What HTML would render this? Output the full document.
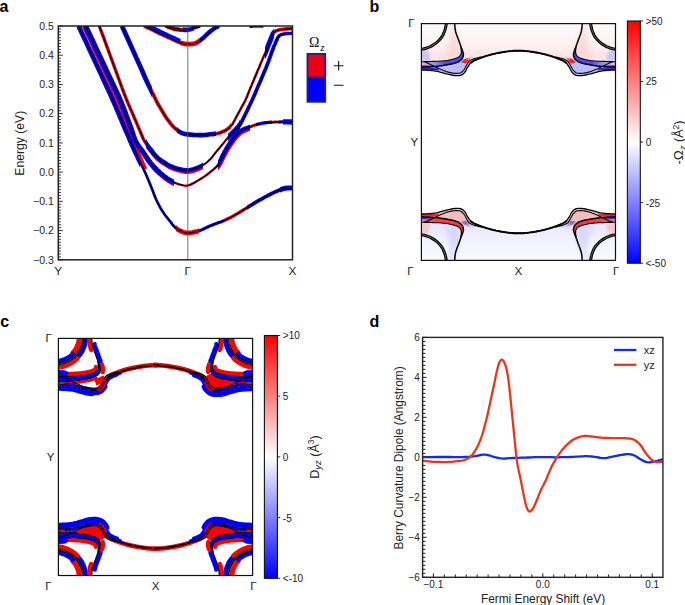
<!DOCTYPE html>
<html><head><meta charset="utf-8"><style>
html,body{margin:0;padding:0;background:#fff;}
svg{display:block;}
</style></head><body>
<svg width="685" height="605" viewBox="0 0 685 605">
<defs>
<linearGradient id="cb0" x1="0" y1="0" x2="0" y2="1"><stop offset="0" stop-color="#ff0000"/><stop offset="0.5" stop-color="#ffffff"/><stop offset="1" stop-color="#0000ff"/></linearGradient>
<linearGradient id="cb1" x1="0" y1="0" x2="0" y2="1"><stop offset="0" stop-color="#ff0000"/><stop offset="0.5" stop-color="#ffffff"/><stop offset="1" stop-color="#0000ff"/></linearGradient>
<clipPath id="clipA"><rect x="58.3" y="26" width="234.2" height="233.8"/></clipPath>
<clipPath id="cr_B1_100"><rect x="100" y="0" width="40" height="300"/></clipPath>
<clipPath id="cl_B1_76"><rect x="76" y="0" width="64" height="300"/></clipPath>
<clipPath id="cl_B1_140"><rect x="140" y="0" width="36" height="300"/></clipPath>
<clipPath id="cl_B1_176"><rect x="176" y="0" width="23" height="300"/></clipPath>
<clipPath id="cl_B1_199"><rect x="199" y="0" width="25" height="300"/></clipPath>
<clipPath id="cl_B1_224"><rect x="224" y="0" width="23" height="300"/></clipPath>
<clipPath id="cl_B1_247"><rect x="247" y="0" width="33" height="300"/></clipPath>
<clipPath id="cl_B1_280"><rect x="280" y="0" width="13" height="300"/></clipPath>
<clipPath id="cl_B1b_80"><rect x="80" y="0" width="67" height="300"/></clipPath>
<clipPath id="cr_B2_124"><rect x="124" y="0" width="50" height="300"/></clipPath>
<clipPath id="cr_B2_218"><rect x="218" y="0" width="32" height="300"/></clipPath>
<clipPath id="cl_B2_84"><rect x="84" y="0" width="40" height="300"/></clipPath>
<clipPath id="cl_B2_124"><rect x="124" y="0" width="50" height="300"/></clipPath>
<clipPath id="cl_B2_174"><rect x="174" y="0" width="44" height="300"/></clipPath>
<clipPath id="cl_B2_218"><rect x="218" y="0" width="32" height="300"/></clipPath>
<clipPath id="cl_B2_250"><rect x="250" y="0" width="6" height="300"/></clipPath>
<clipPath id="cl_B2_256"><rect x="256" y="0" width="16" height="300"/></clipPath>
<clipPath id="cl_B2_272"><rect x="272" y="0" width="7" height="300"/></clipPath>
<clipPath id="cl_B2_279"><rect x="279" y="0" width="4" height="300"/></clipPath>
<clipPath id="cl_B2_283"><rect x="283" y="0" width="10" height="300"/></clipPath>
<clipPath id="cr_B3_146"><rect x="146" y="0" width="57" height="300"/></clipPath>
<clipPath id="cl_B3_97"><rect x="97" y="0" width="49" height="300"/></clipPath>
<clipPath id="cl_B3_146"><rect x="146" y="0" width="42" height="300"/></clipPath>
<clipPath id="cl_B3_188"><rect x="188" y="0" width="15" height="300"/></clipPath>
<clipPath id="cl_B3_203"><rect x="203" y="0" width="25" height="300"/></clipPath>
<clipPath id="cl_B3_228"><rect x="228" y="0" width="12" height="300"/></clipPath>
<clipPath id="cl_B3_240"><rect x="240" y="0" width="39" height="300"/></clipPath>
<clipPath id="cl_B3_279"><rect x="279" y="0" width="14" height="300"/></clipPath>
<clipPath id="cl_B4_120"><rect x="120" y="0" width="32" height="300"/></clipPath>
<clipPath id="cl_B4_152"><rect x="152" y="0" width="25" height="300"/></clipPath>
<clipPath id="cl_B4_177"><rect x="177" y="0" width="39" height="300"/></clipPath>
<clipPath id="cl_B4_216"><rect x="216" y="0" width="15" height="300"/></clipPath>
<clipPath id="cl_B4_231"><rect x="231" y="0" width="34" height="300"/></clipPath>
<clipPath id="cl_B4_265"><rect x="265" y="0" width="9.300000000000011" height="300"/></clipPath>
<clipPath id="cl_B4_274.3"><rect x="274.3" y="0" width="18.69999999999999" height="300"/></clipPath>
<clipPath id="cl_B5_142"><rect x="142" y="0" width="38" height="300"/></clipPath>
<clipPath id="cl_B5_180"><rect x="180" y="0" width="20" height="300"/></clipPath>
<clipPath id="cl_B5_200"><rect x="200" y="0" width="22" height="300"/></clipPath>
<clipPath id="cl_B5b_145"><rect x="145" y="0" width="36" height="300"/></clipPath>
<clipPath id="cl_B6c_164"><rect x="164" y="0" width="22" height="300"/></clipPath>
<clipPath id="cl_B7_249"><rect x="249" y="0" width="15" height="300"/></clipPath>
<clipPath id="cl_B6_164"><rect x="164" y="0" width="19" height="300"/></clipPath>
<clipPath id="cl_B6_183"><rect x="183" y="0" width="11" height="300"/></clipPath>
<clipPath id="cl_B6_194"><rect x="194" y="0" width="8" height="300"/></clipPath>
<clipPath id="clipD"><rect x="422.6" y="337.4" width="240.3" height="239.9"/></clipPath>
<filter id="blur05" x="-20%" y="-20%" width="140%" height="140%"><feGaussianBlur stdDeviation="0.5"/></filter>
<filter id="blur08" x="-30%" y="-50%" width="160%" height="200%"><feGaussianBlur stdDeviation="0.8"/></filter>
<filter id="blur1" x="-30%" y="-30%" width="160%" height="160%"><feGaussianBlur stdDeviation="1.2"/></filter>
<filter id="blur2" x="-50%" y="-50%" width="200%" height="200%"><feGaussianBlur stdDeviation="2.5"/></filter>
<linearGradient id="washp" gradientUnits="userSpaceOnUse" x1="0" y1="-2" x2="0" y2="30"><stop offset="0" stop-color="#fefafa"/><stop offset="0.5" stop-color="#fdf5f5"/><stop offset="0.8" stop-color="#fcefef"/><stop offset="1" stop-color="#fbe6e6"/></linearGradient>
<linearGradient id="washn" gradientUnits="userSpaceOnUse" x1="0" y1="-2" x2="0" y2="30"><stop offset="0" stop-color="#f9f9fe"/><stop offset="0.5" stop-color="#f5f5fe"/><stop offset="0.8" stop-color="#f0f0fd"/><stop offset="1" stop-color="#eaeafc"/></linearGradient>
<linearGradient id="c2gp" gradientUnits="userSpaceOnUse" x1="0" y1="0" x2="30" y2="0"><stop offset="0" stop-color="#2020f4" stop-opacity="0.15"/><stop offset="0.45" stop-color="#2020f4" stop-opacity="0.45"/><stop offset="0.8" stop-color="#2020f4" stop-opacity="0.8"/></linearGradient>
<linearGradient id="c2gn" gradientUnits="userSpaceOnUse" x1="0" y1="0" x2="30" y2="0"><stop offset="0" stop-color="#ff1a1a" stop-opacity="0.55"/><stop offset="0.3" stop-color="#ff1a1a" stop-opacity="0.8"/><stop offset="0.8" stop-color="#ff1a1a" stop-opacity="0.85"/></linearGradient>
<g id="qbp"><path d="M-2,-2 L99.05,-2 L99.05,27 L99.0,27.0 L98.7,27.0 L98.4,27.0 L98.1,27.0 L97.8,27.0 L97.4,27.0 L97.0,27.0 L96.4,27.0 L95.7,27.0 L94.9,27.1 L94.1,27.1 L93.3,27.2 L92.4,27.2 L91.3,27.3 L90.1,27.4 L88.8,27.6 L87.5,27.7 L86.2,27.8 L85.0,28.0 L83.8,28.2 L82.6,28.4 L81.4,28.5 L80.2,28.8 L79.0,29.0 L77.8,29.2 L76.5,29.5 L75.2,29.7 L73.9,30.0 L72.6,30.3 L71.3,30.6 L70.0,30.9 L68.8,31.2 L67.6,31.5 L66.5,31.9 L65.3,32.2 L64.2,32.6 L63.2,32.9 L62.4,33.2 L61.6,33.5 L60.9,33.7 L60.1,34.0 L59.4,34.3 L58.6,34.6 L57.7,35.0 L56.7,35.3 L55.7,35.7 L54.7,36.1 L53.8,36.5 L52.9,36.9 L52.2,37.2 L51.6,37.6 L51.0,37.9 L50.5,38.3 L49.9,38.7 L49.4,39.2 L48.8,39.8 L48.3,40.5 L47.8,41.2 L47.3,42.0 L46.8,42.8 L46.3,43.6 L45.8,44.5 L45.3,45.4 L44.9,46.3 L44.4,47.2 L43.9,48.1 L43.3,48.8 L42.8,49.4 L42.3,49.9 L41.7,50.4 L41.1,50.8 L40.5,51.2 L39.8,51.5 L38.9,51.8 L37.9,51.9 L36.9,52.0 L35.8,52.0 L34.7,52.0 L33.6,51.9 L32.2,51.8 L30.8,51.5 L29.3,51.2 L27.9,50.9 L26.4,50.5 L24.9,50.2 L23.4,49.8 L21.9,49.4 L20.4,49.0 L18.9,48.5 L17.5,48.1 L16.0,47.8 L14.6,47.6 L13.3,47.4 L12.0,47.2 L10.7,47.0 L9.3,46.9 L8.0,46.8 L6.6,46.7 L5.1,46.6 L3.7,46.6 L2.3,46.5 L1.0,46.5 L0.0,46.5 L-0.4,46.5 L-0.8,46.5 L-1.1,46.5 L-1.4,46.5 L-1.7,46.5 L-2.0,46.5 Z" fill="url(#washp)"/>
<path d="M24,-1 L33,-1 C34,10 37,18 40,26 C40,31 38,34 34,35.5 L20,36.5 C24,30 28,20 28,10 Z" fill="#f7caca" opacity="0.38" filter="url(#blur2)"/>
<ellipse cx="33.5" cy="22" rx="4.5" ry="12" fill="#f7caca" opacity="0.35" filter="url(#blur2)"/>
<path d="M-1,27 L5,26 C8,29 9,33 9,38 L-1,38 Z" fill="#bcbcf6" opacity="0.75" filter="url(#blur1)"/>
<path d="M41.0,34.6 40.7,35.0 40.3,35.3 40.0,35.7 39.7,36.1 39.3,36.4 39.0,36.8 38.6,37.1 38.2,37.4 37.7,37.7 37.2,38.0 36.7,38.3 36.1,38.6 35.5,38.8 34.9,39.0 34.3,39.3 33.6,39.5 32.7,39.8 31.6,40.0 30.6,40.3 29.4,40.5 28.3,40.7 27.2,40.9 26.0,41.1 24.9,41.3 23.8,41.5 22.7,41.7 21.6,41.8 20.5,42.0 19.4,42.2 18.3,42.3 17.2,42.5 16.1,42.6 15.1,42.7 14.1,42.8 13.0,42.9 12.0,43.0 11.0,43.1 10.0,43.1 9.0,43.2 8.0,43.3 10.0,41.3 10.7,41.7 11.5,42.0 12.2,42.4 13.0,42.8 13.7,43.1 14.5,43.5 15.2,43.8 16.0,44.2 16.8,44.6 17.5,44.9 18.3,45.3 19.1,45.6 19.8,46.0 20.6,46.3 21.3,46.6 22.0,46.9 22.5,47.1 23.0,47.3 23.5,47.5 24.0,47.7 24.4,47.8 24.9,48.0 25.4,48.1 26.0,48.3 26.8,48.5 27.8,48.7 28.7,49.0 29.7,49.2 30.7,49.4 31.7,49.5 32.7,49.6 33.6,49.7 34.3,49.7 35.0,49.8 35.7,49.8 36.4,49.8 37.1,49.7 37.7,49.6 38.3,49.5 38.9,49.3 39.4,49.1 39.8,48.8 40.3,48.5 40.7,48.2 41.1,47.9 41.5,47.5 41.8,47.1 42.2,46.7 42.6,46.2 42.9,45.7 43.3,45.2 43.6,44.6 43.9,44.0 44.2,43.4 44.5,42.9 44.8,42.3 45.1,41.8 45.4,41.2 45.8,40.7 46.1,40.1 46.4,39.6 46.7,39.1 47.1,38.5 47.4,38.0Z" fill="#bcbcf6" opacity="0.9" filter="url(#blur05)"/>
<path d="M41.0,34.6 40.7,35.0 40.3,35.3 40.0,35.7 39.7,36.1 39.3,36.4 39.0,36.8 38.6,37.1 38.2,37.4 37.7,37.7 37.2,38.0 36.7,38.3 36.1,38.6 35.5,38.8 34.9,39.0 34.3,39.3 33.6,39.5 32.7,39.8 31.6,40.0 30.6,40.3 29.4,40.5 28.3,40.7 27.2,40.9 26.0,41.1 24.9,41.3 23.8,41.5 22.7,41.7 21.6,41.8 20.5,42.0 19.4,42.2 18.3,42.3 17.2,42.5 16.1,42.6 15.1,42.7 14.1,42.8 13.0,42.9 12.0,43.0 11.0,43.1 10.0,43.1 9.0,43.2 8.0,43.3 10.0,41.3 10.7,41.7 11.5,42.0 12.2,42.4 13.0,42.8 13.7,43.1 14.5,43.5 15.2,43.8 16.0,44.2 16.8,44.6 17.5,44.9 18.3,45.3 19.1,45.6 19.8,46.0 20.6,46.3 21.3,46.6 22.0,46.9 22.5,47.1 23.0,47.3 23.5,47.5 24.0,47.7 24.4,47.8 24.9,48.0 25.4,48.1 26.0,48.3 26.8,48.5 27.8,48.7 28.7,49.0 29.7,49.2 30.7,49.4 31.7,49.5 32.7,49.6 33.6,49.7 34.3,49.7 35.0,49.8 35.7,49.8 36.4,49.8 37.1,49.7 37.7,49.6 38.3,49.5 38.9,49.3 39.4,49.1 39.8,48.8 40.3,48.5 40.7,48.2 41.1,47.9 41.5,47.5 41.8,47.1 42.2,46.7 42.6,46.2 42.9,45.7 43.3,45.2 43.6,44.6 43.9,44.0 44.2,43.4 44.5,42.9 44.8,42.3 45.1,41.8 45.4,41.2 45.8,40.7 46.1,40.1 46.4,39.6 46.7,39.1 47.1,38.5 47.4,38.0Z" fill="#bcbcf6" opacity="0.9"/>
<path d="M16.0,44.2 16.8,44.5 17.5,44.9 18.3,45.3 19.1,45.6 19.8,46.0 20.6,46.3 21.3,46.6 22.0,46.9 22.5,47.1 23.0,47.3 23.5,47.5 24.0,47.7 24.4,47.8 24.9,48.0 25.4,48.1 26.0,48.3 26.8,48.5 27.8,48.7 28.7,49.0 29.7,49.2 30.7,49.4 31.7,49.5 32.7,49.6 33.6,49.7 34.3,49.7 35.0,49.8 35.7,49.8 36.4,49.8 37.1,49.7 37.7,49.6 38.3,49.5 38.9,49.3 39.4,49.1 39.8,48.8 40.3,48.5 40.7,48.2 41.1,47.9 41.5,47.5 41.8,47.1 42.2,46.7 42.6,46.2 42.9,45.7 43.3,45.2 43.6,44.6 43.9,44.0 44.2,43.4 44.5,42.9 44.8,42.3 45.1,41.7 45.4,41.2 45.7,40.6 46.0,40.0 46.3,39.5 46.7,38.9 47.0,38.4 47.4,38.0 47.8,37.6 48.2,37.3 48.6,37.0 49.1,36.8 49.5,36.5 50.0,36.3 50.5,36.0 51.0,35.8 51.6,35.5 52.3,35.3 53.0,35.1 53.7,34.8 54.4,34.6 55.1,34.4 55.8,34.3 56.4,34.1 56.9,34.0 57.3,33.9 57.8,33.8 58.2,33.7 58.7,33.6 59.1,33.6 59.6,33.5 60.0,33.4 63.2,32.9 62.6,33.1 62.1,33.3 61.5,33.5 60.9,33.7 60.4,33.9 59.8,34.2 59.2,34.4 58.6,34.6 57.9,34.9 57.2,35.1 56.4,35.4 55.7,35.7 54.9,36.0 54.2,36.3 53.5,36.6 52.9,36.9 52.4,37.2 51.9,37.4 51.5,37.7 51.0,37.9 50.6,38.2 50.2,38.5 49.8,38.8 49.4,39.2 49.0,39.7 48.6,40.2 48.2,40.7 47.8,41.2 47.4,41.8 47.0,42.4 46.7,43.0 46.3,43.6 45.9,44.2 45.6,44.9 45.2,45.6 44.9,46.3 44.5,47.0 44.1,47.6 43.7,48.3 43.3,48.8 42.9,49.2 42.5,49.6 42.1,50.0 41.7,50.4 41.3,50.7 40.8,51.0 40.3,51.3 39.8,51.5 39.1,51.7 38.4,51.9 37.7,51.9 36.9,52.0 36.1,52.0 35.3,52.0 34.4,52.0 33.6,51.9 32.6,51.8 31.5,51.7 30.4,51.5 29.3,51.2 28.2,51.0 27.1,50.7 26.0,50.5 24.9,50.2 23.8,49.9 22.7,49.6 21.6,49.3 20.5,49.0 19.3,48.7 18.2,48.4 17.1,48.1 16.0,47.8Z" fill="#bcbcf6" opacity="0.8"/>
<path d="M39.4,23.5 39.5,24.1 39.6,24.8 39.7,25.4 39.7,26.0 39.8,26.7 39.9,27.3 39.9,27.9 39.9,28.4 39.9,28.8 39.8,29.2 39.8,29.6 39.7,29.9 39.6,30.3 39.5,30.6 39.4,31.0 39.2,31.3 39.0,31.6 38.8,31.9 38.6,32.2 38.3,32.4 38.1,32.7 37.8,32.9 37.5,33.2 37.2,33.4 36.8,33.6 36.4,33.9 36.0,34.1 35.6,34.3 35.1,34.5 34.7,34.6 34.1,34.8 33.6,35.0 32.7,35.3 31.7,35.5 30.7,35.8 29.6,36.1 28.5,36.3 27.3,36.5 26.1,36.7 24.9,36.9 23.4,37.1 21.8,37.2 20.1,37.4 18.4,37.5 16.7,37.6 15.0,37.7 13.3,37.7 11.7,37.8 10.1,37.9 8.5,37.9 6.8,38.0 5.2,38.0 3.6,38.0 2.2,38.1 1.0,38.1 0.0,38.1 -0.3,38.1 -0.6,38.1 -0.9,38.1 -1.1,38.1 -1.3,38.1 -1.5,38.1 -1.8,38.1 -2.0,38.1 -2.0,43.6 -1.8,43.6 -1.5,43.6 -1.3,43.6 -1.1,43.6 -0.8,43.6 -0.6,43.6 -0.3,43.6 0.0,43.6 0.7,43.6 1.6,43.6 2.6,43.5 3.7,43.5 4.8,43.5 5.9,43.4 7.0,43.4 8.0,43.3 9.0,43.2 10.0,43.2 11.0,43.1 12.0,43.0 13.0,42.9 14.1,42.8 15.1,42.7 16.1,42.6 17.2,42.5 18.3,42.3 19.4,42.2 20.5,42.0 21.6,41.8 22.7,41.7 23.8,41.5 24.9,41.3 26.0,41.1 27.2,40.9 28.3,40.7 29.4,40.5 30.6,40.3 31.6,40.0 32.7,39.8 33.6,39.5 34.3,39.3 34.9,39.0 35.5,38.8 36.1,38.6 36.7,38.3 37.2,38.0 37.7,37.7 38.2,37.4 38.6,37.1 39.0,36.8 39.4,36.5 39.8,36.1 40.1,35.7 40.5,35.4 40.7,35.0 41.0,34.6 41.2,34.2 41.4,33.8 41.6,33.4 41.7,33.0 41.8,32.5 41.9,32.1 42.0,31.6 42.0,31.2 42.0,30.7 41.9,30.3 41.9,29.8 41.8,29.3 41.6,28.9 41.5,28.4 41.3,27.9 41.2,27.4 41.0,26.8 40.8,26.2 40.6,25.5 40.3,24.8 40.1,24.2 39.8,23.5 39.5,22.9 39.3,22.2Z" fill="url(#c2gp)"/>
<path d="M39.6,38.6 L44,34.9 L49.8,34.0 L48,36.2 L44.5,39.8 Z" fill="#ff1a1a" opacity="1.0" filter="url(#blur05)"/>
<ellipse cx="50" cy="34.6" rx="5" ry="1.6" fill="#f7caca" opacity="0.8" filter="url(#blur1)"/>
<path d="M-1,41.3 L6,41.6 L13,42.3 L18,43.2 L12,43.6 L6,43.5 L-1,43.4 Z" fill="#ff1a1a" filter="url(#blur05)"/>
<path d="M-1,43.7 L8,43.9 L16,44.6 L18,46.9 L8,46.4 L-1,46.3 Z" fill="#2020f4" filter="url(#blur05)"/>
<path d="M25.2,-2.0 25.1,-1.5 25.0,-1.0 25.0,-0.5 24.9,-0.0 24.8,0.5 24.7,1.2 24.6,2.0 24.4,2.8 24.3,3.6 24.1,4.4 23.9,5.1 23.8,5.7 23.6,6.3 23.4,6.9 23.1,7.6 22.7,8.7 22.2,9.8 21.7,11.0 21.1,12.2 20.4,13.3 19.6,14.5 18.6,15.6 17.6,16.7 16.6,17.7 15.5,18.7 14.4,19.6 13.2,20.5 11.9,21.3 10.7,22.0 9.5,22.7 8.5,23.2 7.5,23.6 6.5,24.0 5.6,24.4 4.6,24.7 3.7,24.9 2.9,25.1 2.1,25.3 1.3,25.5 0.5,25.6 -0.0,25.7 -0.5,25.7 -1.0,25.8 -1.5,25.8 -2.0,25.9" fill="none" stroke="#000" stroke-width="3.0" stroke-linejoin="round"/><path d="M25.2,-2.0 25.1,-1.5 25.0,-1.0 25.0,-0.5 24.9,-0.0 24.8,0.5 24.7,1.2 24.6,2.0 24.4,2.8 24.3,3.6 24.1,4.4 23.9,5.1 23.8,5.7 23.6,6.3 23.4,6.9 23.1,7.6 22.7,8.7 22.2,9.8 21.7,11.0 21.1,12.2 20.4,13.3 19.6,14.5 18.6,15.6 17.6,16.7 16.6,17.7 15.5,18.7 14.4,19.6 13.2,20.5 11.9,21.3 10.7,22.0 9.5,22.7 8.5,23.2 7.5,23.6 6.5,24.0 5.6,24.4 4.6,24.7 3.7,24.9 2.9,25.1 2.1,25.3 1.3,25.5 0.5,25.6 -0.0,25.7 -0.5,25.7 -1.0,25.8 -1.5,25.8 -2.0,25.9" fill="none" stroke="#bbb" stroke-width="0.55" stroke-linejoin="round"/>
<path d="M33.2,-2.0 33.2,-1.5 33.2,-1.1 33.2,-0.6 33.3,-0.1 33.3,0.5 33.4,1.8 33.5,3.3 33.7,5.0 34.0,6.7 34.3,8.3 34.7,9.7 35.2,11.1 35.7,12.5 36.3,13.9 36.8,15.3 37.3,16.7 37.8,18.1 38.3,19.5 38.8,20.9 39.3,22.2 39.7,23.3 40.1,24.4 40.5,25.4 40.9,26.4 41.2,27.4 41.4,28.2 41.7,29.0 41.9,29.7 42.0,30.5 42.0,31.2 41.9,31.9 41.8,32.6 41.6,33.3 41.3,34.0 41.0,34.6 40.6,35.2 40.1,35.8 39.5,36.4 38.9,36.9 38.2,37.4 37.4,37.9 36.6,38.4 35.6,38.8 34.7,39.1 33.6,39.5 32.1,39.9 30.3,40.3 28.5,40.7 26.7,41.0 24.9,41.3 23.1,41.6 21.4,41.9 19.6,42.1 17.8,42.4 16.1,42.6 14.5,42.8 12.8,42.9 11.2,43.1 9.6,43.2 8.0,43.3 6.3,43.4 4.5,43.5 2.8,43.5 1.3,43.6 0.0,43.6 -0.5,43.6 -0.9,43.6 -1.3,43.6 -1.6,43.6 -2.0,43.6" fill="none" stroke="#000" stroke-width="1.5" stroke-linejoin="round" stroke-linecap="round"/>
<path d="M39.4,23.5 39.5,24.5 39.7,25.5 39.8,26.5 39.9,27.5 39.9,28.4 39.8,29.0 39.8,29.7 39.6,30.2 39.4,30.8 39.2,31.3 38.9,31.8 38.5,32.2 38.1,32.6 37.7,33.0 37.2,33.4 36.6,33.8 35.9,34.1 35.2,34.4 34.5,34.7 33.6,35.0 32.1,35.4 30.5,35.9 28.7,36.2 26.8,36.6 24.9,36.9 22.4,37.2 19.8,37.4 17.1,37.6 14.3,37.7 11.7,37.8 9.2,37.9 6.5,38.0 3.9,38.0 1.7,38.1 0.0,38.1 -0.5,38.1 -0.9,38.1 -1.3,38.1 -1.6,38.1 -2.0,38.1" fill="none" stroke="#000" stroke-width="1.1" stroke-linejoin="round" stroke-linecap="round"/>
<path d="M3.5,38.3 4.8,38.9 6.1,39.5 7.4,40.1 8.7,40.7 10.0,41.3 11.2,41.9 12.4,42.5 13.6,43.1 14.8,43.6 16.0,44.2 17.2,44.8 18.5,45.3 19.7,45.9 20.9,46.4 22.0,46.9 22.8,47.2 23.6,47.5 24.3,47.8 25.1,48.1 26.0,48.3 27.4,48.6 28.9,49.0 30.5,49.3 32.1,49.6 33.6,49.7 34.7,49.8 35.9,49.8 36.9,49.7 38.0,49.6 38.9,49.3 39.7,48.9 40.4,48.5 41.0,47.9 41.6,47.3 42.2,46.7 42.8,45.9 43.3,45.1 43.8,44.1 44.3,43.2 44.8,42.3 45.3,41.4 45.8,40.5 46.3,39.6 46.8,38.7 47.4,38.0 48.0,37.4 48.7,37.0 49.4,36.6 50.2,36.2 51.0,35.8 52.0,35.4 53.1,35.0 54.3,34.7 55.4,34.4 56.4,34.1 57.2,33.9 57.9,33.8 58.6,33.7 59.3,33.5 60.0,33.4" fill="none" stroke="#000" stroke-width="1.1" stroke-linejoin="round" stroke-linecap="round"/>
<path d="M-2.0,46.5 -1.6,46.5 -1.3,46.5 -0.9,46.5 -0.5,46.5 0.0,46.5 1.3,46.5 2.8,46.6 4.5,46.6 6.3,46.7 8.0,46.8 9.6,46.9 11.2,47.1 12.8,47.3 14.4,47.5 16.0,47.8 17.8,48.2 19.5,48.7 21.3,49.2 23.1,49.7 24.9,50.2 26.7,50.6 28.4,51.0 30.2,51.4 32.0,51.7 33.6,51.9 34.9,52.0 36.3,52.0 37.5,52.0 38.7,51.8 39.8,51.5 40.6,51.1 41.4,50.7 42.0,50.1 42.7,49.5 43.3,48.8 44.0,47.9 44.6,46.9 45.1,45.7 45.7,44.6 46.3,43.6 46.9,42.7 47.5,41.7 48.1,40.8 48.7,39.9 49.4,39.2 50.0,38.6 50.7,38.2 51.4,37.7 52.1,37.3 52.9,36.9 53.9,36.4 55.1,35.9 56.3,35.5 57.5,35.0 58.6,34.6 59.5,34.2 60.4,33.9 61.3,33.6 62.2,33.2 63.2,32.9 64.5,32.5 65.8,32.1 67.2,31.7 68.6,31.3 70.0,30.9 71.5,30.5 73.1,30.2 74.7,29.8 76.2,29.5 77.8,29.2 79.3,28.9 80.7,28.7 82.1,28.4 83.6,28.2 85.0,28.0 86.5,27.8 88.0,27.6 89.6,27.5 91.0,27.4 92.4,27.2 93.4,27.2 94.4,27.1 95.4,27.1 96.3,27.0 97.0,27.0 97.5,27.0 97.9,27.0 98.3,27.0 98.6,27.0 99.0,27.0" fill="none" stroke="#000" stroke-width="1.3" stroke-linejoin="round" stroke-linecap="round"/>
<path d="M49.4,39.2 50.1,38.7 50.7,38.3 51.4,37.8 52.1,37.3 52.9,36.9 53.9,36.4 55.1,35.9 56.3,35.5 57.5,35.0 58.6,34.6 59.5,34.2 60.4,33.9 61.3,33.6 62.2,33.2 63.2,32.9 64.5,32.5 65.8,32.1 67.2,31.7 68.6,31.3 70.0,30.9 71.5,30.5 73.1,30.2 74.7,29.8 76.2,29.5 77.8,29.2 79.3,28.9 80.7,28.7 82.1,28.4 83.6,28.2 85.0,28.0 86.5,27.8 88.0,27.6 89.6,27.5 91.0,27.4 92.4,27.2 93.4,27.2 94.4,27.1 95.4,27.1 96.3,27.0 97.0,27.0 97.5,27.0 97.9,27.0 98.3,27.0 98.6,27.0 99.0,27.0" fill="none" stroke="#000" stroke-width="1.9" stroke-linejoin="round" stroke-linecap="round"/></g>
<g id="qbn"><path d="M-2,-2 L99.05,-2 L99.05,27 L99.0,27.0 L98.7,27.0 L98.4,27.0 L98.1,27.0 L97.8,27.0 L97.4,27.0 L97.0,27.0 L96.4,27.0 L95.7,27.0 L94.9,27.1 L94.1,27.1 L93.3,27.2 L92.4,27.2 L91.3,27.3 L90.1,27.4 L88.8,27.6 L87.5,27.7 L86.2,27.8 L85.0,28.0 L83.8,28.2 L82.6,28.4 L81.4,28.5 L80.2,28.8 L79.0,29.0 L77.8,29.2 L76.5,29.5 L75.2,29.7 L73.9,30.0 L72.6,30.3 L71.3,30.6 L70.0,30.9 L68.8,31.2 L67.6,31.5 L66.5,31.9 L65.3,32.2 L64.2,32.6 L63.2,32.9 L62.4,33.2 L61.6,33.5 L60.9,33.7 L60.1,34.0 L59.4,34.3 L58.6,34.6 L57.7,35.0 L56.7,35.3 L55.7,35.7 L54.7,36.1 L53.8,36.5 L52.9,36.9 L52.2,37.2 L51.6,37.6 L51.0,37.9 L50.5,38.3 L49.9,38.7 L49.4,39.2 L48.8,39.8 L48.3,40.5 L47.8,41.2 L47.3,42.0 L46.8,42.8 L46.3,43.6 L45.8,44.5 L45.3,45.4 L44.9,46.3 L44.4,47.2 L43.9,48.1 L43.3,48.8 L42.8,49.4 L42.3,49.9 L41.7,50.4 L41.1,50.8 L40.5,51.2 L39.8,51.5 L38.9,51.8 L37.9,51.9 L36.9,52.0 L35.8,52.0 L34.7,52.0 L33.6,51.9 L32.2,51.8 L30.8,51.5 L29.3,51.2 L27.9,50.9 L26.4,50.5 L24.9,50.2 L23.4,49.8 L21.9,49.4 L20.4,49.0 L18.9,48.5 L17.5,48.1 L16.0,47.8 L14.6,47.6 L13.3,47.4 L12.0,47.2 L10.7,47.0 L9.3,46.9 L8.0,46.8 L6.6,46.7 L5.1,46.6 L3.7,46.6 L2.3,46.5 L1.0,46.5 L0.0,46.5 L-0.4,46.5 L-0.8,46.5 L-1.1,46.5 L-1.4,46.5 L-1.7,46.5 L-2.0,46.5 Z" fill="url(#washn)"/>
<path d="M24,-1 L33,-1 C34,10 37,18 40,26 C40,31 38,34 34,35.5 L20,36.5 C24,30 28,20 28,10 Z" fill="#c8c8f6" opacity="0.38" filter="url(#blur2)"/>
<ellipse cx="33.5" cy="22" rx="4.5" ry="12" fill="#c8c8f6" opacity="0.35" filter="url(#blur2)"/>
<path d="M-1,27 L5,26 C8,29 9,33 9,38 L-1,38 Z" fill="#f6bcbc" opacity="0.75" filter="url(#blur1)"/>
<path d="M41.0,34.6 40.7,35.0 40.3,35.3 40.0,35.7 39.7,36.1 39.3,36.4 39.0,36.8 38.6,37.1 38.2,37.4 37.7,37.7 37.2,38.0 36.7,38.3 36.1,38.6 35.5,38.8 34.9,39.0 34.3,39.3 33.6,39.5 32.7,39.8 31.6,40.0 30.6,40.3 29.4,40.5 28.3,40.7 27.2,40.9 26.0,41.1 24.9,41.3 23.8,41.5 22.7,41.7 21.6,41.8 20.5,42.0 19.4,42.2 18.3,42.3 17.2,42.5 16.1,42.6 15.1,42.7 14.1,42.8 13.0,42.9 12.0,43.0 11.0,43.1 10.0,43.1 9.0,43.2 8.0,43.3 10.0,41.3 10.7,41.7 11.5,42.0 12.2,42.4 13.0,42.8 13.7,43.1 14.5,43.5 15.2,43.8 16.0,44.2 16.8,44.6 17.5,44.9 18.3,45.3 19.1,45.6 19.8,46.0 20.6,46.3 21.3,46.6 22.0,46.9 22.5,47.1 23.0,47.3 23.5,47.5 24.0,47.7 24.4,47.8 24.9,48.0 25.4,48.1 26.0,48.3 26.8,48.5 27.8,48.7 28.7,49.0 29.7,49.2 30.7,49.4 31.7,49.5 32.7,49.6 33.6,49.7 34.3,49.7 35.0,49.8 35.7,49.8 36.4,49.8 37.1,49.7 37.7,49.6 38.3,49.5 38.9,49.3 39.4,49.1 39.8,48.8 40.3,48.5 40.7,48.2 41.1,47.9 41.5,47.5 41.8,47.1 42.2,46.7 42.6,46.2 42.9,45.7 43.3,45.2 43.6,44.6 43.9,44.0 44.2,43.4 44.5,42.9 44.8,42.3 45.1,41.8 45.4,41.2 45.8,40.7 46.1,40.1 46.4,39.6 46.7,39.1 47.1,38.5 47.4,38.0Z" fill="#f6bcbc" opacity="0.9" filter="url(#blur05)"/>
<path d="M41.0,34.6 40.7,35.0 40.3,35.3 40.0,35.7 39.7,36.1 39.3,36.4 39.0,36.8 38.6,37.1 38.2,37.4 37.7,37.7 37.2,38.0 36.7,38.3 36.1,38.6 35.5,38.8 34.9,39.0 34.3,39.3 33.6,39.5 32.7,39.8 31.6,40.0 30.6,40.3 29.4,40.5 28.3,40.7 27.2,40.9 26.0,41.1 24.9,41.3 23.8,41.5 22.7,41.7 21.6,41.8 20.5,42.0 19.4,42.2 18.3,42.3 17.2,42.5 16.1,42.6 15.1,42.7 14.1,42.8 13.0,42.9 12.0,43.0 11.0,43.1 10.0,43.1 9.0,43.2 8.0,43.3 10.0,41.3 10.7,41.7 11.5,42.0 12.2,42.4 13.0,42.8 13.7,43.1 14.5,43.5 15.2,43.8 16.0,44.2 16.8,44.6 17.5,44.9 18.3,45.3 19.1,45.6 19.8,46.0 20.6,46.3 21.3,46.6 22.0,46.9 22.5,47.1 23.0,47.3 23.5,47.5 24.0,47.7 24.4,47.8 24.9,48.0 25.4,48.1 26.0,48.3 26.8,48.5 27.8,48.7 28.7,49.0 29.7,49.2 30.7,49.4 31.7,49.5 32.7,49.6 33.6,49.7 34.3,49.7 35.0,49.8 35.7,49.8 36.4,49.8 37.1,49.7 37.7,49.6 38.3,49.5 38.9,49.3 39.4,49.1 39.8,48.8 40.3,48.5 40.7,48.2 41.1,47.9 41.5,47.5 41.8,47.1 42.2,46.7 42.6,46.2 42.9,45.7 43.3,45.2 43.6,44.6 43.9,44.0 44.2,43.4 44.5,42.9 44.8,42.3 45.1,41.8 45.4,41.2 45.8,40.7 46.1,40.1 46.4,39.6 46.7,39.1 47.1,38.5 47.4,38.0Z" fill="#f6bcbc" opacity="0.9"/>
<path d="M16.0,44.2 16.8,44.5 17.5,44.9 18.3,45.3 19.1,45.6 19.8,46.0 20.6,46.3 21.3,46.6 22.0,46.9 22.5,47.1 23.0,47.3 23.5,47.5 24.0,47.7 24.4,47.8 24.9,48.0 25.4,48.1 26.0,48.3 26.8,48.5 27.8,48.7 28.7,49.0 29.7,49.2 30.7,49.4 31.7,49.5 32.7,49.6 33.6,49.7 34.3,49.7 35.0,49.8 35.7,49.8 36.4,49.8 37.1,49.7 37.7,49.6 38.3,49.5 38.9,49.3 39.4,49.1 39.8,48.8 40.3,48.5 40.7,48.2 41.1,47.9 41.5,47.5 41.8,47.1 42.2,46.7 42.6,46.2 42.9,45.7 43.3,45.2 43.6,44.6 43.9,44.0 44.2,43.4 44.5,42.9 44.8,42.3 45.1,41.7 45.4,41.2 45.7,40.6 46.0,40.0 46.3,39.5 46.7,38.9 47.0,38.4 47.4,38.0 47.8,37.6 48.2,37.3 48.6,37.0 49.1,36.8 49.5,36.5 50.0,36.3 50.5,36.0 51.0,35.8 51.6,35.5 52.3,35.3 53.0,35.1 53.7,34.8 54.4,34.6 55.1,34.4 55.8,34.3 56.4,34.1 56.9,34.0 57.3,33.9 57.8,33.8 58.2,33.7 58.7,33.6 59.1,33.6 59.6,33.5 60.0,33.4 63.2,32.9 62.6,33.1 62.1,33.3 61.5,33.5 60.9,33.7 60.4,33.9 59.8,34.2 59.2,34.4 58.6,34.6 57.9,34.9 57.2,35.1 56.4,35.4 55.7,35.7 54.9,36.0 54.2,36.3 53.5,36.6 52.9,36.9 52.4,37.2 51.9,37.4 51.5,37.7 51.0,37.9 50.6,38.2 50.2,38.5 49.8,38.8 49.4,39.2 49.0,39.7 48.6,40.2 48.2,40.7 47.8,41.2 47.4,41.8 47.0,42.4 46.7,43.0 46.3,43.6 45.9,44.2 45.6,44.9 45.2,45.6 44.9,46.3 44.5,47.0 44.1,47.6 43.7,48.3 43.3,48.8 42.9,49.2 42.5,49.6 42.1,50.0 41.7,50.4 41.3,50.7 40.8,51.0 40.3,51.3 39.8,51.5 39.1,51.7 38.4,51.9 37.7,51.9 36.9,52.0 36.1,52.0 35.3,52.0 34.4,52.0 33.6,51.9 32.6,51.8 31.5,51.7 30.4,51.5 29.3,51.2 28.2,51.0 27.1,50.7 26.0,50.5 24.9,50.2 23.8,49.9 22.7,49.6 21.6,49.3 20.5,49.0 19.3,48.7 18.2,48.4 17.1,48.1 16.0,47.8Z" fill="#f6bcbc" opacity="0.8"/>
<path d="M39.4,23.5 39.5,24.1 39.6,24.8 39.7,25.4 39.7,26.0 39.8,26.7 39.9,27.3 39.9,27.9 39.9,28.4 39.9,28.8 39.8,29.2 39.8,29.6 39.7,29.9 39.6,30.3 39.5,30.6 39.4,31.0 39.2,31.3 39.0,31.6 38.8,31.9 38.6,32.2 38.3,32.4 38.1,32.7 37.8,32.9 37.5,33.2 37.2,33.4 36.8,33.6 36.4,33.9 36.0,34.1 35.6,34.3 35.1,34.5 34.7,34.6 34.1,34.8 33.6,35.0 32.7,35.3 31.7,35.5 30.7,35.8 29.6,36.1 28.5,36.3 27.3,36.5 26.1,36.7 24.9,36.9 23.4,37.1 21.8,37.2 20.1,37.4 18.4,37.5 16.7,37.6 15.0,37.7 13.3,37.7 11.7,37.8 10.1,37.9 8.5,37.9 6.8,38.0 5.2,38.0 3.6,38.0 2.2,38.1 1.0,38.1 0.0,38.1 -0.3,38.1 -0.6,38.1 -0.9,38.1 -1.1,38.1 -1.3,38.1 -1.5,38.1 -1.8,38.1 -2.0,38.1 -2.0,43.6 -1.8,43.6 -1.5,43.6 -1.3,43.6 -1.1,43.6 -0.8,43.6 -0.6,43.6 -0.3,43.6 0.0,43.6 0.7,43.6 1.6,43.6 2.6,43.5 3.7,43.5 4.8,43.5 5.9,43.4 7.0,43.4 8.0,43.3 9.0,43.2 10.0,43.2 11.0,43.1 12.0,43.0 13.0,42.9 14.1,42.8 15.1,42.7 16.1,42.6 17.2,42.5 18.3,42.3 19.4,42.2 20.5,42.0 21.6,41.8 22.7,41.7 23.8,41.5 24.9,41.3 26.0,41.1 27.2,40.9 28.3,40.7 29.4,40.5 30.6,40.3 31.6,40.0 32.7,39.8 33.6,39.5 34.3,39.3 34.9,39.0 35.5,38.8 36.1,38.6 36.7,38.3 37.2,38.0 37.7,37.7 38.2,37.4 38.6,37.1 39.0,36.8 39.4,36.5 39.8,36.1 40.1,35.7 40.5,35.4 40.7,35.0 41.0,34.6 41.2,34.2 41.4,33.8 41.6,33.4 41.7,33.0 41.8,32.5 41.9,32.1 42.0,31.6 42.0,31.2 42.0,30.7 41.9,30.3 41.9,29.8 41.8,29.3 41.6,28.9 41.5,28.4 41.3,27.9 41.2,27.4 41.0,26.8 40.8,26.2 40.6,25.5 40.3,24.8 40.1,24.2 39.8,23.5 39.5,22.9 39.3,22.2Z" fill="url(#c2gn)"/>
<path d="M39.6,38.6 L44,34.9 L49.8,34.0 L48,36.2 L44.5,39.8 Z" fill="#2020f4" opacity="0.5" filter="url(#blur05)"/>
<ellipse cx="50" cy="34.6" rx="5" ry="1.6" fill="#c8c8f6" opacity="0.8" filter="url(#blur1)"/>
<path d="M-1,41.3 L6,41.6 L13,42.3 L18,43.2 L12,43.6 L6,43.5 L-1,43.4 Z" fill="#2020f4" filter="url(#blur05)"/>
<path d="M-1,43.7 L8,43.9 L16,44.6 L18,46.9 L8,46.4 L-1,46.3 Z" fill="#ff1a1a" filter="url(#blur05)"/>
<path d="M25.2,-2.0 25.1,-1.5 25.0,-1.0 25.0,-0.5 24.9,-0.0 24.8,0.5 24.7,1.2 24.6,2.0 24.4,2.8 24.3,3.6 24.1,4.4 23.9,5.1 23.8,5.7 23.6,6.3 23.4,6.9 23.1,7.6 22.7,8.7 22.2,9.8 21.7,11.0 21.1,12.2 20.4,13.3 19.6,14.5 18.6,15.6 17.6,16.7 16.6,17.7 15.5,18.7 14.4,19.6 13.2,20.5 11.9,21.3 10.7,22.0 9.5,22.7 8.5,23.2 7.5,23.6 6.5,24.0 5.6,24.4 4.6,24.7 3.7,24.9 2.9,25.1 2.1,25.3 1.3,25.5 0.5,25.6 -0.0,25.7 -0.5,25.7 -1.0,25.8 -1.5,25.8 -2.0,25.9" fill="none" stroke="#000" stroke-width="3.0" stroke-linejoin="round"/><path d="M25.2,-2.0 25.1,-1.5 25.0,-1.0 25.0,-0.5 24.9,-0.0 24.8,0.5 24.7,1.2 24.6,2.0 24.4,2.8 24.3,3.6 24.1,4.4 23.9,5.1 23.8,5.7 23.6,6.3 23.4,6.9 23.1,7.6 22.7,8.7 22.2,9.8 21.7,11.0 21.1,12.2 20.4,13.3 19.6,14.5 18.6,15.6 17.6,16.7 16.6,17.7 15.5,18.7 14.4,19.6 13.2,20.5 11.9,21.3 10.7,22.0 9.5,22.7 8.5,23.2 7.5,23.6 6.5,24.0 5.6,24.4 4.6,24.7 3.7,24.9 2.9,25.1 2.1,25.3 1.3,25.5 0.5,25.6 -0.0,25.7 -0.5,25.7 -1.0,25.8 -1.5,25.8 -2.0,25.9" fill="none" stroke="#bbb" stroke-width="0.55" stroke-linejoin="round"/>
<path d="M33.2,-2.0 33.2,-1.5 33.2,-1.1 33.2,-0.6 33.3,-0.1 33.3,0.5 33.4,1.8 33.5,3.3 33.7,5.0 34.0,6.7 34.3,8.3 34.7,9.7 35.2,11.1 35.7,12.5 36.3,13.9 36.8,15.3 37.3,16.7 37.8,18.1 38.3,19.5 38.8,20.9 39.3,22.2 39.7,23.3 40.1,24.4 40.5,25.4 40.9,26.4 41.2,27.4 41.4,28.2 41.7,29.0 41.9,29.7 42.0,30.5 42.0,31.2 41.9,31.9 41.8,32.6 41.6,33.3 41.3,34.0 41.0,34.6 40.6,35.2 40.1,35.8 39.5,36.4 38.9,36.9 38.2,37.4 37.4,37.9 36.6,38.4 35.6,38.8 34.7,39.1 33.6,39.5 32.1,39.9 30.3,40.3 28.5,40.7 26.7,41.0 24.9,41.3 23.1,41.6 21.4,41.9 19.6,42.1 17.8,42.4 16.1,42.6 14.5,42.8 12.8,42.9 11.2,43.1 9.6,43.2 8.0,43.3 6.3,43.4 4.5,43.5 2.8,43.5 1.3,43.6 0.0,43.6 -0.5,43.6 -0.9,43.6 -1.3,43.6 -1.6,43.6 -2.0,43.6" fill="none" stroke="#000" stroke-width="1.5" stroke-linejoin="round" stroke-linecap="round"/>
<path d="M39.4,23.5 39.5,24.5 39.7,25.5 39.8,26.5 39.9,27.5 39.9,28.4 39.8,29.0 39.8,29.7 39.6,30.2 39.4,30.8 39.2,31.3 38.9,31.8 38.5,32.2 38.1,32.6 37.7,33.0 37.2,33.4 36.6,33.8 35.9,34.1 35.2,34.4 34.5,34.7 33.6,35.0 32.1,35.4 30.5,35.9 28.7,36.2 26.8,36.6 24.9,36.9 22.4,37.2 19.8,37.4 17.1,37.6 14.3,37.7 11.7,37.8 9.2,37.9 6.5,38.0 3.9,38.0 1.7,38.1 0.0,38.1 -0.5,38.1 -0.9,38.1 -1.3,38.1 -1.6,38.1 -2.0,38.1" fill="none" stroke="#000" stroke-width="1.1" stroke-linejoin="round" stroke-linecap="round"/>
<path d="M3.5,38.3 4.8,38.9 6.1,39.5 7.4,40.1 8.7,40.7 10.0,41.3 11.2,41.9 12.4,42.5 13.6,43.1 14.8,43.6 16.0,44.2 17.2,44.8 18.5,45.3 19.7,45.9 20.9,46.4 22.0,46.9 22.8,47.2 23.6,47.5 24.3,47.8 25.1,48.1 26.0,48.3 27.4,48.6 28.9,49.0 30.5,49.3 32.1,49.6 33.6,49.7 34.7,49.8 35.9,49.8 36.9,49.7 38.0,49.6 38.9,49.3 39.7,48.9 40.4,48.5 41.0,47.9 41.6,47.3 42.2,46.7 42.8,45.9 43.3,45.1 43.8,44.1 44.3,43.2 44.8,42.3 45.3,41.4 45.8,40.5 46.3,39.6 46.8,38.7 47.4,38.0 48.0,37.4 48.7,37.0 49.4,36.6 50.2,36.2 51.0,35.8 52.0,35.4 53.1,35.0 54.3,34.7 55.4,34.4 56.4,34.1 57.2,33.9 57.9,33.8 58.6,33.7 59.3,33.5 60.0,33.4" fill="none" stroke="#000" stroke-width="1.1" stroke-linejoin="round" stroke-linecap="round"/>
<path d="M-2.0,46.5 -1.6,46.5 -1.3,46.5 -0.9,46.5 -0.5,46.5 0.0,46.5 1.3,46.5 2.8,46.6 4.5,46.6 6.3,46.7 8.0,46.8 9.6,46.9 11.2,47.1 12.8,47.3 14.4,47.5 16.0,47.8 17.8,48.2 19.5,48.7 21.3,49.2 23.1,49.7 24.9,50.2 26.7,50.6 28.4,51.0 30.2,51.4 32.0,51.7 33.6,51.9 34.9,52.0 36.3,52.0 37.5,52.0 38.7,51.8 39.8,51.5 40.6,51.1 41.4,50.7 42.0,50.1 42.7,49.5 43.3,48.8 44.0,47.9 44.6,46.9 45.1,45.7 45.7,44.6 46.3,43.6 46.9,42.7 47.5,41.7 48.1,40.8 48.7,39.9 49.4,39.2 50.0,38.6 50.7,38.2 51.4,37.7 52.1,37.3 52.9,36.9 53.9,36.4 55.1,35.9 56.3,35.5 57.5,35.0 58.6,34.6 59.5,34.2 60.4,33.9 61.3,33.6 62.2,33.2 63.2,32.9 64.5,32.5 65.8,32.1 67.2,31.7 68.6,31.3 70.0,30.9 71.5,30.5 73.1,30.2 74.7,29.8 76.2,29.5 77.8,29.2 79.3,28.9 80.7,28.7 82.1,28.4 83.6,28.2 85.0,28.0 86.5,27.8 88.0,27.6 89.6,27.5 91.0,27.4 92.4,27.2 93.4,27.2 94.4,27.1 95.4,27.1 96.3,27.0 97.0,27.0 97.5,27.0 97.9,27.0 98.3,27.0 98.6,27.0 99.0,27.0" fill="none" stroke="#000" stroke-width="1.3" stroke-linejoin="round" stroke-linecap="round"/>
<path d="M49.4,39.2 50.1,38.7 50.7,38.3 51.4,37.8 52.1,37.3 52.9,36.9 53.9,36.4 55.1,35.9 56.3,35.5 57.5,35.0 58.6,34.6 59.5,34.2 60.4,33.9 61.3,33.6 62.2,33.2 63.2,32.9 64.5,32.5 65.8,32.1 67.2,31.7 68.6,31.3 70.0,30.9 71.5,30.5 73.1,30.2 74.7,29.8 76.2,29.5 77.8,29.2 79.3,28.9 80.7,28.7 82.1,28.4 83.6,28.2 85.0,28.0 86.5,27.8 88.0,27.6 89.6,27.5 91.0,27.4 92.4,27.2 93.4,27.2 94.4,27.1 95.4,27.1 96.3,27.0 97.0,27.0 97.5,27.0 97.9,27.0 98.3,27.0 98.6,27.0 99.0,27.0" fill="none" stroke="#000" stroke-width="1.9" stroke-linejoin="round" stroke-linecap="round"/></g>
<clipPath id="clipB"><rect x="421.4" y="23.6" width="194.1" height="236.8"/></clipPath>
<g id="qc"><path d="M21.3,-2.6 21.3,-2.4 21.3,-2.2 21.3,-2.0 21.2,-1.8 21.2,-1.6 21.2,-1.4 21.1,-1.2 21.1,-1.0 21.1,-0.8 21.0,-0.6 21.0,-0.4 21.0,-0.1 20.9,0.2 20.8,0.5 20.8,0.8 20.7,1.1 20.7,1.5 20.6,1.8 20.6,2.1 20.5,2.4 20.5,2.7 20.4,3.0 20.4,3.2 20.3,3.5 20.2,3.7 20.2,4.0 20.1,4.2 20.1,4.4 20.0,4.6 19.9,4.8 19.9,5.0 19.8,5.2 19.7,5.5 19.7,5.7 19.6,5.9 19.5,6.2 19.3,6.6 19.1,7.0 19.0,7.5 18.8,7.9 18.6,8.4 18.4,8.8 18.2,9.2 18.0,9.7 17.8,10.1 17.6,10.4 17.4,10.8 17.2,11.1 16.9,11.5 16.6,11.9 16.3,12.3 16.0,12.7 15.6,13.1 15.3,13.5 14.9,13.9 14.5,14.3" fill="none" stroke="#ff0000" stroke-width="5.0" stroke-linecap="round" stroke-linejoin="round" opacity="1.0"/>
<path d="M28.0,-1.6 27.9,-1.4 27.9,-1.2 27.9,-1.0 27.8,-0.8 27.8,-0.6 27.8,-0.3 27.7,-0.1 27.7,0.1 27.7,0.3 27.6,0.5 27.6,0.7 27.6,1.0 27.5,1.2 27.5,1.5 27.4,1.9 27.4,2.2 27.3,2.5 27.3,2.9 27.2,3.2 27.1,3.6 27.1,4.0 27.0,4.3 26.9,4.7 26.8,5.1 26.7,5.4 26.7,5.7 26.6,5.9 26.5,6.2 26.4,6.5 26.3,6.8 26.3,7.1 26.2,7.4 26.1,7.7 25.9,8.0 25.8,8.3 25.7,8.6 25.5,9.0 25.4,9.5 25.2,10.0 25.0,10.5 24.7,11.0 24.5,11.5 24.3,12.1 24.0,12.6 23.7,13.2 23.4,13.8 23.1,14.3 22.7,14.9 22.3,15.4 22.0,15.9 21.5,16.5 21.1,17.0 20.7,17.5" fill="none" stroke="#0000ff" stroke-width="4.4" stroke-linecap="round" stroke-linejoin="round" opacity="1.0"/>
<path d="M14.4,15.7 14.0,16.1 13.5,16.4 13.1,16.8 12.7,17.1 12.3,17.4 11.8,17.8 11.4,18.1 10.9,18.4 10.4,18.7 10.0,19.0 9.5,19.3 9.0,19.5 8.5,19.8 8.1,20.0 7.7,20.2 7.4,20.4 7.0,20.6 6.6,20.8 6.3,20.9 5.9,21.1 5.5,21.2 5.2,21.3 4.8,21.5 4.4,21.6 4.1,21.7 3.7,21.8 3.4,21.9 3.1,22.0 2.8,22.1 2.5,22.2 2.2,22.2 1.9,22.3 1.5,22.4 1.2,22.4 0.9,22.5 0.6,22.5 0.3,22.6 0.0,22.6 -0.2,22.7 -0.4,22.7 -0.6,22.7 -0.7,22.7 -0.9,22.8 -1.1,22.8 -1.3,22.8 -1.5,22.8 -1.7,22.8 -1.9,22.9 -2.1,22.9 -2.3,22.9" fill="none" stroke="#0000ff" stroke-width="4.4" stroke-linecap="round" stroke-linejoin="round" opacity="1.0"/>
<path d="M19.2,19.9 18.7,20.4 18.2,20.8 17.7,21.3 17.2,21.7 16.6,22.2 16.1,22.6 15.5,23.0 15.0,23.4 14.4,23.7 13.9,24.1 13.3,24.5 12.7,24.8 12.2,25.1 11.6,25.4 11.1,25.7 10.6,25.9 10.1,26.2 9.7,26.4 9.2,26.6 8.7,26.8 8.3,27.0 7.8,27.2 7.4,27.4 6.9,27.5 6.5,27.7 6.0,27.8 5.6,27.9 5.2,28.1 4.8,28.2 4.4,28.3 4.0,28.4 3.6,28.5 3.2,28.6 2.8,28.6 2.4,28.7 2.1,28.8 1.7,28.8 1.4,28.9 1.1,29.0 0.8,29.0 0.5,29.0 0.3,29.1 0.0,29.1 -0.2,29.1 -0.4,29.2 -0.6,29.2 -0.8,29.2 -1.0,29.2 -1.2,29.2 -1.4,29.3 -1.6,29.3" fill="none" stroke="#ff0000" stroke-width="4.4" stroke-linecap="round" stroke-linejoin="round" opacity="1.0"/>
<path d="M30.9,0.7 30.9,1.2 31.0,1.8 31.0,2.4 31.1,3.0 31.2,3.7 31.2,4.4 31.3,5.2 31.4,5.9 31.5,6.7 31.7,7.4 31.8,8.1 32.0,8.9 32.1,9.5 32.3,10.2 32.5,10.8 32.8,11.5" fill="none" stroke="#ff0000" stroke-width="4.4" stroke-linecap="round" stroke-linejoin="round" opacity="1.0"/>
<path d="M36.3,5.9 36.4,6.6 36.5,7.2 36.6,7.7 36.8,8.3 36.9,8.8 37.1,9.3 37.3,9.9 37.5,10.4 37.7,11.0 37.9,11.5 38.1,12.1 38.4,12.7 38.6,13.3 38.8,13.9 39.1,14.5 39.3,15.1 39.5,15.6 39.7,16.2 39.9,16.8 40.1,17.4 40.3,18.0 40.5,18.6 40.7,19.2 41.0,19.7 41.2,20.3 41.4,20.8 41.6,21.4 41.7,21.8 41.9,22.3 42.1,22.7 42.2,23.1" fill="none" stroke="#0000ff" stroke-width="4.4" stroke-linecap="round" stroke-linejoin="round" opacity="1.0"/>
<path d="M43.6,26.2 43.7,26.7 43.8,27.0 43.9,27.3 44.0,27.6 44.1,28.0 44.2,28.3 44.3,28.7 44.4,29.1 44.5,29.5 44.5,29.9 44.6,30.4 44.6,30.8 44.6,31.3 44.6,31.7 44.5,32.1 44.5,32.5 44.4,32.9 44.3,33.3 44.2,33.6" fill="none" stroke="#ff0000" stroke-width="4.4" stroke-linecap="round" stroke-linejoin="round" opacity="1.0"/>
<path d="M37.5,28.4 37.5,28.7 37.4,28.9 37.4,29.1 37.4,29.3 37.4,29.4 37.3,29.6 37.3,29.7 37.2,29.8 37.2,29.9 37.1,30.1 37.1,30.2 37.0,30.2 37.0,30.3 36.9,30.4 36.8,30.6 36.7,30.7 36.6,30.8 36.5,30.9 36.4,31.0 36.3,31.1 36.1,31.2 36.0,31.3 35.8,31.4 35.7,31.5 35.5,31.7 35.3,31.8 35.1,31.9 34.9,32.0 34.6,32.1 34.4,32.2 34.1,32.3 33.8,32.4 33.5,32.5 33.2,32.6 32.9,32.7 32.3,32.9 31.7,33.1 31.1,33.2 30.5,33.4 29.8,33.6 29.1,33.7 28.4,33.9 27.6,34.0 26.9,34.2 26.1,34.3 25.3,34.4 24.6,34.5 23.6,34.6 22.6,34.8 21.6,34.9 20.5,34.9 19.4,35.0 18.3,35.1 17.2,35.1 16.0,35.2 14.9,35.3 13.8,35.3 12.7,35.4 11.6,35.4 10.6,35.4 9.5,35.5" fill="none" stroke="#ff0000" stroke-width="4.0" stroke-linecap="round" stroke-linejoin="round" opacity="1.0"/>
<path d="M40.7,25.9 40.8,26.3 40.8,26.8 40.9,27.2 40.9,27.6 40.9,28.0 40.9,28.5 40.9,28.8 40.8,29.0 40.8,29.3 40.8,29.6 40.7,29.9 40.7,30.2 40.6,30.4 40.5,30.7 40.4,31.0 40.3,31.3 40.2,31.5 40.1,31.8 39.9,32.0 39.8,32.3 39.6,32.5 39.4,32.7 39.3,32.9 39.1,33.1 38.9,33.3 38.7,33.5 38.4,33.7 38.2,33.9 38.0,34.1 37.8,34.2 37.5,34.4 37.2,34.6 36.9,34.8 36.6,34.9 36.3,35.1 36.0,35.2 35.7,35.3 35.3,35.5 35.0,35.6 34.6,35.7 34.3,35.8 33.9,36.0 33.3,36.1 32.7,36.3 32.0,36.5 31.3,36.7 30.6,36.9 29.8,37.0 29.1,37.2 28.3,37.3 27.5,37.5 26.7,37.6 25.9,37.8 25.0,37.9 24.0,38.0 23.0,38.1 21.9,38.2 20.8,38.3 19.6,38.4 18.5,38.5 17.3,38.5 16.2,38.6 15.1,38.7 13.9,38.7 12.8,38.7 11.7,38.8 10.7,38.8 9.6,38.9 8.5,38.9 7.4,39.0 6.3,39.0 5.2,39.0 4.2,39.0 3.2,39.1 2.2,39.1 1.4,39.1 0.6,39.1" fill="none" stroke="#0000ff" stroke-width="2.2" stroke-linecap="round" stroke-linejoin="round" opacity="1.0"/>
<path d="M-1,31.5 L6,31.8 L10,33.5 L9,37.5 L-1,37.8 Z" fill="#0000ff"/>
<path d="M39.4,23.5 39.5,24.1 39.6,24.8 39.7,25.4 39.7,26.0 39.8,26.7 39.9,27.3 39.9,27.9 39.9,28.4 39.9,28.8 39.8,29.2 39.8,29.6 39.7,29.9 39.6,30.3 39.5,30.6 39.4,31.0 39.2,31.3 39.0,31.6 38.8,31.9 38.6,32.2 38.3,32.4 38.1,32.7 37.8,32.9 37.5,33.2 37.2,33.4 36.8,33.6 36.4,33.9 36.0,34.1 35.6,34.3 35.1,34.5 34.7,34.6 34.1,34.8 33.6,35.0 32.7,35.3 31.7,35.5 30.7,35.8 29.6,36.1 28.5,36.3 27.3,36.5 26.1,36.7 24.9,36.9 23.4,37.1 21.8,37.2 20.1,37.4 18.4,37.5 16.7,37.6 15.0,37.7 13.3,37.7 11.7,37.8 10.1,37.9 8.5,37.9 6.8,38.0 5.2,38.0 3.6,38.0 2.2,38.1 1.0,38.1 0.0,38.1 -0.3,38.1 -0.6,38.1 -0.9,38.1 -1.1,38.1 -1.3,38.1 -1.5,38.1 -1.8,38.1 -2.0,38.1 -2.0,43.6 -1.8,43.6 -1.5,43.6 -1.3,43.6 -1.1,43.6 -0.8,43.6 -0.6,43.6 -0.3,43.6 0.0,43.6 0.7,43.6 1.6,43.6 2.6,43.5 3.7,43.5 4.8,43.5 5.9,43.4 7.0,43.4 8.0,43.3 9.0,43.2 10.0,43.2 11.0,43.1 12.0,43.0 13.0,42.9 14.1,42.8 15.1,42.7 16.1,42.6 17.2,42.5 18.3,42.3 19.4,42.2 20.5,42.0 21.6,41.8 22.7,41.7 23.8,41.5 24.9,41.3 26.0,41.1 27.2,40.9 28.3,40.7 29.4,40.5 30.6,40.3 31.6,40.0 32.7,39.8 33.6,39.5 34.3,39.3 34.9,39.0 35.5,38.8 36.1,38.6 36.7,38.3 37.2,38.0 37.7,37.7 38.2,37.4 38.6,37.1 39.0,36.8 39.4,36.5 39.8,36.1 40.1,35.7 40.5,35.4 40.7,35.0 41.0,34.6 41.2,34.2 41.4,33.8 41.6,33.4 41.7,33.0 41.8,32.5 41.9,32.1 42.0,31.6 42.0,31.2 42.0,30.7 41.9,30.3 41.9,29.8 41.8,29.3 41.6,28.9 41.5,28.4 41.3,27.9 41.2,27.4 41.0,26.8 40.8,26.2 40.6,25.5 40.3,24.8 40.1,24.2 39.8,23.5 39.5,22.9 39.3,22.2Z" fill="#0000ff"/>
<path d="M41.0,34.6 40.7,35.0 40.3,35.3 40.0,35.7 39.7,36.1 39.3,36.4 39.0,36.8 38.6,37.1 38.2,37.4 37.7,37.7 37.2,38.0 36.7,38.3 36.1,38.6 35.5,38.8 34.9,39.0 34.3,39.3 33.6,39.5 32.7,39.8 31.6,40.0 30.6,40.3 29.4,40.5 28.3,40.7 27.2,40.9 26.0,41.1 24.9,41.3 23.8,41.5 22.7,41.7 21.6,41.8 20.5,42.0 19.4,42.2 18.3,42.3 17.2,42.5 16.1,42.6 15.1,42.7 14.1,42.8 13.0,42.9 12.0,43.0 11.0,43.1 10.0,43.1 9.0,43.2 8.0,43.3 10.0,41.3 10.7,41.7 11.5,42.0 12.2,42.4 13.0,42.8 13.7,43.1 14.5,43.5 15.2,43.8 16.0,44.2 16.8,44.6 17.5,44.9 18.3,45.3 19.1,45.6 19.8,46.0 20.6,46.3 21.3,46.6 22.0,46.9 22.5,47.1 23.0,47.3 23.5,47.5 24.0,47.7 24.4,47.8 24.9,48.0 25.4,48.1 26.0,48.3 26.8,48.5 27.8,48.7 28.7,49.0 29.7,49.2 30.7,49.4 31.7,49.5 32.7,49.6 33.6,49.7 34.3,49.7 35.0,49.8 35.7,49.8 36.4,49.8 37.1,49.7 37.7,49.6 38.3,49.5 38.9,49.3 39.4,49.1 39.8,48.8 40.3,48.5 40.7,48.2 41.1,47.9 41.5,47.5 41.8,47.1 42.2,46.7 42.6,46.2 42.9,45.7 43.3,45.2 43.6,44.6 43.9,44.0 44.2,43.4 44.5,42.9 44.8,42.3 45.1,41.8 45.4,41.2 45.8,40.7 46.1,40.1 46.4,39.6 46.7,39.1 47.1,38.5 47.4,38.0Z" fill="#ff0000"/>
<path d="M38.1,39.7 37.7,39.9 37.3,40.1 36.9,40.3 36.4,40.5 36.0,40.7 35.6,40.8 35.1,41.0 34.7,41.1 34.2,41.3 33.5,41.5 32.8,41.7 32.1,41.9 31.3,42.1 30.6,42.2 29.8,42.4 29.0,42.5 28.2,42.6 27.5,42.8 26.7,42.9 26.0,43.0 25.2,43.2 24.5,43.3 23.7,43.4 23.0,43.5 22.3,43.7 21.5,43.8 20.8,43.9 20.0,44.0 19.3,44.1 18.5,44.2 17.8,44.3 17.1,44.4 16.3,44.5 15.6,44.6 14.9,44.6 14.2,44.7 13.6,44.8 12.9,44.8 12.2,44.9 11.5,45.0 10.8,45.0 10.2,45.1 9.5,45.1 8.8,45.2 8.1,45.2 7.4,45.2 6.7,45.3 6.0,45.3 5.2,45.3 4.5,45.4 3.7,45.4 3.0,45.4 2.3,45.4 1.7,45.5 1.1,45.5" fill="none" stroke="#ff0000" stroke-width="2.8" stroke-linecap="round" stroke-linejoin="round" opacity="1.0"/>
<path d="M7.4,45.5 8.1,45.5 8.8,45.6 9.4,45.6 10.1,45.7 10.8,45.7 11.5,45.8 12.1,45.9 12.8,46.0 13.5,46.1 14.2,46.2 14.9,46.3 15.6,46.4 16.3,46.5 17.0,46.7 17.8,46.9 18.5,47.1 19.3,47.3 20.0,47.5 20.8,47.7 21.5,47.9 22.3,48.2 23.0,48.4 23.8,48.6 24.5,48.8 25.2,48.9 25.9,49.1 26.7,49.3 27.4,49.5 28.2,49.6 28.9,49.8 29.6,50.0 30.3,50.1 31.0,50.3 31.7,50.4 32.4,50.5 33.1,50.6 33.7,50.6 34.2,50.6 34.8,50.7 35.3,50.7 35.8,50.7 36.4,50.7 36.9,50.7 37.3,50.7 37.8,50.6 38.2,50.6 38.6,50.5 39.0,50.4 39.4,50.3 39.6,50.2 39.9,50.0 40.1,49.9 40.4,49.7 40.6,49.6 40.9,49.4 41.1,49.2 41.4,49.0 41.6,48.7 41.8,48.5 42.1,48.2 42.3,48.0 42.6,47.7 42.8,47.3 43.0,47.0 43.2,46.6 43.5,46.1" fill="none" stroke="#0000ff" stroke-width="2.4" stroke-linecap="round" stroke-linejoin="round" opacity="1.0"/>
<path d="M-2.0,49.9 -1.8,49.9 -1.7,49.9 -1.5,49.9 -1.4,49.9 -1.2,49.9 -1.1,49.9 -0.9,49.9 -0.8,49.9 -0.6,49.9 -0.4,49.9 -0.3,49.9 -0.1,49.9 0.4,49.9 1.0,49.9 1.6,49.9 2.2,49.9 2.9,50.0 3.6,50.0 4.3,50.0 5.0,50.0 5.7,50.1 6.4,50.1 7.1,50.1 7.7,50.2 8.4,50.2 9.0,50.3 9.7,50.4 10.3,50.4 11.0,50.5 11.6,50.6 12.2,50.6 12.8,50.7 13.5,50.8 14.1,50.9 14.7,51.0 15.3,51.1 16.0,51.3 16.6,51.4 17.3,51.6 18.0,51.8 18.7,52.0 19.5,52.2 20.2,52.4 21.0,52.7 21.7,52.9 22.5,53.1 23.3,53.3 24.1,53.5 24.8,53.7 25.6,53.9 26.3,54.0 27.1,54.2 27.8,54.4 28.6,54.6 29.4,54.7 30.2,54.9 31.0,55.0 31.8,55.1 32.6,55.2 33.3,55.3" fill="none" stroke="#0000ff" stroke-width="5.8" stroke-linecap="round" stroke-linejoin="round" opacity="1.0"/>
<path d="M27.8,54.6 28.6,54.8 29.4,54.9 30.2,55.1 31.0,55.2 31.8,55.3 32.6,55.4 33.3,55.5 34.0,55.5 34.5,55.6 35.1,55.6 35.8,55.6 36.4,55.6 37.0,55.6 37.7,55.6 38.3,55.5 39.0,55.4 39.7,55.3 40.4,55.1 41.0,54.9 41.6,54.6 42.1,54.4 42.6,54.1 43.1,53.8 43.6,53.5 44.0,53.2 44.4,52.9 44.7,52.5 45.1,52.2 45.4,51.8 45.7,51.5 46.0,51.1 46.5,50.6 46.9,50.1 47.2,49.5 47.5,49.0 47.8,48.5" fill="none" stroke="#0000ff" stroke-width="6.2" stroke-linecap="round" stroke-linejoin="round" opacity="1.0"/>
<path d="M47.2,47.5 47.4,47.0 47.6,46.5 47.9,46.1 48.1,45.7 48.3,45.3 48.5,45.0 48.8,44.6 49.0,44.2 49.2,43.8 49.5,43.4 49.7,43.0 49.9,42.7 50.2,42.3 50.4,42.0 50.6,41.8 50.8,41.5 51.0,41.3 51.2,41.1 51.4,40.9 51.6,40.7 51.8,40.6 52.0,40.4 52.2,40.3 52.4,40.1 52.7,40.0 52.9,39.8 53.2,39.7 53.5,39.5 53.8,39.4 54.1,39.2 54.5,39.0 54.8,38.8 55.3,38.7 55.7,38.5 56.1,38.3 56.6,38.1 57.1,37.9 57.6,37.8 58.1,37.6 58.6,37.4 59.1,37.2" fill="none" stroke="#0000ff" stroke-width="3.2" stroke-linecap="round" stroke-linejoin="round" opacity="1.0"/>
<path d="M41.2,50.4 41.5,50.2 41.8,49.9 42.0,49.7 42.3,49.4 42.6,49.2 42.8,48.9 43.1,48.6 43.4,48.3 43.6,47.9 43.9,47.5 44.1,47.1 44.4,46.6 44.6,46.2 44.8,45.7 45.1,45.2 45.3,44.8 45.5,44.3 45.8,43.9 46.0,43.4 46.3,43.1 46.5,42.7 46.8,42.3 47.0,41.9 47.3,41.5 47.5,41.1 47.8,40.7 48.0,40.3 48.3,40.0 48.6,39.6 48.9,39.3 49.2,39.0 49.5,38.7 49.7,38.5 50.0,38.3 50.3,38.1 50.6,37.9 50.9,37.7 51.2,37.5 51.5,37.3 51.8,37.2 52.1,37.0 52.4,36.8 52.8,36.6 53.2,36.4 53.6,36.2 54.1,36.0 54.6,35.8 55.1,35.6 55.6,35.4 56.1,35.2 56.6,35.0 57.1,34.9 57.6,34.7 58.0,34.5 58.5,34.3 58.9,34.2 59.3,34.0 59.7,33.9 60.0,33.7 60.4,33.6 60.8,33.4 61.1,33.3 61.5,33.2 61.9,33.0 62.3,32.9 62.7,32.8 63.1,32.6 63.6,32.4 64.2,32.3 64.7,32.1 65.3,31.9 65.8,31.8 66.4,31.6 67.0,31.4 67.6,31.2 68.1,31.1 68.7,30.9 69.3,30.8 69.9,30.6 70.6,30.5 71.2,30.3 71.8,30.1 72.5,30.0 73.2,29.8 73.8,29.7 74.5,29.6 75.1,29.4 75.8,29.3 76.5,29.2 77.1,29.0 77.7,28.9 78.4,28.8 79.0,28.7 79.6,28.6 80.2,28.5 80.8,28.4 81.4,28.2 82.0,28.2 82.6,28.1 83.2,28.0 83.8,27.9 84.4,27.8 85.0,27.7 85.6,27.6 86.2,27.5 86.8,27.5 87.5,27.4 88.1,27.3 88.8,27.3 89.4,27.2 90.0,27.1 90.6,27.1 91.2,27.0 91.8,27.0 92.4,27.0 92.8,26.9 93.2,26.9 93.7,26.9 94.1,26.8 94.5,26.8 94.9,26.8 95.3,26.8 95.7,26.7 96.0,26.7 96.4,26.7 96.7,26.7 97.0,26.7 97.2,26.7 97.4,26.7 97.6,26.7 97.8,26.7 97.9,26.7 98.1,26.7 98.2,26.7 98.4,26.7 98.5,26.7 98.7,26.7 98.8,26.7 99.0,26.7" fill="none" stroke="#ff0000" stroke-width="4.6" stroke-linecap="round" stroke-linejoin="round" opacity="1.0"/>
<path d="M48.9,42.5 49.1,42.1 49.3,41.8 49.6,41.4 49.8,41.1 50.0,40.9 50.3,40.6 50.5,40.3 50.7,40.1 50.9,40.0 51.2,39.8 51.4,39.6 51.6,39.5 51.9,39.3 52.1,39.1 52.4,39.0 52.7,38.8 53.0,38.7 53.3,38.5 53.6,38.3 54.0,38.1 54.4,37.9 54.9,37.7 55.3,37.6 55.8,37.4 56.3,37.2 56.7,37.0 57.2,36.8 57.7,36.6 58.2,36.5 58.7,36.3 59.2,36.1 59.6,35.9 60.0,35.8 60.3,35.6 60.7,35.5 61.1,35.4 61.4,35.2 61.8,35.1 62.2,35.0 62.5,34.8" fill="none" stroke="#0000ff" stroke-width="2.4" stroke-linecap="round" stroke-linejoin="round" opacity="1.0"/>
<path d="M25.2,-2.0 25.1,-1.5 25.0,-1.0 25.0,-0.5 24.9,-0.0 24.8,0.5 24.7,1.2 24.6,2.0 24.4,2.8 24.3,3.6 24.1,4.4 23.9,5.1 23.8,5.7 23.6,6.3 23.4,6.9 23.1,7.6 22.7,8.7 22.2,9.8 21.7,11.0 21.1,12.2 20.4,13.3 19.6,14.5 18.6,15.6 17.6,16.7 16.6,17.7 15.5,18.7 14.4,19.6 13.2,20.5 11.9,21.3 10.7,22.0 9.5,22.7 8.5,23.2 7.5,23.6 6.5,24.0 5.6,24.4 4.6,24.7 3.7,24.9 2.9,25.1 2.1,25.3 1.3,25.5 0.5,25.6 -0.0,25.7 -0.5,25.7 -1.0,25.8 -1.5,25.8 -2.0,25.9" fill="none" stroke="#000" stroke-width="2.8" stroke-linejoin="round"/><path d="M25.2,-2.0 25.1,-1.5 25.0,-1.0 25.0,-0.5 24.9,-0.0 24.8,0.5 24.7,1.2 24.6,2.0 24.4,2.8 24.3,3.6 24.1,4.4 23.9,5.1 23.8,5.7 23.6,6.3 23.4,6.9 23.1,7.6 22.7,8.7 22.2,9.8 21.7,11.0 21.1,12.2 20.4,13.3 19.6,14.5 18.6,15.6 17.6,16.7 16.6,17.7 15.5,18.7 14.4,19.6 13.2,20.5 11.9,21.3 10.7,22.0 9.5,22.7 8.5,23.2 7.5,23.6 6.5,24.0 5.6,24.4 4.6,24.7 3.7,24.9 2.9,25.1 2.1,25.3 1.3,25.5 0.5,25.6 -0.0,25.7 -0.5,25.7 -1.0,25.8 -1.5,25.8 -2.0,25.9" fill="none" stroke="#999" stroke-width="0.45" stroke-linejoin="round"/>
<path d="M33.2,-2.0 33.2,-1.5 33.2,-1.1 33.2,-0.6 33.3,-0.1 33.3,0.5 33.4,1.8 33.5,3.3 33.7,5.0 34.0,6.7 34.3,8.3 34.7,9.7 35.2,11.1 35.7,12.5 36.3,13.9 36.8,15.3 37.3,16.7 37.8,18.1 38.3,19.5 38.8,20.9 39.3,22.2 39.7,23.3 40.1,24.4 40.5,25.4 40.9,26.4 41.2,27.4 41.4,28.2 41.7,29.0 41.9,29.7 42.0,30.5 42.0,31.2 41.9,31.9 41.8,32.6 41.6,33.3 41.3,34.0 41.0,34.6 40.6,35.2 40.1,35.8 39.5,36.4 38.9,36.9 38.2,37.4 37.4,37.9 36.6,38.4 35.6,38.8 34.7,39.1 33.6,39.5 32.1,39.9 30.3,40.3 28.5,40.7 26.7,41.0 24.9,41.3 23.1,41.6 21.4,41.9 19.6,42.1 17.8,42.4 16.1,42.6 14.5,42.8 12.8,42.9 11.2,43.1 9.6,43.2 8.0,43.3 6.3,43.4 4.5,43.5 2.8,43.5 1.3,43.6 0.0,43.6 -0.5,43.6 -0.9,43.6 -1.3,43.6 -1.6,43.6 -2.0,43.6" fill="none" stroke="#000" stroke-width="1.25" stroke-linejoin="round" stroke-linecap="round"/>
<path d="M39.4,23.5 39.5,24.5 39.7,25.5 39.8,26.5 39.9,27.5 39.9,28.4 39.8,29.0 39.8,29.7 39.6,30.2 39.4,30.8 39.2,31.3 38.9,31.8 38.5,32.2 38.1,32.6 37.7,33.0 37.2,33.4 36.6,33.8 35.9,34.1 35.2,34.4 34.5,34.7 33.6,35.0 32.1,35.4 30.5,35.9 28.7,36.2 26.8,36.6 24.9,36.9 22.4,37.2 19.8,37.4 17.1,37.6 14.3,37.7 11.7,37.8 9.2,37.9 6.5,38.0 3.9,38.0 1.7,38.1 0.0,38.1 -0.5,38.1 -0.9,38.1 -1.3,38.1 -1.6,38.1 -2.0,38.1" fill="none" stroke="#000" stroke-width="1.1" stroke-linejoin="round" stroke-linecap="round"/>
<path d="M3.5,38.3 4.8,38.9 6.1,39.5 7.4,40.1 8.7,40.7 10.0,41.3 11.2,41.9 12.4,42.5 13.6,43.1 14.8,43.6 16.0,44.2 17.2,44.8 18.5,45.3 19.7,45.9 20.9,46.4 22.0,46.9 22.8,47.2 23.6,47.5 24.3,47.8 25.1,48.1 26.0,48.3 27.4,48.6 28.9,49.0 30.5,49.3 32.1,49.6 33.6,49.7 34.7,49.8 35.9,49.8 36.9,49.7 38.0,49.6 38.9,49.3 39.7,48.9 40.4,48.5 41.0,47.9 41.6,47.3 42.2,46.7 42.8,45.9 43.3,45.1 43.8,44.1 44.3,43.2 44.8,42.3 45.3,41.4 45.8,40.5 46.3,39.6 46.8,38.7 47.4,38.0 48.0,37.4 48.7,37.0 49.4,36.6 50.2,36.2 51.0,35.8 52.0,35.4 53.1,35.0 54.3,34.7 55.4,34.4 56.4,34.1 57.2,33.9 57.9,33.8 58.6,33.7 59.3,33.5 60.0,33.4" fill="none" stroke="#000" stroke-width="1.1" stroke-linejoin="round" stroke-linecap="round"/>
<path d="M-2.0,46.5 -1.6,46.5 -1.3,46.5 -0.9,46.5 -0.5,46.5 0.0,46.5 1.3,46.5 2.8,46.6 4.5,46.6 6.3,46.7 8.0,46.8 9.6,46.9 11.2,47.1 12.8,47.3 14.4,47.5 16.0,47.8 17.8,48.2 19.5,48.7 21.3,49.2 23.1,49.7 24.9,50.2 26.7,50.6 28.4,51.0 30.2,51.4 32.0,51.7 33.6,51.9 34.9,52.0 36.3,52.0 37.5,52.0 38.7,51.8 39.8,51.5 40.6,51.1 41.4,50.7 42.0,50.1 42.7,49.5 43.3,48.8 44.0,47.9 44.6,46.9 45.1,45.7 45.7,44.6 46.3,43.6 46.9,42.7 47.5,41.7 48.1,40.8 48.7,39.9 49.4,39.2 50.0,38.6 50.7,38.2 51.4,37.7 52.1,37.3 52.9,36.9 53.9,36.4 55.1,35.9 56.3,35.5 57.5,35.0 58.6,34.6 59.5,34.2 60.4,33.9 61.3,33.6 62.2,33.2 63.2,32.9 64.5,32.5 65.8,32.1 67.2,31.7 68.6,31.3 70.0,30.9 71.5,30.5 73.1,30.2 74.7,29.8 76.2,29.5 77.8,29.2 79.3,28.9 80.7,28.7 82.1,28.4 83.6,28.2 85.0,28.0 86.5,27.8 88.0,27.6 89.6,27.5 91.0,27.4 92.4,27.2 93.4,27.2 94.4,27.1 95.4,27.1 96.3,27.0 97.0,27.0 97.5,27.0 97.9,27.0 98.3,27.0 98.6,27.0 99.0,27.0" fill="none" stroke="#000" stroke-width="1.3" stroke-linejoin="round" stroke-linecap="round"/>
<path d="M49.4,39.2 50.1,38.7 50.7,38.3 51.4,37.8 52.1,37.3 52.9,36.9 53.9,36.4 55.1,35.9 56.3,35.5 57.5,35.0 58.6,34.6 59.5,34.2 60.4,33.9 61.3,33.6 62.2,33.2 63.2,32.9 64.5,32.5 65.8,32.1 67.2,31.7 68.6,31.3 70.0,30.9 71.5,30.5 73.1,30.2 74.7,29.8 76.2,29.5 77.8,29.2 79.3,28.9 80.7,28.7 82.1,28.4 83.6,28.2 85.0,28.0 86.5,27.8 88.0,27.6 89.6,27.5 91.0,27.4 92.4,27.2 93.4,27.2 94.4,27.1 95.4,27.1 96.3,27.0 97.0,27.0 97.5,27.0 97.9,27.0 98.3,27.0 98.6,27.0 99.0,27.0" fill="none" stroke="#000" stroke-width="1.9" stroke-linejoin="round" stroke-linecap="round"/></g>
<g id="qcs"><path d="M21.3,-2.6 21.3,-2.4 21.3,-2.2 21.3,-2.0 21.2,-1.8 21.2,-1.6 21.2,-1.4 21.1,-1.2 21.1,-1.0 21.1,-0.8 21.0,-0.6 21.0,-0.4 21.0,-0.1 20.9,0.2 20.8,0.5 20.8,0.8 20.7,1.1 20.7,1.5 20.6,1.8 20.6,2.1 20.5,2.4 20.5,2.7 20.4,3.0 20.4,3.2 20.3,3.5 20.2,3.7 20.2,4.0 20.1,4.2 20.1,4.4 20.0,4.6 19.9,4.8 19.9,5.0 19.8,5.2 19.7,5.5 19.7,5.7 19.6,5.9 19.5,6.2 19.3,6.6 19.1,7.0 19.0,7.5 18.8,7.9 18.6,8.4 18.4,8.8 18.2,9.2 18.0,9.7 17.8,10.1 17.6,10.4 17.4,10.8 17.2,11.1 16.9,11.5 16.6,11.9 16.3,12.3 16.0,12.7 15.6,13.1 15.3,13.5 14.9,13.9 14.5,14.3" fill="none" stroke="#ff0000" stroke-width="5.0" stroke-linecap="round" stroke-linejoin="round" opacity="1.0"/>
<path d="M28.0,-1.6 27.9,-1.4 27.9,-1.2 27.9,-1.0 27.8,-0.8 27.8,-0.6 27.8,-0.3 27.7,-0.1 27.7,0.1 27.7,0.3 27.6,0.5 27.6,0.7 27.6,1.0 27.5,1.2 27.5,1.5 27.4,1.9 27.4,2.2 27.3,2.5 27.3,2.9 27.2,3.2 27.1,3.6 27.1,4.0 27.0,4.3 26.9,4.7 26.8,5.1 26.7,5.4 26.7,5.7 26.6,5.9 26.5,6.2 26.4,6.5 26.3,6.8 26.3,7.1 26.2,7.4 26.1,7.7 25.9,8.0 25.8,8.3 25.7,8.6 25.5,9.0 25.4,9.5 25.2,10.0 25.0,10.5 24.7,11.0 24.5,11.5 24.3,12.1 24.0,12.6 23.7,13.2 23.4,13.8 23.1,14.3 22.7,14.9 22.3,15.4 22.0,15.9 21.5,16.5 21.1,17.0 20.7,17.5" fill="none" stroke="#0000ff" stroke-width="4.4" stroke-linecap="round" stroke-linejoin="round" opacity="1.0"/>
<path d="M14.4,15.7 14.0,16.1 13.5,16.4 13.1,16.8 12.7,17.1 12.3,17.4 11.8,17.8 11.4,18.1 10.9,18.4 10.4,18.7 10.0,19.0 9.5,19.3 9.0,19.5 8.5,19.8 8.1,20.0 7.7,20.2 7.4,20.4 7.0,20.6 6.6,20.8 6.3,20.9 5.9,21.1 5.5,21.2 5.2,21.3 4.8,21.5 4.4,21.6 4.1,21.7 3.7,21.8 3.4,21.9 3.1,22.0 2.8,22.1 2.5,22.2 2.2,22.2 1.9,22.3 1.5,22.4 1.2,22.4 0.9,22.5 0.6,22.5 0.3,22.6 0.0,22.6 -0.2,22.7 -0.4,22.7 -0.6,22.7 -0.7,22.7 -0.9,22.8 -1.1,22.8 -1.3,22.8 -1.5,22.8 -1.7,22.8 -1.9,22.9 -2.1,22.9 -2.3,22.9" fill="none" stroke="#0000ff" stroke-width="4.4" stroke-linecap="round" stroke-linejoin="round" opacity="1.0"/>
<path d="M19.2,19.9 18.7,20.4 18.2,20.8 17.7,21.3 17.2,21.7 16.6,22.2 16.1,22.6 15.5,23.0 15.0,23.4 14.4,23.7 13.9,24.1 13.3,24.5 12.7,24.8 12.2,25.1 11.6,25.4 11.1,25.7 10.6,25.9 10.1,26.2 9.7,26.4 9.2,26.6 8.7,26.8 8.3,27.0 7.8,27.2 7.4,27.4 6.9,27.5 6.5,27.7 6.0,27.8 5.6,27.9 5.2,28.1 4.8,28.2 4.4,28.3 4.0,28.4 3.6,28.5 3.2,28.6 2.8,28.6 2.4,28.7 2.1,28.8 1.7,28.8 1.4,28.9 1.1,29.0 0.8,29.0 0.5,29.0 0.3,29.1 0.0,29.1 -0.2,29.1 -0.4,29.2 -0.6,29.2 -0.8,29.2 -1.0,29.2 -1.2,29.2 -1.4,29.3 -1.6,29.3" fill="none" stroke="#ff0000" stroke-width="4.4" stroke-linecap="round" stroke-linejoin="round" opacity="1.0"/>
<path d="M30.9,0.7 30.9,1.2 31.0,1.8 31.0,2.4 31.1,3.0 31.2,3.7 31.2,4.4 31.3,5.2 31.4,5.9 31.5,6.7 31.7,7.4 31.8,8.1 32.0,8.9 32.1,9.5 32.3,10.2 32.5,10.8 32.8,11.5" fill="none" stroke="#ff0000" stroke-width="4.4" stroke-linecap="round" stroke-linejoin="round" opacity="1.0"/>
<path d="M36.3,5.9 36.4,6.6 36.5,7.2 36.6,7.7 36.8,8.3 36.9,8.8 37.1,9.3 37.3,9.9 37.5,10.4 37.7,11.0 37.9,11.5 38.1,12.1 38.4,12.7 38.6,13.3 38.8,13.9 39.1,14.5 39.3,15.1 39.5,15.6 39.7,16.2 39.9,16.8 40.1,17.4 40.3,18.0 40.5,18.6 40.7,19.2 41.0,19.7 41.2,20.3 41.4,20.8 41.6,21.4 41.7,21.8 41.9,22.3 42.1,22.7 42.2,23.1" fill="none" stroke="#0000ff" stroke-width="4.4" stroke-linecap="round" stroke-linejoin="round" opacity="1.0"/>
<path d="M43.6,26.2 43.7,26.7 43.8,27.0 43.9,27.3 44.0,27.6 44.1,28.0 44.2,28.3 44.3,28.7 44.4,29.1 44.5,29.5 44.5,29.9 44.6,30.4 44.6,30.8 44.6,31.3 44.6,31.7 44.5,32.1 44.5,32.5 44.4,32.9 44.3,33.3 44.2,33.6" fill="none" stroke="#ff0000" stroke-width="4.4" stroke-linecap="round" stroke-linejoin="round" opacity="1.0"/>
<path d="M37.5,28.4 37.5,28.7 37.4,28.9 37.4,29.1 37.4,29.3 37.4,29.4 37.3,29.6 37.3,29.7 37.2,29.8 37.2,29.9 37.1,30.1 37.1,30.2 37.0,30.2 37.0,30.3 36.9,30.4 36.8,30.6 36.7,30.7 36.6,30.8 36.5,30.9 36.4,31.0 36.3,31.1 36.1,31.2 36.0,31.3 35.8,31.4 35.7,31.5 35.5,31.7 35.3,31.8 35.1,31.9 34.9,32.0 34.6,32.1 34.4,32.2 34.1,32.3 33.8,32.4 33.5,32.5 33.2,32.6 32.9,32.7 32.3,32.9 31.7,33.1 31.1,33.2 30.5,33.4 29.8,33.6 29.1,33.7 28.4,33.9 27.6,34.0 26.9,34.2 26.1,34.3 25.3,34.4 24.6,34.5 23.6,34.6 22.6,34.8 21.6,34.9 20.5,34.9 19.4,35.0 18.3,35.1 17.2,35.1 16.0,35.2 14.9,35.3 13.8,35.3 12.7,35.4 11.6,35.4 10.6,35.4 9.5,35.5" fill="none" stroke="#ff0000" stroke-width="4.0" stroke-linecap="round" stroke-linejoin="round" opacity="1.0"/>
<path d="M40.7,25.9 40.8,26.3 40.8,26.8 40.9,27.2 40.9,27.6 40.9,28.0 40.9,28.5 40.9,28.8 40.8,29.0 40.8,29.3 40.8,29.6 40.7,29.9 40.7,30.2 40.6,30.4 40.5,30.7 40.4,31.0 40.3,31.3 40.2,31.5 40.1,31.8 39.9,32.0 39.8,32.3 39.6,32.5 39.4,32.7 39.3,32.9 39.1,33.1 38.9,33.3 38.7,33.5 38.4,33.7 38.2,33.9 38.0,34.1 37.8,34.2 37.5,34.4 37.2,34.6 36.9,34.8 36.6,34.9 36.3,35.1 36.0,35.2 35.7,35.3 35.3,35.5 35.0,35.6 34.6,35.7 34.3,35.8 33.9,36.0 33.3,36.1 32.7,36.3 32.0,36.5 31.3,36.7 30.6,36.9 29.8,37.0 29.1,37.2 28.3,37.3 27.5,37.5 26.7,37.6 25.9,37.8 25.0,37.9 24.0,38.0 23.0,38.1 21.9,38.2 20.8,38.3 19.6,38.4 18.5,38.5 17.3,38.5 16.2,38.6 15.1,38.7 13.9,38.7 12.8,38.7 11.7,38.8 10.7,38.8 9.6,38.9 8.5,38.9 7.4,39.0 6.3,39.0 5.2,39.0 4.2,39.0 3.2,39.1 2.2,39.1 1.4,39.1 0.6,39.1" fill="none" stroke="#0000ff" stroke-width="2.2" stroke-linecap="round" stroke-linejoin="round" opacity="1.0"/>
<path d="M-1,31.5 L6,31.8 L10,33.5 L9,37.5 L-1,37.8 Z" fill="#0000ff"/>
<path d="M39.4,23.5 39.5,24.1 39.6,24.8 39.7,25.4 39.7,26.0 39.8,26.7 39.9,27.3 39.9,27.9 39.9,28.4 39.9,28.8 39.8,29.2 39.8,29.6 39.7,29.9 39.6,30.3 39.5,30.6 39.4,31.0 39.2,31.3 39.0,31.6 38.8,31.9 38.6,32.2 38.3,32.4 38.1,32.7 37.8,32.9 37.5,33.2 37.2,33.4 36.8,33.6 36.4,33.9 36.0,34.1 35.6,34.3 35.1,34.5 34.7,34.6 34.1,34.8 33.6,35.0 32.7,35.3 31.7,35.5 30.7,35.8 29.6,36.1 28.5,36.3 27.3,36.5 26.1,36.7 24.9,36.9 23.4,37.1 21.8,37.2 20.1,37.4 18.4,37.5 16.7,37.6 15.0,37.7 13.3,37.7 11.7,37.8 10.1,37.9 8.5,37.9 6.8,38.0 5.2,38.0 3.6,38.0 2.2,38.1 1.0,38.1 0.0,38.1 -0.3,38.1 -0.6,38.1 -0.9,38.1 -1.1,38.1 -1.3,38.1 -1.5,38.1 -1.8,38.1 -2.0,38.1 -2.0,43.6 -1.8,43.6 -1.5,43.6 -1.3,43.6 -1.1,43.6 -0.8,43.6 -0.6,43.6 -0.3,43.6 0.0,43.6 0.7,43.6 1.6,43.6 2.6,43.5 3.7,43.5 4.8,43.5 5.9,43.4 7.0,43.4 8.0,43.3 9.0,43.2 10.0,43.2 11.0,43.1 12.0,43.0 13.0,42.9 14.1,42.8 15.1,42.7 16.1,42.6 17.2,42.5 18.3,42.3 19.4,42.2 20.5,42.0 21.6,41.8 22.7,41.7 23.8,41.5 24.9,41.3 26.0,41.1 27.2,40.9 28.3,40.7 29.4,40.5 30.6,40.3 31.6,40.0 32.7,39.8 33.6,39.5 34.3,39.3 34.9,39.0 35.5,38.8 36.1,38.6 36.7,38.3 37.2,38.0 37.7,37.7 38.2,37.4 38.6,37.1 39.0,36.8 39.4,36.5 39.8,36.1 40.1,35.7 40.5,35.4 40.7,35.0 41.0,34.6 41.2,34.2 41.4,33.8 41.6,33.4 41.7,33.0 41.8,32.5 41.9,32.1 42.0,31.6 42.0,31.2 42.0,30.7 41.9,30.3 41.9,29.8 41.8,29.3 41.6,28.9 41.5,28.4 41.3,27.9 41.2,27.4 41.0,26.8 40.8,26.2 40.6,25.5 40.3,24.8 40.1,24.2 39.8,23.5 39.5,22.9 39.3,22.2Z" fill="#0000ff"/>
<path d="M38.1,39.7 37.7,39.9 37.3,40.1 36.9,40.3 36.4,40.5 36.0,40.7 35.6,40.8 35.1,41.0 34.7,41.1 34.2,41.3 33.5,41.5 32.8,41.7 32.1,41.9 31.3,42.1 30.6,42.2 29.8,42.4 29.0,42.5 28.2,42.6 27.5,42.8 26.7,42.9 26.0,43.0 25.2,43.2 24.5,43.3 23.7,43.4 23.0,43.5 22.3,43.7 21.5,43.8 20.8,43.9 20.0,44.0 19.3,44.1 18.5,44.2 17.8,44.3 17.1,44.4 16.3,44.5 15.6,44.6 14.9,44.6 14.2,44.7 13.6,44.8 12.9,44.8 12.2,44.9 11.5,45.0 10.8,45.0 10.2,45.1 9.5,45.1 8.8,45.2 8.1,45.2 7.4,45.2 6.7,45.3 6.0,45.3 5.2,45.3 4.5,45.4 3.7,45.4 3.0,45.4 2.3,45.4 1.7,45.5 1.1,45.5" fill="none" stroke="#ff0000" stroke-width="2.8" stroke-linecap="round" stroke-linejoin="round" opacity="1.0"/>
<path d="M36,41.5 L44.5,37 L46.5,38.5 L43,45 L38,47 Z" fill="#ff0000"/>
<path d="M7.4,45.5 8.1,45.5 8.8,45.6 9.4,45.6 10.1,45.7 10.8,45.7 11.5,45.8 12.1,45.9 12.8,46.0 13.5,46.1 14.2,46.2 14.9,46.3 15.6,46.4 16.3,46.5 17.0,46.7 17.8,46.9 18.5,47.1 19.3,47.3 20.0,47.5 20.8,47.7 21.5,47.9 22.3,48.2 23.0,48.4 23.8,48.6 24.5,48.8 25.2,48.9 25.9,49.1 26.7,49.3 27.4,49.5 28.2,49.6 28.9,49.8 29.6,50.0 30.3,50.1 31.0,50.3 31.7,50.4 32.4,50.5 33.1,50.6 33.7,50.6 34.2,50.6 34.8,50.7 35.3,50.7 35.8,50.7 36.4,50.7 36.9,50.7 37.3,50.7 37.8,50.6 38.2,50.6 38.6,50.5 39.0,50.4 39.4,50.3 39.6,50.2 39.9,50.0 40.1,49.9 40.4,49.7 40.6,49.6 40.9,49.4 41.1,49.2 41.4,49.0 41.6,48.7 41.8,48.5 42.1,48.2 42.3,48.0 42.6,47.7 42.8,47.3 43.0,47.0 43.2,46.6 43.5,46.1" fill="none" stroke="#0000ff" stroke-width="2.4" stroke-linecap="round" stroke-linejoin="round" opacity="1.0"/>
<path d="M-2.0,49.7 -1.8,49.7 -1.7,49.7 -1.5,49.7 -1.4,49.7 -1.2,49.7 -1.1,49.7 -0.9,49.7 -0.8,49.7 -0.6,49.7 -0.4,49.7 -0.3,49.7 -0.1,49.7 0.4,49.7 1.0,49.7 1.6,49.7 2.2,49.7 2.9,49.8 3.6,49.8 4.3,49.8 5.0,49.8 5.7,49.9 6.4,49.9 7.1,49.9 7.8,50.0 8.4,50.0 9.0,50.1 9.7,50.2 10.3,50.2 11.0,50.3 11.6,50.4 12.2,50.4 12.9,50.5 13.5,50.6 14.1,50.7 14.8,50.8 15.4,50.9 16.0,51.1 16.7,51.2 17.4,51.4 18.1,51.6 18.8,51.8 19.5,52.0 20.3,52.2 21.0,52.5 21.8,52.7 22.6,52.9 23.4,53.1 24.2,53.3 24.9,53.5 25.6,53.7 26.4,53.8 27.1,54.0 27.9,54.2 28.7,54.4 29.4,54.5 30.2,54.7 31.0,54.8 31.8,54.9 32.6,55.0 33.3,55.1" fill="none" stroke="#0000ff" stroke-width="5.4" stroke-linecap="round" stroke-linejoin="round" opacity="1.0"/>
<path d="M30.3,54.3 31.1,54.4 31.9,54.5 32.6,54.6 33.4,54.7 34.0,54.7 34.6,54.8 35.2,54.8 35.8,54.8 36.4,54.8 37.0,54.8 37.6,54.8 38.2,54.7 38.9,54.6 39.5,54.5 40.2,54.3 40.8,54.1 41.3,53.9 41.8,53.7 42.2,53.4 42.7,53.2 43.1,52.9 43.5,52.6 43.8,52.3 44.2,51.9 44.5,51.6 44.8,51.3 45.1,51.0 45.4,50.6 45.8,50.1 46.2,49.6 46.5,49.1 46.8,48.6 47.1,48.1" fill="none" stroke="#0000ff" stroke-width="4.2" stroke-linecap="round" stroke-linejoin="round" opacity="1.0"/>
<path d="M46.8,47.3 47.1,46.8 47.3,46.4 47.5,45.9 47.7,45.5 47.9,45.1 48.2,44.8 48.4,44.4 48.7,44.0 48.9,43.6 49.1,43.2 49.4,42.8 49.6,42.5 49.8,42.1 50.1,41.8 50.3,41.5 50.5,41.2 50.7,41.0 50.9,40.8 51.1,40.6 51.3,40.4 51.5,40.3 51.7,40.1 52.0,39.9 52.2,39.8 52.5,39.6 52.7,39.5 53.0,39.3 53.3,39.2 53.6,39.0 53.9,38.9 54.3,38.7 54.7,38.5 55.1,38.3 55.5,38.1 56.0,37.9 56.5,37.7 57.0,37.6 57.4,37.4 57.9,37.2 58.4,37.0 58.9,36.8" fill="none" stroke="#0000ff" stroke-width="2.4" stroke-linecap="round" stroke-linejoin="round" opacity="1.0"/>
<path d="M41.2,50.4 41.5,50.2 41.8,49.9 42.0,49.7 42.3,49.4 42.6,49.2 42.8,48.9 43.1,48.6 43.4,48.3 43.6,47.9 43.9,47.5 44.1,47.1 44.4,46.6 44.6,46.2 44.8,45.7 45.1,45.2 45.3,44.8 45.5,44.3 45.8,43.9 46.0,43.4 46.3,43.1 46.5,42.7 46.8,42.3 47.0,41.9 47.3,41.5 47.5,41.1 47.8,40.7 48.0,40.3 48.3,40.0 48.6,39.6 48.9,39.3 49.2,39.0 49.5,38.7 49.7,38.5 50.0,38.3 50.3,38.1 50.6,37.9 50.9,37.7 51.2,37.5 51.5,37.3 51.8,37.2 52.1,37.0 52.4,36.8 52.8,36.6 53.2,36.4 53.6,36.2 54.1,36.0 54.6,35.8 55.1,35.6 55.6,35.4 56.1,35.2 56.6,35.0 57.1,34.9 57.6,34.7 58.0,34.5 58.5,34.3 58.9,34.2 59.3,34.0 59.7,33.9 60.0,33.7 60.4,33.6 60.8,33.4 61.1,33.3 61.5,33.2 61.9,33.0 62.3,32.9 62.7,32.8 63.1,32.6 63.6,32.4 64.2,32.3 64.7,32.1 65.3,31.9 65.8,31.8 66.4,31.6 67.0,31.4 67.6,31.2 68.1,31.1 68.7,30.9 69.3,30.8 69.9,30.6 70.6,30.5 71.2,30.3 71.8,30.1 72.5,30.0 73.2,29.8 73.8,29.7 74.5,29.6 75.1,29.4 75.8,29.3 76.5,29.2 77.1,29.0 77.7,28.9 78.4,28.8 79.0,28.7 79.6,28.6 80.2,28.5 80.8,28.4 81.4,28.2 82.0,28.2 82.6,28.1 83.2,28.0 83.8,27.9 84.4,27.8 85.0,27.7 85.6,27.6 86.2,27.5 86.8,27.5 87.5,27.4 88.1,27.3 88.8,27.3 89.4,27.2 90.0,27.1 90.6,27.1 91.2,27.0 91.8,27.0 92.4,27.0 92.8,26.9 93.2,26.9 93.7,26.9 94.1,26.8 94.5,26.8 94.9,26.8 95.3,26.8 95.7,26.7 96.0,26.7 96.4,26.7 96.7,26.7 97.0,26.7 97.2,26.7 97.4,26.7 97.6,26.7 97.8,26.7 97.9,26.7 98.1,26.7 98.2,26.7 98.4,26.7 98.5,26.7 98.7,26.7 98.8,26.7 99.0,26.7" fill="none" stroke="#ff0000" stroke-width="4.6" stroke-linecap="round" stroke-linejoin="round" opacity="1.0"/>
<path d="M48.9,42.5 49.1,42.1 49.3,41.8 49.6,41.4 49.8,41.1 50.0,40.9 50.3,40.6 50.5,40.3 50.7,40.1 50.9,40.0 51.2,39.8 51.4,39.6 51.6,39.5 51.9,39.3 52.1,39.1 52.4,39.0 52.7,38.8 53.0,38.7 53.3,38.5 53.6,38.3 54.0,38.1 54.4,37.9 54.9,37.7 55.3,37.6 55.8,37.4 56.3,37.2 56.7,37.0 57.2,36.8 57.7,36.6 58.2,36.5 58.7,36.3 59.2,36.1 59.6,35.9 60.0,35.8 60.3,35.6 60.7,35.5 61.1,35.4 61.4,35.2 61.8,35.1 62.2,35.0 62.5,34.8" fill="none" stroke="#0000ff" stroke-width="2.4" stroke-linecap="round" stroke-linejoin="round" opacity="1.0"/>
<path d="M25.2,-2.0 25.1,-1.5 25.0,-1.0 25.0,-0.5 24.9,-0.0 24.8,0.5 24.7,1.2 24.6,2.0 24.4,2.8 24.3,3.6 24.1,4.4 23.9,5.1 23.8,5.7 23.6,6.3 23.4,6.9 23.1,7.6 22.7,8.7 22.2,9.8 21.7,11.0 21.1,12.2 20.4,13.3 19.6,14.5 18.6,15.6 17.6,16.7 16.6,17.7 15.5,18.7 14.4,19.6 13.2,20.5 11.9,21.3 10.7,22.0 9.5,22.7 8.5,23.2 7.5,23.6 6.5,24.0 5.6,24.4 4.6,24.7 3.7,24.9 2.9,25.1 2.1,25.3 1.3,25.5 0.5,25.6 -0.0,25.7 -0.5,25.7 -1.0,25.8 -1.5,25.8 -2.0,25.9" fill="none" stroke="#000" stroke-width="2.8" stroke-linejoin="round"/><path d="M25.2,-2.0 25.1,-1.5 25.0,-1.0 25.0,-0.5 24.9,-0.0 24.8,0.5 24.7,1.2 24.6,2.0 24.4,2.8 24.3,3.6 24.1,4.4 23.9,5.1 23.8,5.7 23.6,6.3 23.4,6.9 23.1,7.6 22.7,8.7 22.2,9.8 21.7,11.0 21.1,12.2 20.4,13.3 19.6,14.5 18.6,15.6 17.6,16.7 16.6,17.7 15.5,18.7 14.4,19.6 13.2,20.5 11.9,21.3 10.7,22.0 9.5,22.7 8.5,23.2 7.5,23.6 6.5,24.0 5.6,24.4 4.6,24.7 3.7,24.9 2.9,25.1 2.1,25.3 1.3,25.5 0.5,25.6 -0.0,25.7 -0.5,25.7 -1.0,25.8 -1.5,25.8 -2.0,25.9" fill="none" stroke="#999" stroke-width="0.45" stroke-linejoin="round"/>
<path d="M33.2,-2.0 33.2,-1.5 33.2,-1.1 33.2,-0.6 33.3,-0.1 33.3,0.5 33.4,1.8 33.5,3.3 33.7,5.0 34.0,6.7 34.3,8.3 34.7,9.7 35.2,11.1 35.7,12.5 36.3,13.9 36.8,15.3 37.3,16.7 37.8,18.1 38.3,19.5 38.8,20.9 39.3,22.2 39.7,23.3 40.1,24.4 40.5,25.4 40.9,26.4 41.2,27.4 41.4,28.2 41.7,29.0 41.9,29.7 42.0,30.5 42.0,31.2 41.9,31.9 41.8,32.6 41.6,33.3 41.3,34.0 41.0,34.6 40.6,35.2 40.1,35.8 39.5,36.4 38.9,36.9 38.2,37.4 37.4,37.9 36.6,38.4 35.6,38.8 34.7,39.1 33.6,39.5 32.1,39.9 30.3,40.3 28.5,40.7 26.7,41.0 24.9,41.3 23.1,41.6 21.4,41.9 19.6,42.1 17.8,42.4 16.1,42.6 14.5,42.8 12.8,42.9 11.2,43.1 9.6,43.2 8.0,43.3 6.3,43.4 4.5,43.5 2.8,43.5 1.3,43.6 0.0,43.6 -0.5,43.6 -0.9,43.6 -1.3,43.6 -1.6,43.6 -2.0,43.6" fill="none" stroke="#000" stroke-width="1.25" stroke-linejoin="round" stroke-linecap="round"/>
<path d="M39.4,23.5 39.5,24.5 39.7,25.5 39.8,26.5 39.9,27.5 39.9,28.4 39.8,29.0 39.8,29.7 39.6,30.2 39.4,30.8 39.2,31.3 38.9,31.8 38.5,32.2 38.1,32.6 37.7,33.0 37.2,33.4 36.6,33.8 35.9,34.1 35.2,34.4 34.5,34.7 33.6,35.0 32.1,35.4 30.5,35.9 28.7,36.2 26.8,36.6 24.9,36.9 22.4,37.2 19.8,37.4 17.1,37.6 14.3,37.7 11.7,37.8 9.2,37.9 6.5,38.0 3.9,38.0 1.7,38.1 0.0,38.1 -0.5,38.1 -0.9,38.1 -1.3,38.1 -1.6,38.1 -2.0,38.1" fill="none" stroke="#000" stroke-width="1.1" stroke-linejoin="round" stroke-linecap="round"/>
<path d="M3.5,38.3 4.8,38.9 6.1,39.5 7.4,40.1 8.7,40.7 10.0,41.3 11.2,41.9 12.4,42.5 13.6,43.1 14.8,43.6 16.0,44.2 17.2,44.8 18.5,45.3 19.7,45.9 20.9,46.4 22.0,46.9 22.8,47.2 23.6,47.5 24.3,47.8 25.1,48.1 26.0,48.3 27.4,48.6 28.9,49.0 30.5,49.3 32.1,49.6 33.6,49.7 34.7,49.8 35.9,49.8 36.9,49.7 38.0,49.6 38.9,49.3 39.7,48.9 40.4,48.5 41.0,47.9 41.6,47.3 42.2,46.7 42.8,45.9 43.3,45.1 43.8,44.1 44.3,43.2 44.8,42.3 45.3,41.4 45.8,40.5 46.3,39.6 46.8,38.7 47.4,38.0 48.0,37.4 48.7,37.0 49.4,36.6 50.2,36.2 51.0,35.8 52.0,35.4 53.1,35.0 54.3,34.7 55.4,34.4 56.4,34.1 57.2,33.9 57.9,33.8 58.6,33.7 59.3,33.5 60.0,33.4" fill="none" stroke="#000" stroke-width="1.1" stroke-linejoin="round" stroke-linecap="round"/>
<path d="M-2.0,46.5 -1.6,46.5 -1.3,46.5 -0.9,46.5 -0.5,46.5 0.0,46.5 1.3,46.5 2.8,46.6 4.5,46.6 6.3,46.7 8.0,46.8 9.6,46.9 11.2,47.1 12.8,47.3 14.4,47.5 16.0,47.8 17.8,48.2 19.5,48.7 21.3,49.2 23.1,49.7 24.9,50.2 26.7,50.6 28.4,51.0 30.2,51.4 32.0,51.7 33.6,51.9 34.9,52.0 36.3,52.0 37.5,52.0 38.7,51.8 39.8,51.5 40.6,51.1 41.4,50.7 42.0,50.1 42.7,49.5 43.3,48.8 44.0,47.9 44.6,46.9 45.1,45.7 45.7,44.6 46.3,43.6 46.9,42.7 47.5,41.7 48.1,40.8 48.7,39.9 49.4,39.2 50.0,38.6 50.7,38.2 51.4,37.7 52.1,37.3 52.9,36.9 53.9,36.4 55.1,35.9 56.3,35.5 57.5,35.0 58.6,34.6 59.5,34.2 60.4,33.9 61.3,33.6 62.2,33.2 63.2,32.9 64.5,32.5 65.8,32.1 67.2,31.7 68.6,31.3 70.0,30.9 71.5,30.5 73.1,30.2 74.7,29.8 76.2,29.5 77.8,29.2 79.3,28.9 80.7,28.7 82.1,28.4 83.6,28.2 85.0,28.0 86.5,27.8 88.0,27.6 89.6,27.5 91.0,27.4 92.4,27.2 93.4,27.2 94.4,27.1 95.4,27.1 96.3,27.0 97.0,27.0 97.5,27.0 97.9,27.0 98.3,27.0 98.6,27.0 99.0,27.0" fill="none" stroke="#000" stroke-width="1.3" stroke-linejoin="round" stroke-linecap="round"/>
<path d="M49.4,39.2 50.1,38.7 50.7,38.3 51.4,37.8 52.1,37.3 52.9,36.9 53.9,36.4 55.1,35.9 56.3,35.5 57.5,35.0 58.6,34.6 59.5,34.2 60.4,33.9 61.3,33.6 62.2,33.2 63.2,32.9 64.5,32.5 65.8,32.1 67.2,31.7 68.6,31.3 70.0,30.9 71.5,30.5 73.1,30.2 74.7,29.8 76.2,29.5 77.8,29.2 79.3,28.9 80.7,28.7 82.1,28.4 83.6,28.2 85.0,28.0 86.5,27.8 88.0,27.6 89.6,27.5 91.0,27.4 92.4,27.2 93.4,27.2 94.4,27.1 95.4,27.1 96.3,27.0 97.0,27.0 97.5,27.0 97.9,27.0 98.3,27.0 98.6,27.0 99.0,27.0" fill="none" stroke="#000" stroke-width="1.9" stroke-linejoin="round" stroke-linecap="round"/></g>
<clipPath id="clipC"><rect x="58.4" y="338.4" width="194.2" height="237.1"/></clipPath>
</defs>
<rect width="685" height="605" fill="#fff"/>
<text x="-0.60" y="11.80" font-size="16" text-anchor="start" font-weight="bold" fill="#000" font-family="'Liberation Sans', sans-serif" style="" >a</text>
<text x="369.60" y="11.80" font-size="16" text-anchor="start" font-weight="bold" fill="#000" font-family="'Liberation Sans', sans-serif" style="" >b</text>
<text x="0.20" y="327.20" font-size="16" text-anchor="start" font-weight="bold" fill="#000" font-family="'Liberation Sans', sans-serif" style="" >c</text>
<text x="369.40" y="327.20" font-size="16" text-anchor="start" font-weight="bold" fill="#000" font-family="'Liberation Sans', sans-serif" style="" >d</text>
<line x1="58.3" y1="26.00" x2="62.8" y2="26.00" stroke="#000" stroke-width="0.8"/>
<line x1="58.3" y1="28.92" x2="60.9" y2="28.92" stroke="#000" stroke-width="0.8"/>
<line x1="58.3" y1="31.85" x2="60.9" y2="31.85" stroke="#000" stroke-width="0.8"/>
<line x1="58.3" y1="34.77" x2="60.9" y2="34.77" stroke="#000" stroke-width="0.8"/>
<line x1="58.3" y1="37.69" x2="60.9" y2="37.69" stroke="#000" stroke-width="0.8"/>
<line x1="58.3" y1="40.61" x2="60.9" y2="40.61" stroke="#000" stroke-width="0.8"/>
<line x1="58.3" y1="43.53" x2="60.9" y2="43.53" stroke="#000" stroke-width="0.8"/>
<line x1="58.3" y1="46.46" x2="60.9" y2="46.46" stroke="#000" stroke-width="0.8"/>
<line x1="58.3" y1="49.38" x2="60.9" y2="49.38" stroke="#000" stroke-width="0.8"/>
<line x1="58.3" y1="52.30" x2="60.9" y2="52.30" stroke="#000" stroke-width="0.8"/>
<line x1="58.3" y1="55.22" x2="62.8" y2="55.22" stroke="#000" stroke-width="0.8"/>
<line x1="58.3" y1="58.15" x2="60.9" y2="58.15" stroke="#000" stroke-width="0.8"/>
<line x1="58.3" y1="61.07" x2="60.9" y2="61.07" stroke="#000" stroke-width="0.8"/>
<line x1="58.3" y1="63.99" x2="60.9" y2="63.99" stroke="#000" stroke-width="0.8"/>
<line x1="58.3" y1="66.92" x2="60.9" y2="66.92" stroke="#000" stroke-width="0.8"/>
<line x1="58.3" y1="69.84" x2="60.9" y2="69.84" stroke="#000" stroke-width="0.8"/>
<line x1="58.3" y1="72.76" x2="60.9" y2="72.76" stroke="#000" stroke-width="0.8"/>
<line x1="58.3" y1="75.68" x2="60.9" y2="75.68" stroke="#000" stroke-width="0.8"/>
<line x1="58.3" y1="78.61" x2="60.9" y2="78.61" stroke="#000" stroke-width="0.8"/>
<line x1="58.3" y1="81.53" x2="60.9" y2="81.53" stroke="#000" stroke-width="0.8"/>
<line x1="58.3" y1="84.45" x2="62.8" y2="84.45" stroke="#000" stroke-width="0.8"/>
<line x1="58.3" y1="87.37" x2="60.9" y2="87.37" stroke="#000" stroke-width="0.8"/>
<line x1="58.3" y1="90.29" x2="60.9" y2="90.29" stroke="#000" stroke-width="0.8"/>
<line x1="58.3" y1="93.22" x2="60.9" y2="93.22" stroke="#000" stroke-width="0.8"/>
<line x1="58.3" y1="96.14" x2="60.9" y2="96.14" stroke="#000" stroke-width="0.8"/>
<line x1="58.3" y1="99.06" x2="60.9" y2="99.06" stroke="#000" stroke-width="0.8"/>
<line x1="58.3" y1="101.98" x2="60.9" y2="101.98" stroke="#000" stroke-width="0.8"/>
<line x1="58.3" y1="104.91" x2="60.9" y2="104.91" stroke="#000" stroke-width="0.8"/>
<line x1="58.3" y1="107.83" x2="60.9" y2="107.83" stroke="#000" stroke-width="0.8"/>
<line x1="58.3" y1="110.75" x2="60.9" y2="110.75" stroke="#000" stroke-width="0.8"/>
<line x1="58.3" y1="113.67" x2="62.8" y2="113.67" stroke="#000" stroke-width="0.8"/>
<line x1="58.3" y1="116.60" x2="60.9" y2="116.60" stroke="#000" stroke-width="0.8"/>
<line x1="58.3" y1="119.52" x2="60.9" y2="119.52" stroke="#000" stroke-width="0.8"/>
<line x1="58.3" y1="122.44" x2="60.9" y2="122.44" stroke="#000" stroke-width="0.8"/>
<line x1="58.3" y1="125.36" x2="60.9" y2="125.36" stroke="#000" stroke-width="0.8"/>
<line x1="58.3" y1="128.29" x2="60.9" y2="128.29" stroke="#000" stroke-width="0.8"/>
<line x1="58.3" y1="131.21" x2="60.9" y2="131.21" stroke="#000" stroke-width="0.8"/>
<line x1="58.3" y1="134.13" x2="60.9" y2="134.13" stroke="#000" stroke-width="0.8"/>
<line x1="58.3" y1="137.06" x2="60.9" y2="137.06" stroke="#000" stroke-width="0.8"/>
<line x1="58.3" y1="139.98" x2="60.9" y2="139.98" stroke="#000" stroke-width="0.8"/>
<line x1="58.3" y1="142.90" x2="62.8" y2="142.90" stroke="#000" stroke-width="0.8"/>
<line x1="58.3" y1="145.82" x2="60.9" y2="145.82" stroke="#000" stroke-width="0.8"/>
<line x1="58.3" y1="148.75" x2="60.9" y2="148.75" stroke="#000" stroke-width="0.8"/>
<line x1="58.3" y1="151.67" x2="60.9" y2="151.67" stroke="#000" stroke-width="0.8"/>
<line x1="58.3" y1="154.59" x2="60.9" y2="154.59" stroke="#000" stroke-width="0.8"/>
<line x1="58.3" y1="157.51" x2="60.9" y2="157.51" stroke="#000" stroke-width="0.8"/>
<line x1="58.3" y1="160.44" x2="60.9" y2="160.44" stroke="#000" stroke-width="0.8"/>
<line x1="58.3" y1="163.36" x2="60.9" y2="163.36" stroke="#000" stroke-width="0.8"/>
<line x1="58.3" y1="166.28" x2="60.9" y2="166.28" stroke="#000" stroke-width="0.8"/>
<line x1="58.3" y1="169.20" x2="60.9" y2="169.20" stroke="#000" stroke-width="0.8"/>
<line x1="58.3" y1="172.12" x2="62.8" y2="172.12" stroke="#000" stroke-width="0.8"/>
<line x1="58.3" y1="175.05" x2="60.9" y2="175.05" stroke="#000" stroke-width="0.8"/>
<line x1="58.3" y1="177.97" x2="60.9" y2="177.97" stroke="#000" stroke-width="0.8"/>
<line x1="58.3" y1="180.89" x2="60.9" y2="180.89" stroke="#000" stroke-width="0.8"/>
<line x1="58.3" y1="183.81" x2="60.9" y2="183.81" stroke="#000" stroke-width="0.8"/>
<line x1="58.3" y1="186.74" x2="60.9" y2="186.74" stroke="#000" stroke-width="0.8"/>
<line x1="58.3" y1="189.66" x2="60.9" y2="189.66" stroke="#000" stroke-width="0.8"/>
<line x1="58.3" y1="192.58" x2="60.9" y2="192.58" stroke="#000" stroke-width="0.8"/>
<line x1="58.3" y1="195.50" x2="60.9" y2="195.50" stroke="#000" stroke-width="0.8"/>
<line x1="58.3" y1="198.43" x2="60.9" y2="198.43" stroke="#000" stroke-width="0.8"/>
<line x1="58.3" y1="201.35" x2="62.8" y2="201.35" stroke="#000" stroke-width="0.8"/>
<line x1="58.3" y1="204.27" x2="60.9" y2="204.27" stroke="#000" stroke-width="0.8"/>
<line x1="58.3" y1="207.20" x2="60.9" y2="207.20" stroke="#000" stroke-width="0.8"/>
<line x1="58.3" y1="210.12" x2="60.9" y2="210.12" stroke="#000" stroke-width="0.8"/>
<line x1="58.3" y1="213.04" x2="60.9" y2="213.04" stroke="#000" stroke-width="0.8"/>
<line x1="58.3" y1="215.96" x2="60.9" y2="215.96" stroke="#000" stroke-width="0.8"/>
<line x1="58.3" y1="218.89" x2="60.9" y2="218.89" stroke="#000" stroke-width="0.8"/>
<line x1="58.3" y1="221.81" x2="60.9" y2="221.81" stroke="#000" stroke-width="0.8"/>
<line x1="58.3" y1="224.73" x2="60.9" y2="224.73" stroke="#000" stroke-width="0.8"/>
<line x1="58.3" y1="227.65" x2="60.9" y2="227.65" stroke="#000" stroke-width="0.8"/>
<line x1="58.3" y1="230.58" x2="62.8" y2="230.58" stroke="#000" stroke-width="0.8"/>
<line x1="58.3" y1="233.50" x2="60.9" y2="233.50" stroke="#000" stroke-width="0.8"/>
<line x1="58.3" y1="236.42" x2="60.9" y2="236.42" stroke="#000" stroke-width="0.8"/>
<line x1="58.3" y1="239.34" x2="60.9" y2="239.34" stroke="#000" stroke-width="0.8"/>
<line x1="58.3" y1="242.26" x2="60.9" y2="242.26" stroke="#000" stroke-width="0.8"/>
<line x1="58.3" y1="245.19" x2="60.9" y2="245.19" stroke="#000" stroke-width="0.8"/>
<line x1="58.3" y1="248.11" x2="60.9" y2="248.11" stroke="#000" stroke-width="0.8"/>
<line x1="58.3" y1="251.03" x2="60.9" y2="251.03" stroke="#000" stroke-width="0.8"/>
<line x1="58.3" y1="253.95" x2="60.9" y2="253.95" stroke="#000" stroke-width="0.8"/>
<line x1="58.3" y1="256.88" x2="60.9" y2="256.88" stroke="#000" stroke-width="0.8"/>
<line x1="58.3" y1="259.80" x2="62.8" y2="259.80" stroke="#000" stroke-width="0.8"/>
<text x="53.80" y="29.80" font-size="10.5" text-anchor="end" font-weight="normal" fill="#222" font-family="'Liberation Sans', sans-serif" style="" >0.5</text>
<text x="53.80" y="59.02" font-size="10.5" text-anchor="end" font-weight="normal" fill="#222" font-family="'Liberation Sans', sans-serif" style="" >0.4</text>
<text x="53.80" y="88.25" font-size="10.5" text-anchor="end" font-weight="normal" fill="#222" font-family="'Liberation Sans', sans-serif" style="" >0.3</text>
<text x="53.80" y="117.48" font-size="10.5" text-anchor="end" font-weight="normal" fill="#222" font-family="'Liberation Sans', sans-serif" style="" >0.2</text>
<text x="53.80" y="146.70" font-size="10.5" text-anchor="end" font-weight="normal" fill="#222" font-family="'Liberation Sans', sans-serif" style="" >0.1</text>
<text x="53.80" y="175.93" font-size="10.5" text-anchor="end" font-weight="normal" fill="#222" font-family="'Liberation Sans', sans-serif" style="" >0.0</text>
<text x="53.80" y="205.15" font-size="10.5" text-anchor="end" font-weight="normal" fill="#222" font-family="'Liberation Sans', sans-serif" style="" >−0.1</text>
<text x="53.80" y="234.38" font-size="10.5" text-anchor="end" font-weight="normal" fill="#222" font-family="'Liberation Sans', sans-serif" style="" >−0.2</text>
<text x="53.80" y="263.60" font-size="10.5" text-anchor="end" font-weight="normal" fill="#222" font-family="'Liberation Sans', sans-serif" style="" >−0.3</text>
<text x="24.00" y="143.20" font-size="12.2" text-anchor="middle" font-weight="normal" fill="#222" font-family="'Liberation Sans', sans-serif" transform="rotate(-90 24.0 143.2)" style="" >Energy (eV)</text>
<text x="58.30" y="274.80" font-size="11.8" text-anchor="middle" font-weight="normal" fill="#222" font-family="'Liberation Sans', sans-serif" style="" >Y</text>
<text x="187.80" y="274.80" font-size="11.8" text-anchor="middle" font-weight="normal" fill="#222" font-family="'Liberation Sans', sans-serif" style="" >Γ</text>
<text x="292.50" y="274.80" font-size="11.8" text-anchor="middle" font-weight="normal" fill="#222" font-family="'Liberation Sans', sans-serif" style="" >X</text>
<g clip-path="url(#clipA)" fill="none" stroke-linecap="round" stroke-linejoin="round">
<g clip-path="url(#cr_B1_100)"><path d="M78.6,26.0 82.0,33.4 85.5,40.8 88.9,48.2 92.4,55.6 95.8,63.0 99.3,70.6 103.0,78.3 106.6,86.0 110.0,93.3 113.0,100.0 114.9,104.4 116.6,108.4 118.3,112.3 119.9,116.1 121.5,120.0 123.2,124.1 125.0,128.3 126.8,132.5 128.5,136.4 130.0,140.0 131.0,142.2 131.9,144.3 132.7,146.2 133.6,148.1 134.5,150.0 135.4,152.0 136.4,154.0 137.3,156.0 138.3,158.0 139.2,160.0 140.2,162.0 141.1,164.0 142.1,166.0 143.1,168.0 144.0,170.0 144.9,172.0 145.8,174.0 146.7,176.0 147.5,178.0 148.4,180.0 149.2,182.0 150.0,184.0 150.8,186.0 151.6,188.0 152.4,190.0 153.2,192.0 153.9,194.0 154.7,196.0 155.5,198.0 156.4,200.0 157.5,202.3 158.7,204.7 160.0,207.1 161.3,209.4 162.7,211.6 164.0,213.6 165.4,215.5 166.9,217.4 168.3,219.2 169.7,220.9 170.9,222.4 172.0,223.9 173.1,225.3 174.3,226.6 175.5,227.8 176.6,228.7 177.7,229.4 178.8,230.1 180.0,230.8 181.2,231.3 182.4,231.8 183.7,232.3 185.0,232.6 186.4,232.9 187.8,233.0 189.8,232.9 191.9,232.7 194.1,232.2 196.4,231.7 198.6,231.0 201.1,230.1 203.6,229.0 206.1,227.7 208.7,226.5 211.2,225.4 213.7,224.4 216.3,223.5 218.9,222.6 221.4,221.7 223.8,220.7 225.8,219.8 227.7,218.9 229.5,218.0 231.4,217.1 233.3,216.0 235.7,214.6 238.3,213.1 240.9,211.5 243.4,209.9 245.9,208.4 248.1,207.0 250.3,205.6 252.5,204.3 254.7,202.9 256.9,201.6 259.1,200.3 261.4,199.1 263.6,197.8 265.8,196.6 268.0,195.5 269.9,194.5 271.8,193.5 273.7,192.6 275.6,191.7 277.4,190.9 279.0,190.2 280.6,189.6 282.2,189.0 283.7,188.6 285.3,188.2 286.7,188.0 288.2,188.0 289.6,188.0 291.1,188.0 292.5,188.0" stroke="#f00010" stroke-width="4.8" stroke-linecap="butt" transform="translate(0.6 1.4)"/></g>
<path d="M78.6,26.0 82.0,33.4 85.5,40.8 88.9,48.2 92.4,55.6 95.8,63.0 99.3,70.6 103.0,78.3 106.6,86.0 110.0,93.3 113.0,100.0 114.9,104.4 116.6,108.4 118.3,112.3 119.9,116.1 121.5,120.0 123.2,124.1 125.0,128.3 126.8,132.5 128.5,136.4 130.0,140.0 131.0,142.2 131.9,144.3 132.7,146.2 133.6,148.1 134.5,150.0 135.4,152.0 136.4,154.0 137.3,156.0 138.3,158.0 139.2,160.0 140.2,162.0 141.1,164.0 142.1,166.0 143.1,168.0 144.0,170.0 144.9,172.0 145.8,174.0 146.7,176.0 147.5,178.0 148.4,180.0 149.2,182.0 150.0,184.0 150.8,186.0 151.6,188.0 152.4,190.0 153.2,192.0 153.9,194.0 154.7,196.0 155.5,198.0 156.4,200.0 157.5,202.3 158.7,204.7 160.0,207.1 161.3,209.4 162.7,211.6 164.0,213.6 165.4,215.5 166.9,217.4 168.3,219.2 169.7,220.9 170.9,222.4 172.0,223.9 173.1,225.3 174.3,226.6 175.5,227.8 176.6,228.7 177.7,229.4 178.8,230.1 180.0,230.8 181.2,231.3 182.4,231.8 183.7,232.3 185.0,232.6 186.4,232.9 187.8,233.0 189.8,232.9 191.9,232.7 194.1,232.2 196.4,231.7 198.6,231.0 201.1,230.1 203.6,229.0 206.1,227.7 208.7,226.5 211.2,225.4 213.7,224.4 216.3,223.5 218.9,222.6 221.4,221.7 223.8,220.7 225.8,219.8 227.7,218.9 229.5,218.0 231.4,217.1 233.3,216.0 235.7,214.6 238.3,213.1 240.9,211.5 243.4,209.9 245.9,208.4 248.1,207.0 250.3,205.6 252.5,204.3 254.7,202.9 256.9,201.6 259.1,200.3 261.4,199.1 263.6,197.8 265.8,196.6 268.0,195.5 269.9,194.5 271.8,193.5 273.7,192.6 275.6,191.7 277.4,190.9 279.0,190.2 280.6,189.6 282.2,189.0 283.7,188.6 285.3,188.2 286.7,188.0 288.2,188.0 289.6,188.0 291.1,188.0 292.5,188.0" stroke="#0000ff" stroke-width="4.8" stroke-linecap="butt" clip-path="url(#cl_B1_76)"/>
<path d="M78.6,26.0 82.0,33.4 85.5,40.8 88.9,48.2 92.4,55.6 95.8,63.0 99.3,70.6 103.0,78.3 106.6,86.0 110.0,93.3 113.0,100.0 114.9,104.4 116.6,108.4 118.3,112.3 119.9,116.1 121.5,120.0 123.2,124.1 125.0,128.3 126.8,132.5 128.5,136.4 130.0,140.0 131.0,142.2 131.9,144.3 132.7,146.2 133.6,148.1 134.5,150.0 135.4,152.0 136.4,154.0 137.3,156.0 138.3,158.0 139.2,160.0 140.2,162.0 141.1,164.0 142.1,166.0 143.1,168.0 144.0,170.0 144.9,172.0 145.8,174.0 146.7,176.0 147.5,178.0 148.4,180.0 149.2,182.0 150.0,184.0 150.8,186.0 151.6,188.0 152.4,190.0 153.2,192.0 153.9,194.0 154.7,196.0 155.5,198.0 156.4,200.0 157.5,202.3 158.7,204.7 160.0,207.1 161.3,209.4 162.7,211.6 164.0,213.6 165.4,215.5 166.9,217.4 168.3,219.2 169.7,220.9 170.9,222.4 172.0,223.9 173.1,225.3 174.3,226.6 175.5,227.8 176.6,228.7 177.7,229.4 178.8,230.1 180.0,230.8 181.2,231.3 182.4,231.8 183.7,232.3 185.0,232.6 186.4,232.9 187.8,233.0 189.8,232.9 191.9,232.7 194.1,232.2 196.4,231.7 198.6,231.0 201.1,230.1 203.6,229.0 206.1,227.7 208.7,226.5 211.2,225.4 213.7,224.4 216.3,223.5 218.9,222.6 221.4,221.7 223.8,220.7 225.8,219.8 227.7,218.9 229.5,218.0 231.4,217.1 233.3,216.0 235.7,214.6 238.3,213.1 240.9,211.5 243.4,209.9 245.9,208.4 248.1,207.0 250.3,205.6 252.5,204.3 254.7,202.9 256.9,201.6 259.1,200.3 261.4,199.1 263.6,197.8 265.8,196.6 268.0,195.5 269.9,194.5 271.8,193.5 273.7,192.6 275.6,191.7 277.4,190.9 279.0,190.2 280.6,189.6 282.2,189.0 283.7,188.6 285.3,188.2 286.7,188.0 288.2,188.0 289.6,188.0 291.1,188.0 292.5,188.0" stroke="#0000ff" stroke-width="2.8" stroke-linecap="butt" clip-path="url(#cl_B1_140)"/>
<path d="M78.6,26.0 82.0,33.4 85.5,40.8 88.9,48.2 92.4,55.6 95.8,63.0 99.3,70.6 103.0,78.3 106.6,86.0 110.0,93.3 113.0,100.0 114.9,104.4 116.6,108.4 118.3,112.3 119.9,116.1 121.5,120.0 123.2,124.1 125.0,128.3 126.8,132.5 128.5,136.4 130.0,140.0 131.0,142.2 131.9,144.3 132.7,146.2 133.6,148.1 134.5,150.0 135.4,152.0 136.4,154.0 137.3,156.0 138.3,158.0 139.2,160.0 140.2,162.0 141.1,164.0 142.1,166.0 143.1,168.0 144.0,170.0 144.9,172.0 145.8,174.0 146.7,176.0 147.5,178.0 148.4,180.0 149.2,182.0 150.0,184.0 150.8,186.0 151.6,188.0 152.4,190.0 153.2,192.0 153.9,194.0 154.7,196.0 155.5,198.0 156.4,200.0 157.5,202.3 158.7,204.7 160.0,207.1 161.3,209.4 162.7,211.6 164.0,213.6 165.4,215.5 166.9,217.4 168.3,219.2 169.7,220.9 170.9,222.4 172.0,223.9 173.1,225.3 174.3,226.6 175.5,227.8 176.6,228.7 177.7,229.4 178.8,230.1 180.0,230.8 181.2,231.3 182.4,231.8 183.7,232.3 185.0,232.6 186.4,232.9 187.8,233.0 189.8,232.9 191.9,232.7 194.1,232.2 196.4,231.7 198.6,231.0 201.1,230.1 203.6,229.0 206.1,227.7 208.7,226.5 211.2,225.4 213.7,224.4 216.3,223.5 218.9,222.6 221.4,221.7 223.8,220.7 225.8,219.8 227.7,218.9 229.5,218.0 231.4,217.1 233.3,216.0 235.7,214.6 238.3,213.1 240.9,211.5 243.4,209.9 245.9,208.4 248.1,207.0 250.3,205.6 252.5,204.3 254.7,202.9 256.9,201.6 259.1,200.3 261.4,199.1 263.6,197.8 265.8,196.6 268.0,195.5 269.9,194.5 271.8,193.5 273.7,192.6 275.6,191.7 277.4,190.9 279.0,190.2 280.6,189.6 282.2,189.0 283.7,188.6 285.3,188.2 286.7,188.0 288.2,188.0 289.6,188.0 291.1,188.0 292.5,188.0" stroke="#f00010" stroke-width="4.8" stroke-linecap="butt" clip-path="url(#cl_B1_176)"/>
<path d="M78.6,26.0 82.0,33.4 85.5,40.8 88.9,48.2 92.4,55.6 95.8,63.0 99.3,70.6 103.0,78.3 106.6,86.0 110.0,93.3 113.0,100.0 114.9,104.4 116.6,108.4 118.3,112.3 119.9,116.1 121.5,120.0 123.2,124.1 125.0,128.3 126.8,132.5 128.5,136.4 130.0,140.0 131.0,142.2 131.9,144.3 132.7,146.2 133.6,148.1 134.5,150.0 135.4,152.0 136.4,154.0 137.3,156.0 138.3,158.0 139.2,160.0 140.2,162.0 141.1,164.0 142.1,166.0 143.1,168.0 144.0,170.0 144.9,172.0 145.8,174.0 146.7,176.0 147.5,178.0 148.4,180.0 149.2,182.0 150.0,184.0 150.8,186.0 151.6,188.0 152.4,190.0 153.2,192.0 153.9,194.0 154.7,196.0 155.5,198.0 156.4,200.0 157.5,202.3 158.7,204.7 160.0,207.1 161.3,209.4 162.7,211.6 164.0,213.6 165.4,215.5 166.9,217.4 168.3,219.2 169.7,220.9 170.9,222.4 172.0,223.9 173.1,225.3 174.3,226.6 175.5,227.8 176.6,228.7 177.7,229.4 178.8,230.1 180.0,230.8 181.2,231.3 182.4,231.8 183.7,232.3 185.0,232.6 186.4,232.9 187.8,233.0 189.8,232.9 191.9,232.7 194.1,232.2 196.4,231.7 198.6,231.0 201.1,230.1 203.6,229.0 206.1,227.7 208.7,226.5 211.2,225.4 213.7,224.4 216.3,223.5 218.9,222.6 221.4,221.7 223.8,220.7 225.8,219.8 227.7,218.9 229.5,218.0 231.4,217.1 233.3,216.0 235.7,214.6 238.3,213.1 240.9,211.5 243.4,209.9 245.9,208.4 248.1,207.0 250.3,205.6 252.5,204.3 254.7,202.9 256.9,201.6 259.1,200.3 261.4,199.1 263.6,197.8 265.8,196.6 268.0,195.5 269.9,194.5 271.8,193.5 273.7,192.6 275.6,191.7 277.4,190.9 279.0,190.2 280.6,189.6 282.2,189.0 283.7,188.6 285.3,188.2 286.7,188.0 288.2,188.0 289.6,188.0 291.1,188.0 292.5,188.0" stroke="#0000ff" stroke-width="3.2" stroke-linecap="butt" clip-path="url(#cl_B1_199)"/>
<path d="M78.6,26.0 82.0,33.4 85.5,40.8 88.9,48.2 92.4,55.6 95.8,63.0 99.3,70.6 103.0,78.3 106.6,86.0 110.0,93.3 113.0,100.0 114.9,104.4 116.6,108.4 118.3,112.3 119.9,116.1 121.5,120.0 123.2,124.1 125.0,128.3 126.8,132.5 128.5,136.4 130.0,140.0 131.0,142.2 131.9,144.3 132.7,146.2 133.6,148.1 134.5,150.0 135.4,152.0 136.4,154.0 137.3,156.0 138.3,158.0 139.2,160.0 140.2,162.0 141.1,164.0 142.1,166.0 143.1,168.0 144.0,170.0 144.9,172.0 145.8,174.0 146.7,176.0 147.5,178.0 148.4,180.0 149.2,182.0 150.0,184.0 150.8,186.0 151.6,188.0 152.4,190.0 153.2,192.0 153.9,194.0 154.7,196.0 155.5,198.0 156.4,200.0 157.5,202.3 158.7,204.7 160.0,207.1 161.3,209.4 162.7,211.6 164.0,213.6 165.4,215.5 166.9,217.4 168.3,219.2 169.7,220.9 170.9,222.4 172.0,223.9 173.1,225.3 174.3,226.6 175.5,227.8 176.6,228.7 177.7,229.4 178.8,230.1 180.0,230.8 181.2,231.3 182.4,231.8 183.7,232.3 185.0,232.6 186.4,232.9 187.8,233.0 189.8,232.9 191.9,232.7 194.1,232.2 196.4,231.7 198.6,231.0 201.1,230.1 203.6,229.0 206.1,227.7 208.7,226.5 211.2,225.4 213.7,224.4 216.3,223.5 218.9,222.6 221.4,221.7 223.8,220.7 225.8,219.8 227.7,218.9 229.5,218.0 231.4,217.1 233.3,216.0 235.7,214.6 238.3,213.1 240.9,211.5 243.4,209.9 245.9,208.4 248.1,207.0 250.3,205.6 252.5,204.3 254.7,202.9 256.9,201.6 259.1,200.3 261.4,199.1 263.6,197.8 265.8,196.6 268.0,195.5 269.9,194.5 271.8,193.5 273.7,192.6 275.6,191.7 277.4,190.9 279.0,190.2 280.6,189.6 282.2,189.0 283.7,188.6 285.3,188.2 286.7,188.0 288.2,188.0 289.6,188.0 291.1,188.0 292.5,188.0" stroke="#f00010" stroke-width="3.4" stroke-linecap="butt" clip-path="url(#cl_B1_224)"/>
<path d="M78.6,26.0 82.0,33.4 85.5,40.8 88.9,48.2 92.4,55.6 95.8,63.0 99.3,70.6 103.0,78.3 106.6,86.0 110.0,93.3 113.0,100.0 114.9,104.4 116.6,108.4 118.3,112.3 119.9,116.1 121.5,120.0 123.2,124.1 125.0,128.3 126.8,132.5 128.5,136.4 130.0,140.0 131.0,142.2 131.9,144.3 132.7,146.2 133.6,148.1 134.5,150.0 135.4,152.0 136.4,154.0 137.3,156.0 138.3,158.0 139.2,160.0 140.2,162.0 141.1,164.0 142.1,166.0 143.1,168.0 144.0,170.0 144.9,172.0 145.8,174.0 146.7,176.0 147.5,178.0 148.4,180.0 149.2,182.0 150.0,184.0 150.8,186.0 151.6,188.0 152.4,190.0 153.2,192.0 153.9,194.0 154.7,196.0 155.5,198.0 156.4,200.0 157.5,202.3 158.7,204.7 160.0,207.1 161.3,209.4 162.7,211.6 164.0,213.6 165.4,215.5 166.9,217.4 168.3,219.2 169.7,220.9 170.9,222.4 172.0,223.9 173.1,225.3 174.3,226.6 175.5,227.8 176.6,228.7 177.7,229.4 178.8,230.1 180.0,230.8 181.2,231.3 182.4,231.8 183.7,232.3 185.0,232.6 186.4,232.9 187.8,233.0 189.8,232.9 191.9,232.7 194.1,232.2 196.4,231.7 198.6,231.0 201.1,230.1 203.6,229.0 206.1,227.7 208.7,226.5 211.2,225.4 213.7,224.4 216.3,223.5 218.9,222.6 221.4,221.7 223.8,220.7 225.8,219.8 227.7,218.9 229.5,218.0 231.4,217.1 233.3,216.0 235.7,214.6 238.3,213.1 240.9,211.5 243.4,209.9 245.9,208.4 248.1,207.0 250.3,205.6 252.5,204.3 254.7,202.9 256.9,201.6 259.1,200.3 261.4,199.1 263.6,197.8 265.8,196.6 268.0,195.5 269.9,194.5 271.8,193.5 273.7,192.6 275.6,191.7 277.4,190.9 279.0,190.2 280.6,189.6 282.2,189.0 283.7,188.6 285.3,188.2 286.7,188.0 288.2,188.0 289.6,188.0 291.1,188.0 292.5,188.0" stroke="#0000ff" stroke-width="3.8" stroke-linecap="butt" clip-path="url(#cl_B1_247)"/>
<path d="M78.6,26.0 82.0,33.4 85.5,40.8 88.9,48.2 92.4,55.6 95.8,63.0 99.3,70.6 103.0,78.3 106.6,86.0 110.0,93.3 113.0,100.0 114.9,104.4 116.6,108.4 118.3,112.3 119.9,116.1 121.5,120.0 123.2,124.1 125.0,128.3 126.8,132.5 128.5,136.4 130.0,140.0 131.0,142.2 131.9,144.3 132.7,146.2 133.6,148.1 134.5,150.0 135.4,152.0 136.4,154.0 137.3,156.0 138.3,158.0 139.2,160.0 140.2,162.0 141.1,164.0 142.1,166.0 143.1,168.0 144.0,170.0 144.9,172.0 145.8,174.0 146.7,176.0 147.5,178.0 148.4,180.0 149.2,182.0 150.0,184.0 150.8,186.0 151.6,188.0 152.4,190.0 153.2,192.0 153.9,194.0 154.7,196.0 155.5,198.0 156.4,200.0 157.5,202.3 158.7,204.7 160.0,207.1 161.3,209.4 162.7,211.6 164.0,213.6 165.4,215.5 166.9,217.4 168.3,219.2 169.7,220.9 170.9,222.4 172.0,223.9 173.1,225.3 174.3,226.6 175.5,227.8 176.6,228.7 177.7,229.4 178.8,230.1 180.0,230.8 181.2,231.3 182.4,231.8 183.7,232.3 185.0,232.6 186.4,232.9 187.8,233.0 189.8,232.9 191.9,232.7 194.1,232.2 196.4,231.7 198.6,231.0 201.1,230.1 203.6,229.0 206.1,227.7 208.7,226.5 211.2,225.4 213.7,224.4 216.3,223.5 218.9,222.6 221.4,221.7 223.8,220.7 225.8,219.8 227.7,218.9 229.5,218.0 231.4,217.1 233.3,216.0 235.7,214.6 238.3,213.1 240.9,211.5 243.4,209.9 245.9,208.4 248.1,207.0 250.3,205.6 252.5,204.3 254.7,202.9 256.9,201.6 259.1,200.3 261.4,199.1 263.6,197.8 265.8,196.6 268.0,195.5 269.9,194.5 271.8,193.5 273.7,192.6 275.6,191.7 277.4,190.9 279.0,190.2 280.6,189.6 282.2,189.0 283.7,188.6 285.3,188.2 286.7,188.0 288.2,188.0 289.6,188.0 291.1,188.0 292.5,188.0" stroke="#0000ff" stroke-width="5.0" stroke-linecap="butt" clip-path="url(#cl_B1_280)"/>
<path d="M82.8,26.0 86.2,33.4 89.7,40.8 93.1,48.2 96.6,55.6 100.0,63.0 103.5,70.6 107.1,78.3 110.7,86.0 114.0,93.3 117.0,100.0 118.9,104.4 120.6,108.4 122.2,112.3 123.7,116.1 125.3,120.0 127.0,124.1 128.7,128.3 130.4,132.5 132.0,136.4 133.5,140.0 134.4,142.2 135.3,144.2 136.1,146.2 137.0,148.1 137.8,150.0 138.6,152.0 139.5,154.0 140.3,156.0 141.2,158.0 142.0,160.0 142.8,161.8 143.6,163.6 144.4,165.4 145.2,167.2 146.0,169.0" stroke="#f00010" stroke-width="2.6" stroke-linecap="butt" clip-path="url(#cl_B1b_80)"/>
<g clip-path="url(#cr_B2_124)"><path d="M85.6,26.0 89.1,33.6 92.7,41.2 96.2,48.8 99.8,56.4 103.3,64.0 107.0,71.9 110.9,80.1 114.7,88.2 118.2,95.7 121.0,102.0 122.2,105.0 123.3,107.7 124.2,110.1 125.1,112.5 126.0,115.0 126.9,117.4 127.8,119.8 128.7,122.2 129.6,124.6 130.5,127.0 131.4,129.7 132.3,132.4 133.2,135.2 134.1,137.8 135.0,140.0 135.6,141.3 136.3,142.4 136.9,143.5 137.5,144.5 138.2,145.5 138.9,146.4 139.5,147.3 140.2,148.2 140.9,149.1 141.6,150.0 142.3,150.9 142.9,151.9 143.5,152.9 144.2,153.9 144.9,154.9 145.8,156.2 146.7,157.5 147.6,158.8 148.5,160.2 149.5,161.5 150.5,162.8 151.6,164.1 152.6,165.4 153.7,166.6 154.8,167.8 155.8,168.9 156.9,169.9 157.9,170.9 159.0,171.9 160.0,172.8 160.9,173.6 161.9,174.4 162.8,175.2 163.7,176.0 164.7,176.7 165.6,177.4 166.6,178.1 167.5,178.8 168.5,179.4 169.5,180.0 170.5,180.6 171.5,181.1 172.5,181.6 173.5,182.1 174.6,182.6 175.8,183.1 177.1,183.6 178.4,184.1 179.7,184.5 181.0,184.8 182.3,185.1 183.6,185.4 184.9,185.6 186.3,185.7 187.8,185.5 190.5,184.6 193.5,183.2 196.7,181.3 199.8,179.4 202.5,177.7 204.4,176.5 206.2,175.3 207.8,174.0 209.4,172.8 211.0,171.5 212.5,170.3 213.9,169.1 215.3,167.8 216.7,166.5 217.9,165.0 219.1,163.1 220.2,161.1 221.2,158.9 222.2,156.8 223.2,154.8 224.0,153.2 224.8,151.7 225.6,150.3 226.4,148.9 227.2,147.5 228.0,146.2 228.8,145.0 229.6,143.8 230.4,142.7 231.2,141.5 232.0,140.4 232.7,139.3 233.5,138.2 234.3,137.2 235.1,136.2 236.0,135.2 236.9,134.2 237.8,133.3 238.8,132.4 239.8,131.6 240.7,131.0 241.6,130.4 242.5,129.9 243.4,129.5 244.4,129.0 245.5,128.6 246.6,128.2 247.7,127.8 248.8,127.4 250.0,127.0 251.2,126.5 252.4,126.0 253.7,125.5 255.0,125.0 256.3,124.6 257.9,124.2 259.6,123.8 261.4,123.4 263.2,123.1 265.0,122.8 266.9,122.6 268.9,122.4 271.0,122.3 273.0,122.2 275.0,122.1 277.0,122.0 279.1,122.0 281.1,121.9 283.1,121.9 285.0,121.9 286.6,121.9 288.1,121.9 289.6,121.9 291.0,122.0 292.5,122.0" stroke="#f00010" stroke-width="5.0" stroke-linecap="butt" transform="translate(0.6 1.4)"/></g>
<g clip-path="url(#cr_B2_218)"><path d="M85.6,26.0 89.1,33.6 92.7,41.2 96.2,48.8 99.8,56.4 103.3,64.0 107.0,71.9 110.9,80.1 114.7,88.2 118.2,95.7 121.0,102.0 122.2,105.0 123.3,107.7 124.2,110.1 125.1,112.5 126.0,115.0 126.9,117.4 127.8,119.8 128.7,122.2 129.6,124.6 130.5,127.0 131.4,129.7 132.3,132.4 133.2,135.2 134.1,137.8 135.0,140.0 135.6,141.3 136.3,142.4 136.9,143.5 137.5,144.5 138.2,145.5 138.9,146.4 139.5,147.3 140.2,148.2 140.9,149.1 141.6,150.0 142.3,150.9 142.9,151.9 143.5,152.9 144.2,153.9 144.9,154.9 145.8,156.2 146.7,157.5 147.6,158.8 148.5,160.2 149.5,161.5 150.5,162.8 151.6,164.1 152.6,165.4 153.7,166.6 154.8,167.8 155.8,168.9 156.9,169.9 157.9,170.9 159.0,171.9 160.0,172.8 160.9,173.6 161.9,174.4 162.8,175.2 163.7,176.0 164.7,176.7 165.6,177.4 166.6,178.1 167.5,178.8 168.5,179.4 169.5,180.0 170.5,180.6 171.5,181.1 172.5,181.6 173.5,182.1 174.6,182.6 175.8,183.1 177.1,183.6 178.4,184.1 179.7,184.5 181.0,184.8 182.3,185.1 183.6,185.4 184.9,185.6 186.3,185.7 187.8,185.5 190.5,184.6 193.5,183.2 196.7,181.3 199.8,179.4 202.5,177.7 204.4,176.5 206.2,175.3 207.8,174.0 209.4,172.8 211.0,171.5 212.5,170.3 213.9,169.1 215.3,167.8 216.7,166.5 217.9,165.0 219.1,163.1 220.2,161.1 221.2,158.9 222.2,156.8 223.2,154.8 224.0,153.2 224.8,151.7 225.6,150.3 226.4,148.9 227.2,147.5 228.0,146.2 228.8,145.0 229.6,143.8 230.4,142.7 231.2,141.5 232.0,140.4 232.7,139.3 233.5,138.2 234.3,137.2 235.1,136.2 236.0,135.2 236.9,134.2 237.8,133.3 238.8,132.4 239.8,131.6 240.7,131.0 241.6,130.4 242.5,129.9 243.4,129.5 244.4,129.0 245.5,128.6 246.6,128.2 247.7,127.8 248.8,127.4 250.0,127.0 251.2,126.5 252.4,126.0 253.7,125.5 255.0,125.0 256.3,124.6 257.9,124.2 259.6,123.8 261.4,123.4 263.2,123.1 265.0,122.8 266.9,122.6 268.9,122.4 271.0,122.3 273.0,122.2 275.0,122.1 277.0,122.0 279.1,122.0 281.1,121.9 283.1,121.9 285.0,121.9 286.6,121.9 288.1,121.9 289.6,121.9 291.0,122.0 292.5,122.0" stroke="#f00010" stroke-width="4.6" stroke-linecap="butt" transform="translate(0.6 1.4)"/></g>
<path d="M85.6,26.0 89.1,33.6 92.7,41.2 96.2,48.8 99.8,56.4 103.3,64.0 107.0,71.9 110.9,80.1 114.7,88.2 118.2,95.7 121.0,102.0 122.2,105.0 123.3,107.7 124.2,110.1 125.1,112.5 126.0,115.0 126.9,117.4 127.8,119.8 128.7,122.2 129.6,124.6 130.5,127.0 131.4,129.7 132.3,132.4 133.2,135.2 134.1,137.8 135.0,140.0 135.6,141.3 136.3,142.4 136.9,143.5 137.5,144.5 138.2,145.5 138.9,146.4 139.5,147.3 140.2,148.2 140.9,149.1 141.6,150.0 142.3,150.9 142.9,151.9 143.5,152.9 144.2,153.9 144.9,154.9 145.8,156.2 146.7,157.5 147.6,158.8 148.5,160.2 149.5,161.5 150.5,162.8 151.6,164.1 152.6,165.4 153.7,166.6 154.8,167.8 155.8,168.9 156.9,169.9 157.9,170.9 159.0,171.9 160.0,172.8 160.9,173.6 161.9,174.4 162.8,175.2 163.7,176.0 164.7,176.7 165.6,177.4 166.6,178.1 167.5,178.8 168.5,179.4 169.5,180.0 170.5,180.6 171.5,181.1 172.5,181.6 173.5,182.1 174.6,182.6 175.8,183.1 177.1,183.6 178.4,184.1 179.7,184.5 181.0,184.8 182.3,185.1 183.6,185.4 184.9,185.6 186.3,185.7 187.8,185.5 190.5,184.6 193.5,183.2 196.7,181.3 199.8,179.4 202.5,177.7 204.4,176.5 206.2,175.3 207.8,174.0 209.4,172.8 211.0,171.5 212.5,170.3 213.9,169.1 215.3,167.8 216.7,166.5 217.9,165.0 219.1,163.1 220.2,161.1 221.2,158.9 222.2,156.8 223.2,154.8 224.0,153.2 224.8,151.7 225.6,150.3 226.4,148.9 227.2,147.5 228.0,146.2 228.8,145.0 229.6,143.8 230.4,142.7 231.2,141.5 232.0,140.4 232.7,139.3 233.5,138.2 234.3,137.2 235.1,136.2 236.0,135.2 236.9,134.2 237.8,133.3 238.8,132.4 239.8,131.6 240.7,131.0 241.6,130.4 242.5,129.9 243.4,129.5 244.4,129.0 245.5,128.6 246.6,128.2 247.7,127.8 248.8,127.4 250.0,127.0 251.2,126.5 252.4,126.0 253.7,125.5 255.0,125.0 256.3,124.6 257.9,124.2 259.6,123.8 261.4,123.4 263.2,123.1 265.0,122.8 266.9,122.6 268.9,122.4 271.0,122.3 273.0,122.2 275.0,122.1 277.0,122.0 279.1,122.0 281.1,121.9 283.1,121.9 285.0,121.9 286.6,121.9 288.1,121.9 289.6,121.9 291.0,122.0 292.5,122.0" stroke="#0000ff" stroke-width="5.4" stroke-linecap="butt" clip-path="url(#cl_B2_84)"/>
<path d="M85.6,26.0 89.1,33.6 92.7,41.2 96.2,48.8 99.8,56.4 103.3,64.0 107.0,71.9 110.9,80.1 114.7,88.2 118.2,95.7 121.0,102.0 122.2,105.0 123.3,107.7 124.2,110.1 125.1,112.5 126.0,115.0 126.9,117.4 127.8,119.8 128.7,122.2 129.6,124.6 130.5,127.0 131.4,129.7 132.3,132.4 133.2,135.2 134.1,137.8 135.0,140.0 135.6,141.3 136.3,142.4 136.9,143.5 137.5,144.5 138.2,145.5 138.9,146.4 139.5,147.3 140.2,148.2 140.9,149.1 141.6,150.0 142.3,150.9 142.9,151.9 143.5,152.9 144.2,153.9 144.9,154.9 145.8,156.2 146.7,157.5 147.6,158.8 148.5,160.2 149.5,161.5 150.5,162.8 151.6,164.1 152.6,165.4 153.7,166.6 154.8,167.8 155.8,168.9 156.9,169.9 157.9,170.9 159.0,171.9 160.0,172.8 160.9,173.6 161.9,174.4 162.8,175.2 163.7,176.0 164.7,176.7 165.6,177.4 166.6,178.1 167.5,178.8 168.5,179.4 169.5,180.0 170.5,180.6 171.5,181.1 172.5,181.6 173.5,182.1 174.6,182.6 175.8,183.1 177.1,183.6 178.4,184.1 179.7,184.5 181.0,184.8 182.3,185.1 183.6,185.4 184.9,185.6 186.3,185.7 187.8,185.5 190.5,184.6 193.5,183.2 196.7,181.3 199.8,179.4 202.5,177.7 204.4,176.5 206.2,175.3 207.8,174.0 209.4,172.8 211.0,171.5 212.5,170.3 213.9,169.1 215.3,167.8 216.7,166.5 217.9,165.0 219.1,163.1 220.2,161.1 221.2,158.9 222.2,156.8 223.2,154.8 224.0,153.2 224.8,151.7 225.6,150.3 226.4,148.9 227.2,147.5 228.0,146.2 228.8,145.0 229.6,143.8 230.4,142.7 231.2,141.5 232.0,140.4 232.7,139.3 233.5,138.2 234.3,137.2 235.1,136.2 236.0,135.2 236.9,134.2 237.8,133.3 238.8,132.4 239.8,131.6 240.7,131.0 241.6,130.4 242.5,129.9 243.4,129.5 244.4,129.0 245.5,128.6 246.6,128.2 247.7,127.8 248.8,127.4 250.0,127.0 251.2,126.5 252.4,126.0 253.7,125.5 255.0,125.0 256.3,124.6 257.9,124.2 259.6,123.8 261.4,123.4 263.2,123.1 265.0,122.8 266.9,122.6 268.9,122.4 271.0,122.3 273.0,122.2 275.0,122.1 277.0,122.0 279.1,122.0 281.1,121.9 283.1,121.9 285.0,121.9 286.6,121.9 288.1,121.9 289.6,121.9 291.0,122.0 292.5,122.0" stroke="#0000ff" stroke-width="5.0" stroke-linecap="butt" clip-path="url(#cl_B2_124)"/>
<path d="M85.6,26.0 89.1,33.6 92.7,41.2 96.2,48.8 99.8,56.4 103.3,64.0 107.0,71.9 110.9,80.1 114.7,88.2 118.2,95.7 121.0,102.0 122.2,105.0 123.3,107.7 124.2,110.1 125.1,112.5 126.0,115.0 126.9,117.4 127.8,119.8 128.7,122.2 129.6,124.6 130.5,127.0 131.4,129.7 132.3,132.4 133.2,135.2 134.1,137.8 135.0,140.0 135.6,141.3 136.3,142.4 136.9,143.5 137.5,144.5 138.2,145.5 138.9,146.4 139.5,147.3 140.2,148.2 140.9,149.1 141.6,150.0 142.3,150.9 142.9,151.9 143.5,152.9 144.2,153.9 144.9,154.9 145.8,156.2 146.7,157.5 147.6,158.8 148.5,160.2 149.5,161.5 150.5,162.8 151.6,164.1 152.6,165.4 153.7,166.6 154.8,167.8 155.8,168.9 156.9,169.9 157.9,170.9 159.0,171.9 160.0,172.8 160.9,173.6 161.9,174.4 162.8,175.2 163.7,176.0 164.7,176.7 165.6,177.4 166.6,178.1 167.5,178.8 168.5,179.4 169.5,180.0 170.5,180.6 171.5,181.1 172.5,181.6 173.5,182.1 174.6,182.6 175.8,183.1 177.1,183.6 178.4,184.1 179.7,184.5 181.0,184.8 182.3,185.1 183.6,185.4 184.9,185.6 186.3,185.7 187.8,185.5 190.5,184.6 193.5,183.2 196.7,181.3 199.8,179.4 202.5,177.7 204.4,176.5 206.2,175.3 207.8,174.0 209.4,172.8 211.0,171.5 212.5,170.3 213.9,169.1 215.3,167.8 216.7,166.5 217.9,165.0 219.1,163.1 220.2,161.1 221.2,158.9 222.2,156.8 223.2,154.8 224.0,153.2 224.8,151.7 225.6,150.3 226.4,148.9 227.2,147.5 228.0,146.2 228.8,145.0 229.6,143.8 230.4,142.7 231.2,141.5 232.0,140.4 232.7,139.3 233.5,138.2 234.3,137.2 235.1,136.2 236.0,135.2 236.9,134.2 237.8,133.3 238.8,132.4 239.8,131.6 240.7,131.0 241.6,130.4 242.5,129.9 243.4,129.5 244.4,129.0 245.5,128.6 246.6,128.2 247.7,127.8 248.8,127.4 250.0,127.0 251.2,126.5 252.4,126.0 253.7,125.5 255.0,125.0 256.3,124.6 257.9,124.2 259.6,123.8 261.4,123.4 263.2,123.1 265.0,122.8 266.9,122.6 268.9,122.4 271.0,122.3 273.0,122.2 275.0,122.1 277.0,122.0 279.1,122.0 281.1,121.9 283.1,121.9 285.0,121.9 286.6,121.9 288.1,121.9 289.6,121.9 291.0,122.0 292.5,122.0" stroke="#f00010" stroke-width="2.4" stroke-linecap="butt" clip-path="url(#cl_B2_174)"/>
<path d="M85.6,26.0 89.1,33.6 92.7,41.2 96.2,48.8 99.8,56.4 103.3,64.0 107.0,71.9 110.9,80.1 114.7,88.2 118.2,95.7 121.0,102.0 122.2,105.0 123.3,107.7 124.2,110.1 125.1,112.5 126.0,115.0 126.9,117.4 127.8,119.8 128.7,122.2 129.6,124.6 130.5,127.0 131.4,129.7 132.3,132.4 133.2,135.2 134.1,137.8 135.0,140.0 135.6,141.3 136.3,142.4 136.9,143.5 137.5,144.5 138.2,145.5 138.9,146.4 139.5,147.3 140.2,148.2 140.9,149.1 141.6,150.0 142.3,150.9 142.9,151.9 143.5,152.9 144.2,153.9 144.9,154.9 145.8,156.2 146.7,157.5 147.6,158.8 148.5,160.2 149.5,161.5 150.5,162.8 151.6,164.1 152.6,165.4 153.7,166.6 154.8,167.8 155.8,168.9 156.9,169.9 157.9,170.9 159.0,171.9 160.0,172.8 160.9,173.6 161.9,174.4 162.8,175.2 163.7,176.0 164.7,176.7 165.6,177.4 166.6,178.1 167.5,178.8 168.5,179.4 169.5,180.0 170.5,180.6 171.5,181.1 172.5,181.6 173.5,182.1 174.6,182.6 175.8,183.1 177.1,183.6 178.4,184.1 179.7,184.5 181.0,184.8 182.3,185.1 183.6,185.4 184.9,185.6 186.3,185.7 187.8,185.5 190.5,184.6 193.5,183.2 196.7,181.3 199.8,179.4 202.5,177.7 204.4,176.5 206.2,175.3 207.8,174.0 209.4,172.8 211.0,171.5 212.5,170.3 213.9,169.1 215.3,167.8 216.7,166.5 217.9,165.0 219.1,163.1 220.2,161.1 221.2,158.9 222.2,156.8 223.2,154.8 224.0,153.2 224.8,151.7 225.6,150.3 226.4,148.9 227.2,147.5 228.0,146.2 228.8,145.0 229.6,143.8 230.4,142.7 231.2,141.5 232.0,140.4 232.7,139.3 233.5,138.2 234.3,137.2 235.1,136.2 236.0,135.2 236.9,134.2 237.8,133.3 238.8,132.4 239.8,131.6 240.7,131.0 241.6,130.4 242.5,129.9 243.4,129.5 244.4,129.0 245.5,128.6 246.6,128.2 247.7,127.8 248.8,127.4 250.0,127.0 251.2,126.5 252.4,126.0 253.7,125.5 255.0,125.0 256.3,124.6 257.9,124.2 259.6,123.8 261.4,123.4 263.2,123.1 265.0,122.8 266.9,122.6 268.9,122.4 271.0,122.3 273.0,122.2 275.0,122.1 277.0,122.0 279.1,122.0 281.1,121.9 283.1,121.9 285.0,121.9 286.6,121.9 288.1,121.9 289.6,121.9 291.0,122.0 292.5,122.0" stroke="#0000ff" stroke-width="4.6" stroke-linecap="butt" clip-path="url(#cl_B2_218)"/>
<path d="M85.6,26.0 89.1,33.6 92.7,41.2 96.2,48.8 99.8,56.4 103.3,64.0 107.0,71.9 110.9,80.1 114.7,88.2 118.2,95.7 121.0,102.0 122.2,105.0 123.3,107.7 124.2,110.1 125.1,112.5 126.0,115.0 126.9,117.4 127.8,119.8 128.7,122.2 129.6,124.6 130.5,127.0 131.4,129.7 132.3,132.4 133.2,135.2 134.1,137.8 135.0,140.0 135.6,141.3 136.3,142.4 136.9,143.5 137.5,144.5 138.2,145.5 138.9,146.4 139.5,147.3 140.2,148.2 140.9,149.1 141.6,150.0 142.3,150.9 142.9,151.9 143.5,152.9 144.2,153.9 144.9,154.9 145.8,156.2 146.7,157.5 147.6,158.8 148.5,160.2 149.5,161.5 150.5,162.8 151.6,164.1 152.6,165.4 153.7,166.6 154.8,167.8 155.8,168.9 156.9,169.9 157.9,170.9 159.0,171.9 160.0,172.8 160.9,173.6 161.9,174.4 162.8,175.2 163.7,176.0 164.7,176.7 165.6,177.4 166.6,178.1 167.5,178.8 168.5,179.4 169.5,180.0 170.5,180.6 171.5,181.1 172.5,181.6 173.5,182.1 174.6,182.6 175.8,183.1 177.1,183.6 178.4,184.1 179.7,184.5 181.0,184.8 182.3,185.1 183.6,185.4 184.9,185.6 186.3,185.7 187.8,185.5 190.5,184.6 193.5,183.2 196.7,181.3 199.8,179.4 202.5,177.7 204.4,176.5 206.2,175.3 207.8,174.0 209.4,172.8 211.0,171.5 212.5,170.3 213.9,169.1 215.3,167.8 216.7,166.5 217.9,165.0 219.1,163.1 220.2,161.1 221.2,158.9 222.2,156.8 223.2,154.8 224.0,153.2 224.8,151.7 225.6,150.3 226.4,148.9 227.2,147.5 228.0,146.2 228.8,145.0 229.6,143.8 230.4,142.7 231.2,141.5 232.0,140.4 232.7,139.3 233.5,138.2 234.3,137.2 235.1,136.2 236.0,135.2 236.9,134.2 237.8,133.3 238.8,132.4 239.8,131.6 240.7,131.0 241.6,130.4 242.5,129.9 243.4,129.5 244.4,129.0 245.5,128.6 246.6,128.2 247.7,127.8 248.8,127.4 250.0,127.0 251.2,126.5 252.4,126.0 253.7,125.5 255.0,125.0 256.3,124.6 257.9,124.2 259.6,123.8 261.4,123.4 263.2,123.1 265.0,122.8 266.9,122.6 268.9,122.4 271.0,122.3 273.0,122.2 275.0,122.1 277.0,122.0 279.1,122.0 281.1,121.9 283.1,121.9 285.0,121.9 286.6,121.9 288.1,121.9 289.6,121.9 291.0,122.0 292.5,122.0" stroke="#f00010" stroke-width="3.0" stroke-linecap="butt" clip-path="url(#cl_B2_250)"/>
<path d="M85.6,26.0 89.1,33.6 92.7,41.2 96.2,48.8 99.8,56.4 103.3,64.0 107.0,71.9 110.9,80.1 114.7,88.2 118.2,95.7 121.0,102.0 122.2,105.0 123.3,107.7 124.2,110.1 125.1,112.5 126.0,115.0 126.9,117.4 127.8,119.8 128.7,122.2 129.6,124.6 130.5,127.0 131.4,129.7 132.3,132.4 133.2,135.2 134.1,137.8 135.0,140.0 135.6,141.3 136.3,142.4 136.9,143.5 137.5,144.5 138.2,145.5 138.9,146.4 139.5,147.3 140.2,148.2 140.9,149.1 141.6,150.0 142.3,150.9 142.9,151.9 143.5,152.9 144.2,153.9 144.9,154.9 145.8,156.2 146.7,157.5 147.6,158.8 148.5,160.2 149.5,161.5 150.5,162.8 151.6,164.1 152.6,165.4 153.7,166.6 154.8,167.8 155.8,168.9 156.9,169.9 157.9,170.9 159.0,171.9 160.0,172.8 160.9,173.6 161.9,174.4 162.8,175.2 163.7,176.0 164.7,176.7 165.6,177.4 166.6,178.1 167.5,178.8 168.5,179.4 169.5,180.0 170.5,180.6 171.5,181.1 172.5,181.6 173.5,182.1 174.6,182.6 175.8,183.1 177.1,183.6 178.4,184.1 179.7,184.5 181.0,184.8 182.3,185.1 183.6,185.4 184.9,185.6 186.3,185.7 187.8,185.5 190.5,184.6 193.5,183.2 196.7,181.3 199.8,179.4 202.5,177.7 204.4,176.5 206.2,175.3 207.8,174.0 209.4,172.8 211.0,171.5 212.5,170.3 213.9,169.1 215.3,167.8 216.7,166.5 217.9,165.0 219.1,163.1 220.2,161.1 221.2,158.9 222.2,156.8 223.2,154.8 224.0,153.2 224.8,151.7 225.6,150.3 226.4,148.9 227.2,147.5 228.0,146.2 228.8,145.0 229.6,143.8 230.4,142.7 231.2,141.5 232.0,140.4 232.7,139.3 233.5,138.2 234.3,137.2 235.1,136.2 236.0,135.2 236.9,134.2 237.8,133.3 238.8,132.4 239.8,131.6 240.7,131.0 241.6,130.4 242.5,129.9 243.4,129.5 244.4,129.0 245.5,128.6 246.6,128.2 247.7,127.8 248.8,127.4 250.0,127.0 251.2,126.5 252.4,126.0 253.7,125.5 255.0,125.0 256.3,124.6 257.9,124.2 259.6,123.8 261.4,123.4 263.2,123.1 265.0,122.8 266.9,122.6 268.9,122.4 271.0,122.3 273.0,122.2 275.0,122.1 277.0,122.0 279.1,122.0 281.1,121.9 283.1,121.9 285.0,121.9 286.6,121.9 288.1,121.9 289.6,121.9 291.0,122.0 292.5,122.0" stroke="#0000ff" stroke-width="3.4" stroke-linecap="butt" clip-path="url(#cl_B2_256)"/>
<path d="M85.6,26.0 89.1,33.6 92.7,41.2 96.2,48.8 99.8,56.4 103.3,64.0 107.0,71.9 110.9,80.1 114.7,88.2 118.2,95.7 121.0,102.0 122.2,105.0 123.3,107.7 124.2,110.1 125.1,112.5 126.0,115.0 126.9,117.4 127.8,119.8 128.7,122.2 129.6,124.6 130.5,127.0 131.4,129.7 132.3,132.4 133.2,135.2 134.1,137.8 135.0,140.0 135.6,141.3 136.3,142.4 136.9,143.5 137.5,144.5 138.2,145.5 138.9,146.4 139.5,147.3 140.2,148.2 140.9,149.1 141.6,150.0 142.3,150.9 142.9,151.9 143.5,152.9 144.2,153.9 144.9,154.9 145.8,156.2 146.7,157.5 147.6,158.8 148.5,160.2 149.5,161.5 150.5,162.8 151.6,164.1 152.6,165.4 153.7,166.6 154.8,167.8 155.8,168.9 156.9,169.9 157.9,170.9 159.0,171.9 160.0,172.8 160.9,173.6 161.9,174.4 162.8,175.2 163.7,176.0 164.7,176.7 165.6,177.4 166.6,178.1 167.5,178.8 168.5,179.4 169.5,180.0 170.5,180.6 171.5,181.1 172.5,181.6 173.5,182.1 174.6,182.6 175.8,183.1 177.1,183.6 178.4,184.1 179.7,184.5 181.0,184.8 182.3,185.1 183.6,185.4 184.9,185.6 186.3,185.7 187.8,185.5 190.5,184.6 193.5,183.2 196.7,181.3 199.8,179.4 202.5,177.7 204.4,176.5 206.2,175.3 207.8,174.0 209.4,172.8 211.0,171.5 212.5,170.3 213.9,169.1 215.3,167.8 216.7,166.5 217.9,165.0 219.1,163.1 220.2,161.1 221.2,158.9 222.2,156.8 223.2,154.8 224.0,153.2 224.8,151.7 225.6,150.3 226.4,148.9 227.2,147.5 228.0,146.2 228.8,145.0 229.6,143.8 230.4,142.7 231.2,141.5 232.0,140.4 232.7,139.3 233.5,138.2 234.3,137.2 235.1,136.2 236.0,135.2 236.9,134.2 237.8,133.3 238.8,132.4 239.8,131.6 240.7,131.0 241.6,130.4 242.5,129.9 243.4,129.5 244.4,129.0 245.5,128.6 246.6,128.2 247.7,127.8 248.8,127.4 250.0,127.0 251.2,126.5 252.4,126.0 253.7,125.5 255.0,125.0 256.3,124.6 257.9,124.2 259.6,123.8 261.4,123.4 263.2,123.1 265.0,122.8 266.9,122.6 268.9,122.4 271.0,122.3 273.0,122.2 275.0,122.1 277.0,122.0 279.1,122.0 281.1,121.9 283.1,121.9 285.0,121.9 286.6,121.9 288.1,121.9 289.6,121.9 291.0,122.0 292.5,122.0" stroke="#f00010" stroke-width="3.0" stroke-linecap="butt" clip-path="url(#cl_B2_272)"/>
<path d="M85.6,26.0 89.1,33.6 92.7,41.2 96.2,48.8 99.8,56.4 103.3,64.0 107.0,71.9 110.9,80.1 114.7,88.2 118.2,95.7 121.0,102.0 122.2,105.0 123.3,107.7 124.2,110.1 125.1,112.5 126.0,115.0 126.9,117.4 127.8,119.8 128.7,122.2 129.6,124.6 130.5,127.0 131.4,129.7 132.3,132.4 133.2,135.2 134.1,137.8 135.0,140.0 135.6,141.3 136.3,142.4 136.9,143.5 137.5,144.5 138.2,145.5 138.9,146.4 139.5,147.3 140.2,148.2 140.9,149.1 141.6,150.0 142.3,150.9 142.9,151.9 143.5,152.9 144.2,153.9 144.9,154.9 145.8,156.2 146.7,157.5 147.6,158.8 148.5,160.2 149.5,161.5 150.5,162.8 151.6,164.1 152.6,165.4 153.7,166.6 154.8,167.8 155.8,168.9 156.9,169.9 157.9,170.9 159.0,171.9 160.0,172.8 160.9,173.6 161.9,174.4 162.8,175.2 163.7,176.0 164.7,176.7 165.6,177.4 166.6,178.1 167.5,178.8 168.5,179.4 169.5,180.0 170.5,180.6 171.5,181.1 172.5,181.6 173.5,182.1 174.6,182.6 175.8,183.1 177.1,183.6 178.4,184.1 179.7,184.5 181.0,184.8 182.3,185.1 183.6,185.4 184.9,185.6 186.3,185.7 187.8,185.5 190.5,184.6 193.5,183.2 196.7,181.3 199.8,179.4 202.5,177.7 204.4,176.5 206.2,175.3 207.8,174.0 209.4,172.8 211.0,171.5 212.5,170.3 213.9,169.1 215.3,167.8 216.7,166.5 217.9,165.0 219.1,163.1 220.2,161.1 221.2,158.9 222.2,156.8 223.2,154.8 224.0,153.2 224.8,151.7 225.6,150.3 226.4,148.9 227.2,147.5 228.0,146.2 228.8,145.0 229.6,143.8 230.4,142.7 231.2,141.5 232.0,140.4 232.7,139.3 233.5,138.2 234.3,137.2 235.1,136.2 236.0,135.2 236.9,134.2 237.8,133.3 238.8,132.4 239.8,131.6 240.7,131.0 241.6,130.4 242.5,129.9 243.4,129.5 244.4,129.0 245.5,128.6 246.6,128.2 247.7,127.8 248.8,127.4 250.0,127.0 251.2,126.5 252.4,126.0 253.7,125.5 255.0,125.0 256.3,124.6 257.9,124.2 259.6,123.8 261.4,123.4 263.2,123.1 265.0,122.8 266.9,122.6 268.9,122.4 271.0,122.3 273.0,122.2 275.0,122.1 277.0,122.0 279.1,122.0 281.1,121.9 283.1,121.9 285.0,121.9 286.6,121.9 288.1,121.9 289.6,121.9 291.0,122.0 292.5,122.0" stroke="#0000ff" stroke-width="3.4" stroke-linecap="butt" clip-path="url(#cl_B2_279)"/>
<path d="M85.6,26.0 89.1,33.6 92.7,41.2 96.2,48.8 99.8,56.4 103.3,64.0 107.0,71.9 110.9,80.1 114.7,88.2 118.2,95.7 121.0,102.0 122.2,105.0 123.3,107.7 124.2,110.1 125.1,112.5 126.0,115.0 126.9,117.4 127.8,119.8 128.7,122.2 129.6,124.6 130.5,127.0 131.4,129.7 132.3,132.4 133.2,135.2 134.1,137.8 135.0,140.0 135.6,141.3 136.3,142.4 136.9,143.5 137.5,144.5 138.2,145.5 138.9,146.4 139.5,147.3 140.2,148.2 140.9,149.1 141.6,150.0 142.3,150.9 142.9,151.9 143.5,152.9 144.2,153.9 144.9,154.9 145.8,156.2 146.7,157.5 147.6,158.8 148.5,160.2 149.5,161.5 150.5,162.8 151.6,164.1 152.6,165.4 153.7,166.6 154.8,167.8 155.8,168.9 156.9,169.9 157.9,170.9 159.0,171.9 160.0,172.8 160.9,173.6 161.9,174.4 162.8,175.2 163.7,176.0 164.7,176.7 165.6,177.4 166.6,178.1 167.5,178.8 168.5,179.4 169.5,180.0 170.5,180.6 171.5,181.1 172.5,181.6 173.5,182.1 174.6,182.6 175.8,183.1 177.1,183.6 178.4,184.1 179.7,184.5 181.0,184.8 182.3,185.1 183.6,185.4 184.9,185.6 186.3,185.7 187.8,185.5 190.5,184.6 193.5,183.2 196.7,181.3 199.8,179.4 202.5,177.7 204.4,176.5 206.2,175.3 207.8,174.0 209.4,172.8 211.0,171.5 212.5,170.3 213.9,169.1 215.3,167.8 216.7,166.5 217.9,165.0 219.1,163.1 220.2,161.1 221.2,158.9 222.2,156.8 223.2,154.8 224.0,153.2 224.8,151.7 225.6,150.3 226.4,148.9 227.2,147.5 228.0,146.2 228.8,145.0 229.6,143.8 230.4,142.7 231.2,141.5 232.0,140.4 232.7,139.3 233.5,138.2 234.3,137.2 235.1,136.2 236.0,135.2 236.9,134.2 237.8,133.3 238.8,132.4 239.8,131.6 240.7,131.0 241.6,130.4 242.5,129.9 243.4,129.5 244.4,129.0 245.5,128.6 246.6,128.2 247.7,127.8 248.8,127.4 250.0,127.0 251.2,126.5 252.4,126.0 253.7,125.5 255.0,125.0 256.3,124.6 257.9,124.2 259.6,123.8 261.4,123.4 263.2,123.1 265.0,122.8 266.9,122.6 268.9,122.4 271.0,122.3 273.0,122.2 275.0,122.1 277.0,122.0 279.1,122.0 281.1,121.9 283.1,121.9 285.0,121.9 286.6,121.9 288.1,121.9 289.6,121.9 291.0,122.0 292.5,122.0" stroke="#0000ff" stroke-width="5.4" stroke-linecap="butt" clip-path="url(#cl_B2_283)"/>
<g clip-path="url(#cr_B3_146)"><path d="M99.3,26.0 100.3,28.8 101.4,31.6 102.4,34.4 103.5,37.2 104.5,40.0 105.6,43.0 106.7,46.0 107.8,49.0 108.9,52.0 110.0,55.0 111.1,58.0 112.2,61.0 113.3,64.0 114.4,67.0 115.5,70.0 116.6,73.0 117.7,76.0 118.8,79.0 119.9,82.0 121.0,85.0 122.1,88.1 123.3,91.2 124.4,94.2 125.6,97.2 126.7,100.0 127.6,102.1 128.4,104.2 129.3,106.1 130.1,108.0 131.0,110.0 131.9,112.0 132.7,114.0 133.6,116.0 134.4,118.0 135.3,120.0 136.2,122.0 137.0,124.0 137.9,126.0 138.7,128.0 139.6,130.0 140.5,132.1 141.3,134.2 142.2,136.2 143.0,138.2 143.9,140.0 144.6,141.2 145.3,142.4 146.0,143.4 146.7,144.5 147.4,145.5 148.1,146.4 148.8,147.3 149.5,148.2 150.3,149.1 151.0,150.0 151.7,151.0 152.5,152.0 153.2,153.0 154.0,154.0 154.8,154.9 155.7,155.8 156.6,156.7 157.5,157.6 158.5,158.5 159.5,159.3 160.5,160.1 161.5,160.8 162.6,161.5 163.7,162.1 164.7,162.8 165.7,163.4 166.6,164.0 167.6,164.6 168.5,165.2 169.5,165.7 170.5,166.2 171.5,166.6 172.5,167.0 173.5,167.4 174.6,167.8 175.8,168.2 177.1,168.6 178.4,168.9 179.7,169.2 181.0,169.5 182.3,169.8 183.6,170.0 184.9,170.3 186.3,170.4 187.8,170.3 190.5,169.8 193.6,169.0 196.8,167.9 199.8,166.6 202.5,165.3 204.2,164.3 205.8,163.2 207.3,162.0 208.6,160.8 210.0,159.5 211.4,158.0 212.7,156.4 214.0,154.7 215.3,153.0 216.6,151.4 217.9,149.8 219.3,148.2 220.6,146.6 221.9,145.0 223.2,143.5 224.3,142.1 225.4,140.7 226.5,139.3 227.5,138.1 228.5,136.9 229.2,136.2 229.8,135.5 230.5,134.9 231.1,134.3 231.8,133.6 232.7,132.7 233.6,131.8 234.6,130.9 235.5,129.9 236.4,129.0 237.1,128.2 237.8,127.5 238.5,126.7 239.2,125.9 239.8,125.0 240.6,123.7 241.3,122.3 242.1,120.9 242.8,119.4 243.5,118.0 244.1,116.8 244.7,115.6 245.3,114.4 245.9,113.2 246.5,112.0 247.1,110.8 247.6,109.6 248.2,108.4 248.7,107.2 249.3,106.0 249.9,104.8 250.4,103.7 251.0,102.6 251.6,101.3 252.2,100.0 253.2,97.8 254.3,95.3 255.4,92.7 256.5,90.1 257.6,87.5 258.7,85.0 259.8,82.5 260.9,80.0 261.9,77.5 263.0,75.0 264.0,72.6 265.1,70.1 266.1,67.7 267.0,65.2 268.0,62.8 268.9,60.3 269.8,57.8 270.7,55.3 271.5,52.9 272.4,50.5 273.2,48.4 274.0,46.2 274.9,44.2 275.7,42.2 276.5,40.5 277.1,39.3 277.6,38.2 278.2,37.2 278.8,36.3 279.5,35.6 280.3,35.1 281.1,34.7 282.0,34.4 283.0,34.2 284.0,34.0 285.4,33.8 287.1,33.6 288.7,33.4 290.2,33.4 291.4,33.3 291.8,33.3 292.1,33.3 292.4,33.3 292.7,33.3 293.0,33.3" stroke="#f00010" stroke-width="4.6" stroke-linecap="butt" transform="translate(0.6 1.4)"/></g>
<path d="M99.3,26.0 100.3,28.8 101.4,31.6 102.4,34.4 103.5,37.2 104.5,40.0 105.6,43.0 106.7,46.0 107.8,49.0 108.9,52.0 110.0,55.0 111.1,58.0 112.2,61.0 113.3,64.0 114.4,67.0 115.5,70.0 116.6,73.0 117.7,76.0 118.8,79.0 119.9,82.0 121.0,85.0 122.1,88.1 123.3,91.2 124.4,94.2 125.6,97.2 126.7,100.0 127.6,102.1 128.4,104.2 129.3,106.1 130.1,108.0 131.0,110.0 131.9,112.0 132.7,114.0 133.6,116.0 134.4,118.0 135.3,120.0 136.2,122.0 137.0,124.0 137.9,126.0 138.7,128.0 139.6,130.0 140.5,132.1 141.3,134.2 142.2,136.2 143.0,138.2 143.9,140.0 144.6,141.2 145.3,142.4 146.0,143.4 146.7,144.5 147.4,145.5 148.1,146.4 148.8,147.3 149.5,148.2 150.3,149.1 151.0,150.0 151.7,151.0 152.5,152.0 153.2,153.0 154.0,154.0 154.8,154.9 155.7,155.8 156.6,156.7 157.5,157.6 158.5,158.5 159.5,159.3 160.5,160.1 161.5,160.8 162.6,161.5 163.7,162.1 164.7,162.8 165.7,163.4 166.6,164.0 167.6,164.6 168.5,165.2 169.5,165.7 170.5,166.2 171.5,166.6 172.5,167.0 173.5,167.4 174.6,167.8 175.8,168.2 177.1,168.6 178.4,168.9 179.7,169.2 181.0,169.5 182.3,169.8 183.6,170.0 184.9,170.3 186.3,170.4 187.8,170.3 190.5,169.8 193.6,169.0 196.8,167.9 199.8,166.6 202.5,165.3 204.2,164.3 205.8,163.2 207.3,162.0 208.6,160.8 210.0,159.5 211.4,158.0 212.7,156.4 214.0,154.7 215.3,153.0 216.6,151.4 217.9,149.8 219.3,148.2 220.6,146.6 221.9,145.0 223.2,143.5 224.3,142.1 225.4,140.7 226.5,139.3 227.5,138.1 228.5,136.9 229.2,136.2 229.8,135.5 230.5,134.9 231.1,134.3 231.8,133.6 232.7,132.7 233.6,131.8 234.6,130.9 235.5,129.9 236.4,129.0 237.1,128.2 237.8,127.5 238.5,126.7 239.2,125.9 239.8,125.0 240.6,123.7 241.3,122.3 242.1,120.9 242.8,119.4 243.5,118.0 244.1,116.8 244.7,115.6 245.3,114.4 245.9,113.2 246.5,112.0 247.1,110.8 247.6,109.6 248.2,108.4 248.7,107.2 249.3,106.0 249.9,104.8 250.4,103.7 251.0,102.6 251.6,101.3 252.2,100.0 253.2,97.8 254.3,95.3 255.4,92.7 256.5,90.1 257.6,87.5 258.7,85.0 259.8,82.5 260.9,80.0 261.9,77.5 263.0,75.0 264.0,72.6 265.1,70.1 266.1,67.7 267.0,65.2 268.0,62.8 268.9,60.3 269.8,57.8 270.7,55.3 271.5,52.9 272.4,50.5 273.2,48.4 274.0,46.2 274.9,44.2 275.7,42.2 276.5,40.5 277.1,39.3 277.6,38.2 278.2,37.2 278.8,36.3 279.5,35.6 280.3,35.1 281.1,34.7 282.0,34.4 283.0,34.2 284.0,34.0 285.4,33.8 287.1,33.6 288.7,33.4 290.2,33.4 291.4,33.3 291.8,33.3 292.1,33.3 292.4,33.3 292.7,33.3 293.0,33.3" stroke="#f00010" stroke-width="3.4" stroke-linecap="butt" clip-path="url(#cl_B3_97)"/>
<path d="M99.3,26.0 100.3,28.8 101.4,31.6 102.4,34.4 103.5,37.2 104.5,40.0 105.6,43.0 106.7,46.0 107.8,49.0 108.9,52.0 110.0,55.0 111.1,58.0 112.2,61.0 113.3,64.0 114.4,67.0 115.5,70.0 116.6,73.0 117.7,76.0 118.8,79.0 119.9,82.0 121.0,85.0 122.1,88.1 123.3,91.2 124.4,94.2 125.6,97.2 126.7,100.0 127.6,102.1 128.4,104.2 129.3,106.1 130.1,108.0 131.0,110.0 131.9,112.0 132.7,114.0 133.6,116.0 134.4,118.0 135.3,120.0 136.2,122.0 137.0,124.0 137.9,126.0 138.7,128.0 139.6,130.0 140.5,132.1 141.3,134.2 142.2,136.2 143.0,138.2 143.9,140.0 144.6,141.2 145.3,142.4 146.0,143.4 146.7,144.5 147.4,145.5 148.1,146.4 148.8,147.3 149.5,148.2 150.3,149.1 151.0,150.0 151.7,151.0 152.5,152.0 153.2,153.0 154.0,154.0 154.8,154.9 155.7,155.8 156.6,156.7 157.5,157.6 158.5,158.5 159.5,159.3 160.5,160.1 161.5,160.8 162.6,161.5 163.7,162.1 164.7,162.8 165.7,163.4 166.6,164.0 167.6,164.6 168.5,165.2 169.5,165.7 170.5,166.2 171.5,166.6 172.5,167.0 173.5,167.4 174.6,167.8 175.8,168.2 177.1,168.6 178.4,168.9 179.7,169.2 181.0,169.5 182.3,169.8 183.6,170.0 184.9,170.3 186.3,170.4 187.8,170.3 190.5,169.8 193.6,169.0 196.8,167.9 199.8,166.6 202.5,165.3 204.2,164.3 205.8,163.2 207.3,162.0 208.6,160.8 210.0,159.5 211.4,158.0 212.7,156.4 214.0,154.7 215.3,153.0 216.6,151.4 217.9,149.8 219.3,148.2 220.6,146.6 221.9,145.0 223.2,143.5 224.3,142.1 225.4,140.7 226.5,139.3 227.5,138.1 228.5,136.9 229.2,136.2 229.8,135.5 230.5,134.9 231.1,134.3 231.8,133.6 232.7,132.7 233.6,131.8 234.6,130.9 235.5,129.9 236.4,129.0 237.1,128.2 237.8,127.5 238.5,126.7 239.2,125.9 239.8,125.0 240.6,123.7 241.3,122.3 242.1,120.9 242.8,119.4 243.5,118.0 244.1,116.8 244.7,115.6 245.3,114.4 245.9,113.2 246.5,112.0 247.1,110.8 247.6,109.6 248.2,108.4 248.7,107.2 249.3,106.0 249.9,104.8 250.4,103.7 251.0,102.6 251.6,101.3 252.2,100.0 253.2,97.8 254.3,95.3 255.4,92.7 256.5,90.1 257.6,87.5 258.7,85.0 259.8,82.5 260.9,80.0 261.9,77.5 263.0,75.0 264.0,72.6 265.1,70.1 266.1,67.7 267.0,65.2 268.0,62.8 268.9,60.3 269.8,57.8 270.7,55.3 271.5,52.9 272.4,50.5 273.2,48.4 274.0,46.2 274.9,44.2 275.7,42.2 276.5,40.5 277.1,39.3 277.6,38.2 278.2,37.2 278.8,36.3 279.5,35.6 280.3,35.1 281.1,34.7 282.0,34.4 283.0,34.2 284.0,34.0 285.4,33.8 287.1,33.6 288.7,33.4 290.2,33.4 291.4,33.3 291.8,33.3 292.1,33.3 292.4,33.3 292.7,33.3 293.0,33.3" stroke="#0000ff" stroke-width="4.6" stroke-linecap="butt" clip-path="url(#cl_B3_146)"/>
<path d="M99.3,26.0 100.3,28.8 101.4,31.6 102.4,34.4 103.5,37.2 104.5,40.0 105.6,43.0 106.7,46.0 107.8,49.0 108.9,52.0 110.0,55.0 111.1,58.0 112.2,61.0 113.3,64.0 114.4,67.0 115.5,70.0 116.6,73.0 117.7,76.0 118.8,79.0 119.9,82.0 121.0,85.0 122.1,88.1 123.3,91.2 124.4,94.2 125.6,97.2 126.7,100.0 127.6,102.1 128.4,104.2 129.3,106.1 130.1,108.0 131.0,110.0 131.9,112.0 132.7,114.0 133.6,116.0 134.4,118.0 135.3,120.0 136.2,122.0 137.0,124.0 137.9,126.0 138.7,128.0 139.6,130.0 140.5,132.1 141.3,134.2 142.2,136.2 143.0,138.2 143.9,140.0 144.6,141.2 145.3,142.4 146.0,143.4 146.7,144.5 147.4,145.5 148.1,146.4 148.8,147.3 149.5,148.2 150.3,149.1 151.0,150.0 151.7,151.0 152.5,152.0 153.2,153.0 154.0,154.0 154.8,154.9 155.7,155.8 156.6,156.7 157.5,157.6 158.5,158.5 159.5,159.3 160.5,160.1 161.5,160.8 162.6,161.5 163.7,162.1 164.7,162.8 165.7,163.4 166.6,164.0 167.6,164.6 168.5,165.2 169.5,165.7 170.5,166.2 171.5,166.6 172.5,167.0 173.5,167.4 174.6,167.8 175.8,168.2 177.1,168.6 178.4,168.9 179.7,169.2 181.0,169.5 182.3,169.8 183.6,170.0 184.9,170.3 186.3,170.4 187.8,170.3 190.5,169.8 193.6,169.0 196.8,167.9 199.8,166.6 202.5,165.3 204.2,164.3 205.8,163.2 207.3,162.0 208.6,160.8 210.0,159.5 211.4,158.0 212.7,156.4 214.0,154.7 215.3,153.0 216.6,151.4 217.9,149.8 219.3,148.2 220.6,146.6 221.9,145.0 223.2,143.5 224.3,142.1 225.4,140.7 226.5,139.3 227.5,138.1 228.5,136.9 229.2,136.2 229.8,135.5 230.5,134.9 231.1,134.3 231.8,133.6 232.7,132.7 233.6,131.8 234.6,130.9 235.5,129.9 236.4,129.0 237.1,128.2 237.8,127.5 238.5,126.7 239.2,125.9 239.8,125.0 240.6,123.7 241.3,122.3 242.1,120.9 242.8,119.4 243.5,118.0 244.1,116.8 244.7,115.6 245.3,114.4 245.9,113.2 246.5,112.0 247.1,110.8 247.6,109.6 248.2,108.4 248.7,107.2 249.3,106.0 249.9,104.8 250.4,103.7 251.0,102.6 251.6,101.3 252.2,100.0 253.2,97.8 254.3,95.3 255.4,92.7 256.5,90.1 257.6,87.5 258.7,85.0 259.8,82.5 260.9,80.0 261.9,77.5 263.0,75.0 264.0,72.6 265.1,70.1 266.1,67.7 267.0,65.2 268.0,62.8 268.9,60.3 269.8,57.8 270.7,55.3 271.5,52.9 272.4,50.5 273.2,48.4 274.0,46.2 274.9,44.2 275.7,42.2 276.5,40.5 277.1,39.3 277.6,38.2 278.2,37.2 278.8,36.3 279.5,35.6 280.3,35.1 281.1,34.7 282.0,34.4 283.0,34.2 284.0,34.0 285.4,33.8 287.1,33.6 288.7,33.4 290.2,33.4 291.4,33.3 291.8,33.3 292.1,33.3 292.4,33.3 292.7,33.3 293.0,33.3" stroke="#0000ff" stroke-width="4.2" stroke-linecap="butt" clip-path="url(#cl_B3_188)"/>
<path d="M99.3,26.0 100.3,28.8 101.4,31.6 102.4,34.4 103.5,37.2 104.5,40.0 105.6,43.0 106.7,46.0 107.8,49.0 108.9,52.0 110.0,55.0 111.1,58.0 112.2,61.0 113.3,64.0 114.4,67.0 115.5,70.0 116.6,73.0 117.7,76.0 118.8,79.0 119.9,82.0 121.0,85.0 122.1,88.1 123.3,91.2 124.4,94.2 125.6,97.2 126.7,100.0 127.6,102.1 128.4,104.2 129.3,106.1 130.1,108.0 131.0,110.0 131.9,112.0 132.7,114.0 133.6,116.0 134.4,118.0 135.3,120.0 136.2,122.0 137.0,124.0 137.9,126.0 138.7,128.0 139.6,130.0 140.5,132.1 141.3,134.2 142.2,136.2 143.0,138.2 143.9,140.0 144.6,141.2 145.3,142.4 146.0,143.4 146.7,144.5 147.4,145.5 148.1,146.4 148.8,147.3 149.5,148.2 150.3,149.1 151.0,150.0 151.7,151.0 152.5,152.0 153.2,153.0 154.0,154.0 154.8,154.9 155.7,155.8 156.6,156.7 157.5,157.6 158.5,158.5 159.5,159.3 160.5,160.1 161.5,160.8 162.6,161.5 163.7,162.1 164.7,162.8 165.7,163.4 166.6,164.0 167.6,164.6 168.5,165.2 169.5,165.7 170.5,166.2 171.5,166.6 172.5,167.0 173.5,167.4 174.6,167.8 175.8,168.2 177.1,168.6 178.4,168.9 179.7,169.2 181.0,169.5 182.3,169.8 183.6,170.0 184.9,170.3 186.3,170.4 187.8,170.3 190.5,169.8 193.6,169.0 196.8,167.9 199.8,166.6 202.5,165.3 204.2,164.3 205.8,163.2 207.3,162.0 208.6,160.8 210.0,159.5 211.4,158.0 212.7,156.4 214.0,154.7 215.3,153.0 216.6,151.4 217.9,149.8 219.3,148.2 220.6,146.6 221.9,145.0 223.2,143.5 224.3,142.1 225.4,140.7 226.5,139.3 227.5,138.1 228.5,136.9 229.2,136.2 229.8,135.5 230.5,134.9 231.1,134.3 231.8,133.6 232.7,132.7 233.6,131.8 234.6,130.9 235.5,129.9 236.4,129.0 237.1,128.2 237.8,127.5 238.5,126.7 239.2,125.9 239.8,125.0 240.6,123.7 241.3,122.3 242.1,120.9 242.8,119.4 243.5,118.0 244.1,116.8 244.7,115.6 245.3,114.4 245.9,113.2 246.5,112.0 247.1,110.8 247.6,109.6 248.2,108.4 248.7,107.2 249.3,106.0 249.9,104.8 250.4,103.7 251.0,102.6 251.6,101.3 252.2,100.0 253.2,97.8 254.3,95.3 255.4,92.7 256.5,90.1 257.6,87.5 258.7,85.0 259.8,82.5 260.9,80.0 261.9,77.5 263.0,75.0 264.0,72.6 265.1,70.1 266.1,67.7 267.0,65.2 268.0,62.8 268.9,60.3 269.8,57.8 270.7,55.3 271.5,52.9 272.4,50.5 273.2,48.4 274.0,46.2 274.9,44.2 275.7,42.2 276.5,40.5 277.1,39.3 277.6,38.2 278.2,37.2 278.8,36.3 279.5,35.6 280.3,35.1 281.1,34.7 282.0,34.4 283.0,34.2 284.0,34.0 285.4,33.8 287.1,33.6 288.7,33.4 290.2,33.4 291.4,33.3 291.8,33.3 292.1,33.3 292.4,33.3 292.7,33.3 293.0,33.3" stroke="#f00010" stroke-width="2.2" stroke-linecap="butt" clip-path="url(#cl_B3_203)"/>
<path d="M99.3,26.0 100.3,28.8 101.4,31.6 102.4,34.4 103.5,37.2 104.5,40.0 105.6,43.0 106.7,46.0 107.8,49.0 108.9,52.0 110.0,55.0 111.1,58.0 112.2,61.0 113.3,64.0 114.4,67.0 115.5,70.0 116.6,73.0 117.7,76.0 118.8,79.0 119.9,82.0 121.0,85.0 122.1,88.1 123.3,91.2 124.4,94.2 125.6,97.2 126.7,100.0 127.6,102.1 128.4,104.2 129.3,106.1 130.1,108.0 131.0,110.0 131.9,112.0 132.7,114.0 133.6,116.0 134.4,118.0 135.3,120.0 136.2,122.0 137.0,124.0 137.9,126.0 138.7,128.0 139.6,130.0 140.5,132.1 141.3,134.2 142.2,136.2 143.0,138.2 143.9,140.0 144.6,141.2 145.3,142.4 146.0,143.4 146.7,144.5 147.4,145.5 148.1,146.4 148.8,147.3 149.5,148.2 150.3,149.1 151.0,150.0 151.7,151.0 152.5,152.0 153.2,153.0 154.0,154.0 154.8,154.9 155.7,155.8 156.6,156.7 157.5,157.6 158.5,158.5 159.5,159.3 160.5,160.1 161.5,160.8 162.6,161.5 163.7,162.1 164.7,162.8 165.7,163.4 166.6,164.0 167.6,164.6 168.5,165.2 169.5,165.7 170.5,166.2 171.5,166.6 172.5,167.0 173.5,167.4 174.6,167.8 175.8,168.2 177.1,168.6 178.4,168.9 179.7,169.2 181.0,169.5 182.3,169.8 183.6,170.0 184.9,170.3 186.3,170.4 187.8,170.3 190.5,169.8 193.6,169.0 196.8,167.9 199.8,166.6 202.5,165.3 204.2,164.3 205.8,163.2 207.3,162.0 208.6,160.8 210.0,159.5 211.4,158.0 212.7,156.4 214.0,154.7 215.3,153.0 216.6,151.4 217.9,149.8 219.3,148.2 220.6,146.6 221.9,145.0 223.2,143.5 224.3,142.1 225.4,140.7 226.5,139.3 227.5,138.1 228.5,136.9 229.2,136.2 229.8,135.5 230.5,134.9 231.1,134.3 231.8,133.6 232.7,132.7 233.6,131.8 234.6,130.9 235.5,129.9 236.4,129.0 237.1,128.2 237.8,127.5 238.5,126.7 239.2,125.9 239.8,125.0 240.6,123.7 241.3,122.3 242.1,120.9 242.8,119.4 243.5,118.0 244.1,116.8 244.7,115.6 245.3,114.4 245.9,113.2 246.5,112.0 247.1,110.8 247.6,109.6 248.2,108.4 248.7,107.2 249.3,106.0 249.9,104.8 250.4,103.7 251.0,102.6 251.6,101.3 252.2,100.0 253.2,97.8 254.3,95.3 255.4,92.7 256.5,90.1 257.6,87.5 258.7,85.0 259.8,82.5 260.9,80.0 261.9,77.5 263.0,75.0 264.0,72.6 265.1,70.1 266.1,67.7 267.0,65.2 268.0,62.8 268.9,60.3 269.8,57.8 270.7,55.3 271.5,52.9 272.4,50.5 273.2,48.4 274.0,46.2 274.9,44.2 275.7,42.2 276.5,40.5 277.1,39.3 277.6,38.2 278.2,37.2 278.8,36.3 279.5,35.6 280.3,35.1 281.1,34.7 282.0,34.4 283.0,34.2 284.0,34.0 285.4,33.8 287.1,33.6 288.7,33.4 290.2,33.4 291.4,33.3 291.8,33.3 292.1,33.3 292.4,33.3 292.7,33.3 293.0,33.3" stroke="#0000ff" stroke-width="5.0" stroke-linecap="butt" clip-path="url(#cl_B3_228)"/>
<path d="M99.3,26.0 100.3,28.8 101.4,31.6 102.4,34.4 103.5,37.2 104.5,40.0 105.6,43.0 106.7,46.0 107.8,49.0 108.9,52.0 110.0,55.0 111.1,58.0 112.2,61.0 113.3,64.0 114.4,67.0 115.5,70.0 116.6,73.0 117.7,76.0 118.8,79.0 119.9,82.0 121.0,85.0 122.1,88.1 123.3,91.2 124.4,94.2 125.6,97.2 126.7,100.0 127.6,102.1 128.4,104.2 129.3,106.1 130.1,108.0 131.0,110.0 131.9,112.0 132.7,114.0 133.6,116.0 134.4,118.0 135.3,120.0 136.2,122.0 137.0,124.0 137.9,126.0 138.7,128.0 139.6,130.0 140.5,132.1 141.3,134.2 142.2,136.2 143.0,138.2 143.9,140.0 144.6,141.2 145.3,142.4 146.0,143.4 146.7,144.5 147.4,145.5 148.1,146.4 148.8,147.3 149.5,148.2 150.3,149.1 151.0,150.0 151.7,151.0 152.5,152.0 153.2,153.0 154.0,154.0 154.8,154.9 155.7,155.8 156.6,156.7 157.5,157.6 158.5,158.5 159.5,159.3 160.5,160.1 161.5,160.8 162.6,161.5 163.7,162.1 164.7,162.8 165.7,163.4 166.6,164.0 167.6,164.6 168.5,165.2 169.5,165.7 170.5,166.2 171.5,166.6 172.5,167.0 173.5,167.4 174.6,167.8 175.8,168.2 177.1,168.6 178.4,168.9 179.7,169.2 181.0,169.5 182.3,169.8 183.6,170.0 184.9,170.3 186.3,170.4 187.8,170.3 190.5,169.8 193.6,169.0 196.8,167.9 199.8,166.6 202.5,165.3 204.2,164.3 205.8,163.2 207.3,162.0 208.6,160.8 210.0,159.5 211.4,158.0 212.7,156.4 214.0,154.7 215.3,153.0 216.6,151.4 217.9,149.8 219.3,148.2 220.6,146.6 221.9,145.0 223.2,143.5 224.3,142.1 225.4,140.7 226.5,139.3 227.5,138.1 228.5,136.9 229.2,136.2 229.8,135.5 230.5,134.9 231.1,134.3 231.8,133.6 232.7,132.7 233.6,131.8 234.6,130.9 235.5,129.9 236.4,129.0 237.1,128.2 237.8,127.5 238.5,126.7 239.2,125.9 239.8,125.0 240.6,123.7 241.3,122.3 242.1,120.9 242.8,119.4 243.5,118.0 244.1,116.8 244.7,115.6 245.3,114.4 245.9,113.2 246.5,112.0 247.1,110.8 247.6,109.6 248.2,108.4 248.7,107.2 249.3,106.0 249.9,104.8 250.4,103.7 251.0,102.6 251.6,101.3 252.2,100.0 253.2,97.8 254.3,95.3 255.4,92.7 256.5,90.1 257.6,87.5 258.7,85.0 259.8,82.5 260.9,80.0 261.9,77.5 263.0,75.0 264.0,72.6 265.1,70.1 266.1,67.7 267.0,65.2 268.0,62.8 268.9,60.3 269.8,57.8 270.7,55.3 271.5,52.9 272.4,50.5 273.2,48.4 274.0,46.2 274.9,44.2 275.7,42.2 276.5,40.5 277.1,39.3 277.6,38.2 278.2,37.2 278.8,36.3 279.5,35.6 280.3,35.1 281.1,34.7 282.0,34.4 283.0,34.2 284.0,34.0 285.4,33.8 287.1,33.6 288.7,33.4 290.2,33.4 291.4,33.3 291.8,33.3 292.1,33.3 292.4,33.3 292.7,33.3 293.0,33.3" stroke="#0000ff" stroke-width="3.8" stroke-linecap="butt" clip-path="url(#cl_B3_240)"/>
<path d="M99.3,26.0 100.3,28.8 101.4,31.6 102.4,34.4 103.5,37.2 104.5,40.0 105.6,43.0 106.7,46.0 107.8,49.0 108.9,52.0 110.0,55.0 111.1,58.0 112.2,61.0 113.3,64.0 114.4,67.0 115.5,70.0 116.6,73.0 117.7,76.0 118.8,79.0 119.9,82.0 121.0,85.0 122.1,88.1 123.3,91.2 124.4,94.2 125.6,97.2 126.7,100.0 127.6,102.1 128.4,104.2 129.3,106.1 130.1,108.0 131.0,110.0 131.9,112.0 132.7,114.0 133.6,116.0 134.4,118.0 135.3,120.0 136.2,122.0 137.0,124.0 137.9,126.0 138.7,128.0 139.6,130.0 140.5,132.1 141.3,134.2 142.2,136.2 143.0,138.2 143.9,140.0 144.6,141.2 145.3,142.4 146.0,143.4 146.7,144.5 147.4,145.5 148.1,146.4 148.8,147.3 149.5,148.2 150.3,149.1 151.0,150.0 151.7,151.0 152.5,152.0 153.2,153.0 154.0,154.0 154.8,154.9 155.7,155.8 156.6,156.7 157.5,157.6 158.5,158.5 159.5,159.3 160.5,160.1 161.5,160.8 162.6,161.5 163.7,162.1 164.7,162.8 165.7,163.4 166.6,164.0 167.6,164.6 168.5,165.2 169.5,165.7 170.5,166.2 171.5,166.6 172.5,167.0 173.5,167.4 174.6,167.8 175.8,168.2 177.1,168.6 178.4,168.9 179.7,169.2 181.0,169.5 182.3,169.8 183.6,170.0 184.9,170.3 186.3,170.4 187.8,170.3 190.5,169.8 193.6,169.0 196.8,167.9 199.8,166.6 202.5,165.3 204.2,164.3 205.8,163.2 207.3,162.0 208.6,160.8 210.0,159.5 211.4,158.0 212.7,156.4 214.0,154.7 215.3,153.0 216.6,151.4 217.9,149.8 219.3,148.2 220.6,146.6 221.9,145.0 223.2,143.5 224.3,142.1 225.4,140.7 226.5,139.3 227.5,138.1 228.5,136.9 229.2,136.2 229.8,135.5 230.5,134.9 231.1,134.3 231.8,133.6 232.7,132.7 233.6,131.8 234.6,130.9 235.5,129.9 236.4,129.0 237.1,128.2 237.8,127.5 238.5,126.7 239.2,125.9 239.8,125.0 240.6,123.7 241.3,122.3 242.1,120.9 242.8,119.4 243.5,118.0 244.1,116.8 244.7,115.6 245.3,114.4 245.9,113.2 246.5,112.0 247.1,110.8 247.6,109.6 248.2,108.4 248.7,107.2 249.3,106.0 249.9,104.8 250.4,103.7 251.0,102.6 251.6,101.3 252.2,100.0 253.2,97.8 254.3,95.3 255.4,92.7 256.5,90.1 257.6,87.5 258.7,85.0 259.8,82.5 260.9,80.0 261.9,77.5 263.0,75.0 264.0,72.6 265.1,70.1 266.1,67.7 267.0,65.2 268.0,62.8 268.9,60.3 269.8,57.8 270.7,55.3 271.5,52.9 272.4,50.5 273.2,48.4 274.0,46.2 274.9,44.2 275.7,42.2 276.5,40.5 277.1,39.3 277.6,38.2 278.2,37.2 278.8,36.3 279.5,35.6 280.3,35.1 281.1,34.7 282.0,34.4 283.0,34.2 284.0,34.0 285.4,33.8 287.1,33.6 288.7,33.4 290.2,33.4 291.4,33.3 291.8,33.3 292.1,33.3 292.4,33.3 292.7,33.3 293.0,33.3" stroke="#0000ff" stroke-width="3.4" stroke-linecap="butt" clip-path="url(#cl_B3_279)"/>
<path d="M122.0,26.0 123.8,30.0 125.6,34.0 127.4,38.0 129.2,42.0 131.0,46.0 132.8,50.0 134.6,54.0 136.4,58.1 138.2,62.1 140.0,66.0 141.7,69.7 143.3,73.5 144.9,77.2 146.5,80.8 148.0,84.0 149.1,86.2 150.1,88.2 151.1,90.2 152.0,92.1 153.0,94.0 153.9,95.9 154.8,97.7 155.7,99.5 156.6,101.3 157.5,103.0 158.3,104.5 159.1,105.9 159.9,107.3 160.7,108.6 161.5,110.0 162.3,111.3 163.1,112.6 163.9,113.9 164.7,115.2 165.5,116.5 166.4,117.8 167.2,119.1 168.2,120.4 169.1,121.6 170.0,122.8 170.9,123.9 171.8,124.9 172.7,125.9 173.6,126.9 174.5,127.8 175.4,128.6 176.3,129.4 177.2,130.2 178.1,130.9 179.0,131.5 179.9,132.0 180.8,132.5 181.7,132.9 182.6,133.3 183.5,133.6 184.3,133.8 185.1,134.0 185.9,134.2 186.8,134.3 187.8,134.4 190.3,134.6 193.3,134.9 196.6,135.0 199.7,135.1 202.5,135.1 204.2,135.0 205.7,134.9 207.2,134.7 208.6,134.5 210.0,134.3 211.3,134.2 212.7,134.1 214.0,134.0 215.3,133.8 216.6,133.6 217.9,133.3 219.3,133.0 220.6,132.6 221.9,132.1 223.2,131.6 224.3,131.0 225.5,130.4 226.5,129.7 227.6,129.0 228.5,128.3 229.2,127.7 229.9,127.1 230.6,126.5 231.2,125.8 231.8,125.0 232.6,123.9 233.3,122.6 234.1,121.2 234.8,119.8 235.5,118.5 236.2,117.2 236.9,115.9 237.6,114.6 238.3,113.3 239.0,112.0 239.7,110.8 240.3,109.6 241.0,108.4 241.6,107.2 242.3,106.0 242.9,104.8 243.6,103.7 244.2,102.6 244.8,101.4 245.5,100.0 246.5,97.8 247.5,95.3 248.5,92.7 249.6,90.1 250.6,87.5 251.7,85.0 252.7,82.5 253.8,80.0 254.8,77.5 255.9,75.0 256.9,72.6 257.9,70.1 259.0,67.7 260.0,65.2 261.0,62.8 262.1,60.3 263.1,57.8 264.2,55.4 265.3,52.9 266.3,50.5 267.2,48.3 268.0,46.2 268.8,44.0 269.7,42.0 270.5,40.0 271.2,38.2 271.9,36.5 272.6,34.8 273.4,33.3 274.3,32.1 275.0,31.5 275.7,31.1 276.5,30.7 277.2,30.5 278.0,30.2 278.8,30.0 279.6,29.8 280.3,29.6 281.2,29.5 282.0,29.4 283.0,29.3 283.9,29.2 284.9,29.1 286.0,29.0 287.0,28.9 288.2,28.8 289.4,28.8 290.6,28.7 291.8,28.7 293.0,28.6" stroke="#0000ff" stroke-width="4.8" stroke-linecap="butt" clip-path="url(#cl_B4_120)"/>
<path d="M122.0,26.0 123.8,30.0 125.6,34.0 127.4,38.0 129.2,42.0 131.0,46.0 132.8,50.0 134.6,54.0 136.4,58.1 138.2,62.1 140.0,66.0 141.7,69.7 143.3,73.5 144.9,77.2 146.5,80.8 148.0,84.0 149.1,86.2 150.1,88.2 151.1,90.2 152.0,92.1 153.0,94.0 153.9,95.9 154.8,97.7 155.7,99.5 156.6,101.3 157.5,103.0 158.3,104.5 159.1,105.9 159.9,107.3 160.7,108.6 161.5,110.0 162.3,111.3 163.1,112.6 163.9,113.9 164.7,115.2 165.5,116.5 166.4,117.8 167.2,119.1 168.2,120.4 169.1,121.6 170.0,122.8 170.9,123.9 171.8,124.9 172.7,125.9 173.6,126.9 174.5,127.8 175.4,128.6 176.3,129.4 177.2,130.2 178.1,130.9 179.0,131.5 179.9,132.0 180.8,132.5 181.7,132.9 182.6,133.3 183.5,133.6 184.3,133.8 185.1,134.0 185.9,134.2 186.8,134.3 187.8,134.4 190.3,134.6 193.3,134.9 196.6,135.0 199.7,135.1 202.5,135.1 204.2,135.0 205.7,134.9 207.2,134.7 208.6,134.5 210.0,134.3 211.3,134.2 212.7,134.1 214.0,134.0 215.3,133.8 216.6,133.6 217.9,133.3 219.3,133.0 220.6,132.6 221.9,132.1 223.2,131.6 224.3,131.0 225.5,130.4 226.5,129.7 227.6,129.0 228.5,128.3 229.2,127.7 229.9,127.1 230.6,126.5 231.2,125.8 231.8,125.0 232.6,123.9 233.3,122.6 234.1,121.2 234.8,119.8 235.5,118.5 236.2,117.2 236.9,115.9 237.6,114.6 238.3,113.3 239.0,112.0 239.7,110.8 240.3,109.6 241.0,108.4 241.6,107.2 242.3,106.0 242.9,104.8 243.6,103.7 244.2,102.6 244.8,101.4 245.5,100.0 246.5,97.8 247.5,95.3 248.5,92.7 249.6,90.1 250.6,87.5 251.7,85.0 252.7,82.5 253.8,80.0 254.8,77.5 255.9,75.0 256.9,72.6 257.9,70.1 259.0,67.7 260.0,65.2 261.0,62.8 262.1,60.3 263.1,57.8 264.2,55.4 265.3,52.9 266.3,50.5 267.2,48.3 268.0,46.2 268.8,44.0 269.7,42.0 270.5,40.0 271.2,38.2 271.9,36.5 272.6,34.8 273.4,33.3 274.3,32.1 275.0,31.5 275.7,31.1 276.5,30.7 277.2,30.5 278.0,30.2 278.8,30.0 279.6,29.8 280.3,29.6 281.2,29.5 282.0,29.4 283.0,29.3 283.9,29.2 284.9,29.1 286.0,29.0 287.0,28.9 288.2,28.8 289.4,28.8 290.6,28.7 291.8,28.7 293.0,28.6" stroke="#f00010" stroke-width="3.8" stroke-linecap="butt" clip-path="url(#cl_B4_152)"/>
<path d="M122.0,26.0 123.8,30.0 125.6,34.0 127.4,38.0 129.2,42.0 131.0,46.0 132.8,50.0 134.6,54.0 136.4,58.1 138.2,62.1 140.0,66.0 141.7,69.7 143.3,73.5 144.9,77.2 146.5,80.8 148.0,84.0 149.1,86.2 150.1,88.2 151.1,90.2 152.0,92.1 153.0,94.0 153.9,95.9 154.8,97.7 155.7,99.5 156.6,101.3 157.5,103.0 158.3,104.5 159.1,105.9 159.9,107.3 160.7,108.6 161.5,110.0 162.3,111.3 163.1,112.6 163.9,113.9 164.7,115.2 165.5,116.5 166.4,117.8 167.2,119.1 168.2,120.4 169.1,121.6 170.0,122.8 170.9,123.9 171.8,124.9 172.7,125.9 173.6,126.9 174.5,127.8 175.4,128.6 176.3,129.4 177.2,130.2 178.1,130.9 179.0,131.5 179.9,132.0 180.8,132.5 181.7,132.9 182.6,133.3 183.5,133.6 184.3,133.8 185.1,134.0 185.9,134.2 186.8,134.3 187.8,134.4 190.3,134.6 193.3,134.9 196.6,135.0 199.7,135.1 202.5,135.1 204.2,135.0 205.7,134.9 207.2,134.7 208.6,134.5 210.0,134.3 211.3,134.2 212.7,134.1 214.0,134.0 215.3,133.8 216.6,133.6 217.9,133.3 219.3,133.0 220.6,132.6 221.9,132.1 223.2,131.6 224.3,131.0 225.5,130.4 226.5,129.7 227.6,129.0 228.5,128.3 229.2,127.7 229.9,127.1 230.6,126.5 231.2,125.8 231.8,125.0 232.6,123.9 233.3,122.6 234.1,121.2 234.8,119.8 235.5,118.5 236.2,117.2 236.9,115.9 237.6,114.6 238.3,113.3 239.0,112.0 239.7,110.8 240.3,109.6 241.0,108.4 241.6,107.2 242.3,106.0 242.9,104.8 243.6,103.7 244.2,102.6 244.8,101.4 245.5,100.0 246.5,97.8 247.5,95.3 248.5,92.7 249.6,90.1 250.6,87.5 251.7,85.0 252.7,82.5 253.8,80.0 254.8,77.5 255.9,75.0 256.9,72.6 257.9,70.1 259.0,67.7 260.0,65.2 261.0,62.8 262.1,60.3 263.1,57.8 264.2,55.4 265.3,52.9 266.3,50.5 267.2,48.3 268.0,46.2 268.8,44.0 269.7,42.0 270.5,40.0 271.2,38.2 271.9,36.5 272.6,34.8 273.4,33.3 274.3,32.1 275.0,31.5 275.7,31.1 276.5,30.7 277.2,30.5 278.0,30.2 278.8,30.0 279.6,29.8 280.3,29.6 281.2,29.5 282.0,29.4 283.0,29.3 283.9,29.2 284.9,29.1 286.0,29.0 287.0,28.9 288.2,28.8 289.4,28.8 290.6,28.7 291.8,28.7 293.0,28.6" stroke="#0000ff" stroke-width="4.6" stroke-linecap="butt" clip-path="url(#cl_B4_177)"/>
<path d="M122.0,26.0 123.8,30.0 125.6,34.0 127.4,38.0 129.2,42.0 131.0,46.0 132.8,50.0 134.6,54.0 136.4,58.1 138.2,62.1 140.0,66.0 141.7,69.7 143.3,73.5 144.9,77.2 146.5,80.8 148.0,84.0 149.1,86.2 150.1,88.2 151.1,90.2 152.0,92.1 153.0,94.0 153.9,95.9 154.8,97.7 155.7,99.5 156.6,101.3 157.5,103.0 158.3,104.5 159.1,105.9 159.9,107.3 160.7,108.6 161.5,110.0 162.3,111.3 163.1,112.6 163.9,113.9 164.7,115.2 165.5,116.5 166.4,117.8 167.2,119.1 168.2,120.4 169.1,121.6 170.0,122.8 170.9,123.9 171.8,124.9 172.7,125.9 173.6,126.9 174.5,127.8 175.4,128.6 176.3,129.4 177.2,130.2 178.1,130.9 179.0,131.5 179.9,132.0 180.8,132.5 181.7,132.9 182.6,133.3 183.5,133.6 184.3,133.8 185.1,134.0 185.9,134.2 186.8,134.3 187.8,134.4 190.3,134.6 193.3,134.9 196.6,135.0 199.7,135.1 202.5,135.1 204.2,135.0 205.7,134.9 207.2,134.7 208.6,134.5 210.0,134.3 211.3,134.2 212.7,134.1 214.0,134.0 215.3,133.8 216.6,133.6 217.9,133.3 219.3,133.0 220.6,132.6 221.9,132.1 223.2,131.6 224.3,131.0 225.5,130.4 226.5,129.7 227.6,129.0 228.5,128.3 229.2,127.7 229.9,127.1 230.6,126.5 231.2,125.8 231.8,125.0 232.6,123.9 233.3,122.6 234.1,121.2 234.8,119.8 235.5,118.5 236.2,117.2 236.9,115.9 237.6,114.6 238.3,113.3 239.0,112.0 239.7,110.8 240.3,109.6 241.0,108.4 241.6,107.2 242.3,106.0 242.9,104.8 243.6,103.7 244.2,102.6 244.8,101.4 245.5,100.0 246.5,97.8 247.5,95.3 248.5,92.7 249.6,90.1 250.6,87.5 251.7,85.0 252.7,82.5 253.8,80.0 254.8,77.5 255.9,75.0 256.9,72.6 257.9,70.1 259.0,67.7 260.0,65.2 261.0,62.8 262.1,60.3 263.1,57.8 264.2,55.4 265.3,52.9 266.3,50.5 267.2,48.3 268.0,46.2 268.8,44.0 269.7,42.0 270.5,40.0 271.2,38.2 271.9,36.5 272.6,34.8 273.4,33.3 274.3,32.1 275.0,31.5 275.7,31.1 276.5,30.7 277.2,30.5 278.0,30.2 278.8,30.0 279.6,29.8 280.3,29.6 281.2,29.5 282.0,29.4 283.0,29.3 283.9,29.2 284.9,29.1 286.0,29.0 287.0,28.9 288.2,28.8 289.4,28.8 290.6,28.7 291.8,28.7 293.0,28.6" stroke="#f00010" stroke-width="3.8" stroke-linecap="butt" clip-path="url(#cl_B4_216)"/>
<path d="M122.0,26.0 123.8,30.0 125.6,34.0 127.4,38.0 129.2,42.0 131.0,46.0 132.8,50.0 134.6,54.0 136.4,58.1 138.2,62.1 140.0,66.0 141.7,69.7 143.3,73.5 144.9,77.2 146.5,80.8 148.0,84.0 149.1,86.2 150.1,88.2 151.1,90.2 152.0,92.1 153.0,94.0 153.9,95.9 154.8,97.7 155.7,99.5 156.6,101.3 157.5,103.0 158.3,104.5 159.1,105.9 159.9,107.3 160.7,108.6 161.5,110.0 162.3,111.3 163.1,112.6 163.9,113.9 164.7,115.2 165.5,116.5 166.4,117.8 167.2,119.1 168.2,120.4 169.1,121.6 170.0,122.8 170.9,123.9 171.8,124.9 172.7,125.9 173.6,126.9 174.5,127.8 175.4,128.6 176.3,129.4 177.2,130.2 178.1,130.9 179.0,131.5 179.9,132.0 180.8,132.5 181.7,132.9 182.6,133.3 183.5,133.6 184.3,133.8 185.1,134.0 185.9,134.2 186.8,134.3 187.8,134.4 190.3,134.6 193.3,134.9 196.6,135.0 199.7,135.1 202.5,135.1 204.2,135.0 205.7,134.9 207.2,134.7 208.6,134.5 210.0,134.3 211.3,134.2 212.7,134.1 214.0,134.0 215.3,133.8 216.6,133.6 217.9,133.3 219.3,133.0 220.6,132.6 221.9,132.1 223.2,131.6 224.3,131.0 225.5,130.4 226.5,129.7 227.6,129.0 228.5,128.3 229.2,127.7 229.9,127.1 230.6,126.5 231.2,125.8 231.8,125.0 232.6,123.9 233.3,122.6 234.1,121.2 234.8,119.8 235.5,118.5 236.2,117.2 236.9,115.9 237.6,114.6 238.3,113.3 239.0,112.0 239.7,110.8 240.3,109.6 241.0,108.4 241.6,107.2 242.3,106.0 242.9,104.8 243.6,103.7 244.2,102.6 244.8,101.4 245.5,100.0 246.5,97.8 247.5,95.3 248.5,92.7 249.6,90.1 250.6,87.5 251.7,85.0 252.7,82.5 253.8,80.0 254.8,77.5 255.9,75.0 256.9,72.6 257.9,70.1 259.0,67.7 260.0,65.2 261.0,62.8 262.1,60.3 263.1,57.8 264.2,55.4 265.3,52.9 266.3,50.5 267.2,48.3 268.0,46.2 268.8,44.0 269.7,42.0 270.5,40.0 271.2,38.2 271.9,36.5 272.6,34.8 273.4,33.3 274.3,32.1 275.0,31.5 275.7,31.1 276.5,30.7 277.2,30.5 278.0,30.2 278.8,30.0 279.6,29.8 280.3,29.6 281.2,29.5 282.0,29.4 283.0,29.3 283.9,29.2 284.9,29.1 286.0,29.0 287.0,28.9 288.2,28.8 289.4,28.8 290.6,28.7 291.8,28.7 293.0,28.6" stroke="#f00010" stroke-width="2.6" stroke-linecap="butt" clip-path="url(#cl_B4_231)"/>
<path d="M122.0,26.0 123.8,30.0 125.6,34.0 127.4,38.0 129.2,42.0 131.0,46.0 132.8,50.0 134.6,54.0 136.4,58.1 138.2,62.1 140.0,66.0 141.7,69.7 143.3,73.5 144.9,77.2 146.5,80.8 148.0,84.0 149.1,86.2 150.1,88.2 151.1,90.2 152.0,92.1 153.0,94.0 153.9,95.9 154.8,97.7 155.7,99.5 156.6,101.3 157.5,103.0 158.3,104.5 159.1,105.9 159.9,107.3 160.7,108.6 161.5,110.0 162.3,111.3 163.1,112.6 163.9,113.9 164.7,115.2 165.5,116.5 166.4,117.8 167.2,119.1 168.2,120.4 169.1,121.6 170.0,122.8 170.9,123.9 171.8,124.9 172.7,125.9 173.6,126.9 174.5,127.8 175.4,128.6 176.3,129.4 177.2,130.2 178.1,130.9 179.0,131.5 179.9,132.0 180.8,132.5 181.7,132.9 182.6,133.3 183.5,133.6 184.3,133.8 185.1,134.0 185.9,134.2 186.8,134.3 187.8,134.4 190.3,134.6 193.3,134.9 196.6,135.0 199.7,135.1 202.5,135.1 204.2,135.0 205.7,134.9 207.2,134.7 208.6,134.5 210.0,134.3 211.3,134.2 212.7,134.1 214.0,134.0 215.3,133.8 216.6,133.6 217.9,133.3 219.3,133.0 220.6,132.6 221.9,132.1 223.2,131.6 224.3,131.0 225.5,130.4 226.5,129.7 227.6,129.0 228.5,128.3 229.2,127.7 229.9,127.1 230.6,126.5 231.2,125.8 231.8,125.0 232.6,123.9 233.3,122.6 234.1,121.2 234.8,119.8 235.5,118.5 236.2,117.2 236.9,115.9 237.6,114.6 238.3,113.3 239.0,112.0 239.7,110.8 240.3,109.6 241.0,108.4 241.6,107.2 242.3,106.0 242.9,104.8 243.6,103.7 244.2,102.6 244.8,101.4 245.5,100.0 246.5,97.8 247.5,95.3 248.5,92.7 249.6,90.1 250.6,87.5 251.7,85.0 252.7,82.5 253.8,80.0 254.8,77.5 255.9,75.0 256.9,72.6 257.9,70.1 259.0,67.7 260.0,65.2 261.0,62.8 262.1,60.3 263.1,57.8 264.2,55.4 265.3,52.9 266.3,50.5 267.2,48.3 268.0,46.2 268.8,44.0 269.7,42.0 270.5,40.0 271.2,38.2 271.9,36.5 272.6,34.8 273.4,33.3 274.3,32.1 275.0,31.5 275.7,31.1 276.5,30.7 277.2,30.5 278.0,30.2 278.8,30.0 279.6,29.8 280.3,29.6 281.2,29.5 282.0,29.4 283.0,29.3 283.9,29.2 284.9,29.1 286.0,29.0 287.0,28.9 288.2,28.8 289.4,28.8 290.6,28.7 291.8,28.7 293.0,28.6" stroke="#0000ff" stroke-width="5.0" stroke-linecap="butt" clip-path="url(#cl_B4_265)"/>
<path d="M122.0,26.0 123.8,30.0 125.6,34.0 127.4,38.0 129.2,42.0 131.0,46.0 132.8,50.0 134.6,54.0 136.4,58.1 138.2,62.1 140.0,66.0 141.7,69.7 143.3,73.5 144.9,77.2 146.5,80.8 148.0,84.0 149.1,86.2 150.1,88.2 151.1,90.2 152.0,92.1 153.0,94.0 153.9,95.9 154.8,97.7 155.7,99.5 156.6,101.3 157.5,103.0 158.3,104.5 159.1,105.9 159.9,107.3 160.7,108.6 161.5,110.0 162.3,111.3 163.1,112.6 163.9,113.9 164.7,115.2 165.5,116.5 166.4,117.8 167.2,119.1 168.2,120.4 169.1,121.6 170.0,122.8 170.9,123.9 171.8,124.9 172.7,125.9 173.6,126.9 174.5,127.8 175.4,128.6 176.3,129.4 177.2,130.2 178.1,130.9 179.0,131.5 179.9,132.0 180.8,132.5 181.7,132.9 182.6,133.3 183.5,133.6 184.3,133.8 185.1,134.0 185.9,134.2 186.8,134.3 187.8,134.4 190.3,134.6 193.3,134.9 196.6,135.0 199.7,135.1 202.5,135.1 204.2,135.0 205.7,134.9 207.2,134.7 208.6,134.5 210.0,134.3 211.3,134.2 212.7,134.1 214.0,134.0 215.3,133.8 216.6,133.6 217.9,133.3 219.3,133.0 220.6,132.6 221.9,132.1 223.2,131.6 224.3,131.0 225.5,130.4 226.5,129.7 227.6,129.0 228.5,128.3 229.2,127.7 229.9,127.1 230.6,126.5 231.2,125.8 231.8,125.0 232.6,123.9 233.3,122.6 234.1,121.2 234.8,119.8 235.5,118.5 236.2,117.2 236.9,115.9 237.6,114.6 238.3,113.3 239.0,112.0 239.7,110.8 240.3,109.6 241.0,108.4 241.6,107.2 242.3,106.0 242.9,104.8 243.6,103.7 244.2,102.6 244.8,101.4 245.5,100.0 246.5,97.8 247.5,95.3 248.5,92.7 249.6,90.1 250.6,87.5 251.7,85.0 252.7,82.5 253.8,80.0 254.8,77.5 255.9,75.0 256.9,72.6 257.9,70.1 259.0,67.7 260.0,65.2 261.0,62.8 262.1,60.3 263.1,57.8 264.2,55.4 265.3,52.9 266.3,50.5 267.2,48.3 268.0,46.2 268.8,44.0 269.7,42.0 270.5,40.0 271.2,38.2 271.9,36.5 272.6,34.8 273.4,33.3 274.3,32.1 275.0,31.5 275.7,31.1 276.5,30.7 277.2,30.5 278.0,30.2 278.8,30.0 279.6,29.8 280.3,29.6 281.2,29.5 282.0,29.4 283.0,29.3 283.9,29.2 284.9,29.1 286.0,29.0 287.0,28.9 288.2,28.8 289.4,28.8 290.6,28.7 291.8,28.7 293.0,28.6" stroke="#f00010" stroke-width="3.6" stroke-linecap="butt" clip-path="url(#cl_B4_274.3)"/>
<path d="M144.0,26.0 145.2,26.5 146.3,27.0 147.4,27.6 148.6,28.1 149.9,28.7 151.6,29.5 153.4,30.4 155.3,31.4 157.2,32.3 159.2,33.3 161.5,34.4 163.8,35.4 166.2,36.5 168.6,37.6 170.9,38.6 172.8,39.5 174.7,40.4 176.6,41.3 178.4,42.1 180.2,42.7 181.7,43.1 183.3,43.5 184.8,43.8 186.3,44.0 187.8,44.1 189.3,44.1 190.9,44.1 192.4,44.0 193.9,43.7 195.4,43.3 196.9,42.6 198.3,41.7 199.7,40.7 201.1,39.6 202.4,38.5 203.8,37.4 205.1,36.1 206.4,34.9 207.7,33.6 209.0,32.5 210.2,31.5 211.4,30.5 212.7,29.6 213.9,28.7 215.0,28.0 215.8,27.5 216.6,27.1 217.4,26.7 218.2,26.4 219.0,26.0" stroke="#f00010" stroke-width="3.6" stroke-linecap="butt" clip-path="url(#cl_B5_142)"/>
<path d="M144.0,26.0 145.2,26.5 146.3,27.0 147.4,27.6 148.6,28.1 149.9,28.7 151.6,29.5 153.4,30.4 155.3,31.4 157.2,32.3 159.2,33.3 161.5,34.4 163.8,35.4 166.2,36.5 168.6,37.6 170.9,38.6 172.8,39.5 174.7,40.4 176.6,41.3 178.4,42.1 180.2,42.7 181.7,43.1 183.3,43.5 184.8,43.8 186.3,44.0 187.8,44.1 189.3,44.1 190.9,44.1 192.4,44.0 193.9,43.7 195.4,43.3 196.9,42.6 198.3,41.7 199.7,40.7 201.1,39.6 202.4,38.5 203.8,37.4 205.1,36.1 206.4,34.9 207.7,33.6 209.0,32.5 210.2,31.5 211.4,30.5 212.7,29.6 213.9,28.7 215.0,28.0 215.8,27.5 216.6,27.1 217.4,26.7 218.2,26.4 219.0,26.0" stroke="#f00010" stroke-width="4.8" stroke-linecap="butt" clip-path="url(#cl_B5_180)"/>
<path d="M144.0,26.0 145.2,26.5 146.3,27.0 147.4,27.6 148.6,28.1 149.9,28.7 151.6,29.5 153.4,30.4 155.3,31.4 157.2,32.3 159.2,33.3 161.5,34.4 163.8,35.4 166.2,36.5 168.6,37.6 170.9,38.6 172.8,39.5 174.7,40.4 176.6,41.3 178.4,42.1 180.2,42.7 181.7,43.1 183.3,43.5 184.8,43.8 186.3,44.0 187.8,44.1 189.3,44.1 190.9,44.1 192.4,44.0 193.9,43.7 195.4,43.3 196.9,42.6 198.3,41.7 199.7,40.7 201.1,39.6 202.4,38.5 203.8,37.4 205.1,36.1 206.4,34.9 207.7,33.6 209.0,32.5 210.2,31.5 211.4,30.5 212.7,29.6 213.9,28.7 215.0,28.0 215.8,27.5 216.6,27.1 217.4,26.7 218.2,26.4 219.0,26.0" stroke="#0000ff" stroke-width="4.4" stroke-linecap="butt" clip-path="url(#cl_B5_200)"/>
<path d="M147.0,26.0 148.0,26.3 149.0,26.6 149.9,26.9 150.9,27.2 152.0,27.6 153.5,28.3 155.0,29.0 156.6,29.9 158.3,30.7 160.0,31.6 162.1,32.6 164.3,33.7 166.6,34.7 168.8,35.8 171.0,36.8 172.9,37.7 174.7,38.5 176.4,39.3 178.2,40.2 180.0,41.0" stroke="#0000ff" stroke-width="4.2" stroke-linecap="butt" clip-path="url(#cl_B5b_145)"/>
<path d="M165.0,26.2 166.0,26.7 167.0,27.1 168.0,27.6 169.0,28.0 170.0,28.4 171.0,28.8 172.0,29.1 173.0,29.4 174.0,29.7 175.0,29.9 176.2,30.1 177.4,30.3 178.6,30.5 179.8,30.6 181.0,30.7 182.0,30.8 183.0,30.8 184.0,30.9 185.0,30.9 186.0,31.0" stroke="#f00010" stroke-width="2.6" stroke-linecap="butt" clip-path="url(#cl_B6c_164)"/>
<path d="M250.0,27.0 251.2,26.9 252.4,26.8 253.6,26.7 254.8,26.6 256.0,26.6 257.4,26.6 258.8,26.6 260.2,26.7 261.6,26.7 263.0,26.8" stroke="#0000ff" stroke-width="1.8" stroke-linecap="butt" clip-path="url(#cl_B7_249)"/>
<path d="M166.0,26.3 167.2,26.6 168.4,26.8 169.5,27.1 170.7,27.3 172.0,27.6 173.5,27.9 175.1,28.3 176.7,28.6 178.4,28.9 180.0,29.2 181.6,29.4 183.1,29.6 184.7,29.8 186.3,29.9 187.8,29.8 189.4,29.5 190.9,29.1 192.5,28.6 194.0,28.0 195.4,27.6 196.4,27.3 197.3,27.1 198.2,26.8 199.1,26.6 200.0,26.3" stroke="#f00010" stroke-width="3.4" stroke-linecap="butt" clip-path="url(#cl_B6_164)"/>
<path d="M166.0,26.3 167.2,26.6 168.4,26.8 169.5,27.1 170.7,27.3 172.0,27.6 173.5,27.9 175.1,28.3 176.7,28.6 178.4,28.9 180.0,29.2 181.6,29.4 183.1,29.6 184.7,29.8 186.3,29.9 187.8,29.8 189.4,29.5 190.9,29.1 192.5,28.6 194.0,28.0 195.4,27.6 196.4,27.3 197.3,27.1 198.2,26.8 199.1,26.6 200.0,26.3" stroke="#0000ff" stroke-width="4.6" stroke-linecap="butt" clip-path="url(#cl_B6_183)"/>
<path d="M166.0,26.3 167.2,26.6 168.4,26.8 169.5,27.1 170.7,27.3 172.0,27.6 173.5,27.9 175.1,28.3 176.7,28.6 178.4,28.9 180.0,29.2 181.6,29.4 183.1,29.6 184.7,29.8 186.3,29.9 187.8,29.8 189.4,29.5 190.9,29.1 192.5,28.6 194.0,28.0 195.4,27.6 196.4,27.3 197.3,27.1 198.2,26.8 199.1,26.6 200.0,26.3" stroke="#0000ff" stroke-width="3.2" stroke-linecap="butt" clip-path="url(#cl_B6_194)"/>
<path d="M78.6,26.0 82.0,33.4 85.5,40.8 88.9,48.2 92.4,55.6 95.8,63.0 99.3,70.6 103.0,78.3 106.6,86.0 110.0,93.3 113.0,100.0 114.9,104.4 116.6,108.4 118.3,112.3 119.9,116.1 121.5,120.0 123.2,124.1 125.0,128.3 126.8,132.5 128.5,136.4 130.0,140.0 131.0,142.2 131.9,144.3 132.7,146.2 133.6,148.1 134.5,150.0 135.4,152.0 136.4,154.0 137.3,156.0 138.3,158.0 139.2,160.0 140.2,162.0 141.1,164.0 142.1,166.0 143.1,168.0 144.0,170.0 144.9,172.0 145.8,174.0 146.7,176.0 147.5,178.0 148.4,180.0 149.2,182.0 150.0,184.0 150.8,186.0 151.6,188.0 152.4,190.0 153.2,192.0 153.9,194.0 154.7,196.0 155.5,198.0 156.4,200.0 157.5,202.3 158.7,204.7 160.0,207.1 161.3,209.4 162.7,211.6 164.0,213.6 165.4,215.5 166.9,217.4 168.3,219.2 169.7,220.9 170.9,222.4 172.0,223.9 173.1,225.3 174.3,226.6 175.5,227.8 176.6,228.7 177.7,229.4 178.8,230.1 180.0,230.8 181.2,231.3 182.4,231.8 183.7,232.3 185.0,232.6 186.4,232.9 187.8,233.0 189.8,232.9 191.9,232.7 194.1,232.2 196.4,231.7 198.6,231.0 201.1,230.1 203.6,229.0 206.1,227.7 208.7,226.5 211.2,225.4 213.7,224.4 216.3,223.5 218.9,222.6 221.4,221.7 223.8,220.7 225.8,219.8 227.7,218.9 229.5,218.0 231.4,217.1 233.3,216.0 235.7,214.6 238.3,213.1 240.9,211.5 243.4,209.9 245.9,208.4 248.1,207.0 250.3,205.6 252.5,204.3 254.7,202.9 256.9,201.6 259.1,200.3 261.4,199.1 263.6,197.8 265.8,196.6 268.0,195.5 269.9,194.5 271.8,193.5 273.7,192.6 275.6,191.7 277.4,190.9 279.0,190.2 280.6,189.6 282.2,189.0 283.7,188.6 285.3,188.2 286.7,188.0 288.2,188.0 289.6,188.0 291.1,188.0 292.5,188.0" stroke="#000" stroke-width="1.3"/>
<path d="M85.6,26.0 89.1,33.6 92.7,41.2 96.2,48.8 99.8,56.4 103.3,64.0 107.0,71.9 110.9,80.1 114.7,88.2 118.2,95.7 121.0,102.0 122.2,105.0 123.3,107.7 124.2,110.1 125.1,112.5 126.0,115.0 126.9,117.4 127.8,119.8 128.7,122.2 129.6,124.6 130.5,127.0 131.4,129.7 132.3,132.4 133.2,135.2 134.1,137.8 135.0,140.0 135.6,141.3 136.3,142.4 136.9,143.5 137.5,144.5 138.2,145.5 138.9,146.4 139.5,147.3 140.2,148.2 140.9,149.1 141.6,150.0 142.3,150.9 142.9,151.9 143.5,152.9 144.2,153.9 144.9,154.9 145.8,156.2 146.7,157.5 147.6,158.8 148.5,160.2 149.5,161.5 150.5,162.8 151.6,164.1 152.6,165.4 153.7,166.6 154.8,167.8 155.8,168.9 156.9,169.9 157.9,170.9 159.0,171.9 160.0,172.8 160.9,173.6 161.9,174.4 162.8,175.2 163.7,176.0 164.7,176.7 165.6,177.4 166.6,178.1 167.5,178.8 168.5,179.4 169.5,180.0 170.5,180.6 171.5,181.1 172.5,181.6 173.5,182.1 174.6,182.6 175.8,183.1 177.1,183.6 178.4,184.1 179.7,184.5 181.0,184.8 182.3,185.1 183.6,185.4 184.9,185.6 186.3,185.7 187.8,185.5 190.5,184.6 193.5,183.2 196.7,181.3 199.8,179.4 202.5,177.7 204.4,176.5 206.2,175.3 207.8,174.0 209.4,172.8 211.0,171.5 212.5,170.3 213.9,169.1 215.3,167.8 216.7,166.5 217.9,165.0 219.1,163.1 220.2,161.1 221.2,158.9 222.2,156.8 223.2,154.8 224.0,153.2 224.8,151.7 225.6,150.3 226.4,148.9 227.2,147.5 228.0,146.2 228.8,145.0 229.6,143.8 230.4,142.7 231.2,141.5 232.0,140.4 232.7,139.3 233.5,138.2 234.3,137.2 235.1,136.2 236.0,135.2 236.9,134.2 237.8,133.3 238.8,132.4 239.8,131.6 240.7,131.0 241.6,130.4 242.5,129.9 243.4,129.5 244.4,129.0 245.5,128.6 246.6,128.2 247.7,127.8 248.8,127.4 250.0,127.0 251.2,126.5 252.4,126.0 253.7,125.5 255.0,125.0 256.3,124.6 257.9,124.2 259.6,123.8 261.4,123.4 263.2,123.1 265.0,122.8 266.9,122.6 268.9,122.4 271.0,122.3 273.0,122.2 275.0,122.1 277.0,122.0 279.1,122.0 281.1,121.9 283.1,121.9 285.0,121.9 286.6,121.9 288.1,121.9 289.6,121.9 291.0,122.0 292.5,122.0" stroke="#000" stroke-width="1.3"/>
<path d="M99.3,26.0 100.3,28.8 101.4,31.6 102.4,34.4 103.5,37.2 104.5,40.0 105.6,43.0 106.7,46.0 107.8,49.0 108.9,52.0 110.0,55.0 111.1,58.0 112.2,61.0 113.3,64.0 114.4,67.0 115.5,70.0 116.6,73.0 117.7,76.0 118.8,79.0 119.9,82.0 121.0,85.0 122.1,88.1 123.3,91.2 124.4,94.2 125.6,97.2 126.7,100.0 127.6,102.1 128.4,104.2 129.3,106.1 130.1,108.0 131.0,110.0 131.9,112.0 132.7,114.0 133.6,116.0 134.4,118.0 135.3,120.0 136.2,122.0 137.0,124.0 137.9,126.0 138.7,128.0 139.6,130.0 140.5,132.1 141.3,134.2 142.2,136.2 143.0,138.2 143.9,140.0 144.6,141.2 145.3,142.4 146.0,143.4 146.7,144.5 147.4,145.5 148.1,146.4 148.8,147.3 149.5,148.2 150.3,149.1 151.0,150.0 151.7,151.0 152.5,152.0 153.2,153.0 154.0,154.0 154.8,154.9 155.7,155.8 156.6,156.7 157.5,157.6 158.5,158.5 159.5,159.3 160.5,160.1 161.5,160.8 162.6,161.5 163.7,162.1 164.7,162.8 165.7,163.4 166.6,164.0 167.6,164.6 168.5,165.2 169.5,165.7 170.5,166.2 171.5,166.6 172.5,167.0 173.5,167.4 174.6,167.8 175.8,168.2 177.1,168.6 178.4,168.9 179.7,169.2 181.0,169.5 182.3,169.8 183.6,170.0 184.9,170.3 186.3,170.4 187.8,170.3 190.5,169.8 193.6,169.0 196.8,167.9 199.8,166.6 202.5,165.3 204.2,164.3 205.8,163.2 207.3,162.0 208.6,160.8 210.0,159.5 211.4,158.0 212.7,156.4 214.0,154.7 215.3,153.0 216.6,151.4 217.9,149.8 219.3,148.2 220.6,146.6 221.9,145.0 223.2,143.5 224.3,142.1 225.4,140.7 226.5,139.3 227.5,138.1 228.5,136.9 229.2,136.2 229.8,135.5 230.5,134.9 231.1,134.3 231.8,133.6 232.7,132.7 233.6,131.8 234.6,130.9 235.5,129.9 236.4,129.0 237.1,128.2 237.8,127.5 238.5,126.7 239.2,125.9 239.8,125.0 240.6,123.7 241.3,122.3 242.1,120.9 242.8,119.4 243.5,118.0 244.1,116.8 244.7,115.6 245.3,114.4 245.9,113.2 246.5,112.0 247.1,110.8 247.6,109.6 248.2,108.4 248.7,107.2 249.3,106.0 249.9,104.8 250.4,103.7 251.0,102.6 251.6,101.3 252.2,100.0 253.2,97.8 254.3,95.3 255.4,92.7 256.5,90.1 257.6,87.5 258.7,85.0 259.8,82.5 260.9,80.0 261.9,77.5 263.0,75.0 264.0,72.6 265.1,70.1 266.1,67.7 267.0,65.2 268.0,62.8 268.9,60.3 269.8,57.8 270.7,55.3 271.5,52.9 272.4,50.5 273.2,48.4 274.0,46.2 274.9,44.2 275.7,42.2 276.5,40.5 277.1,39.3 277.6,38.2 278.2,37.2 278.8,36.3 279.5,35.6 280.3,35.1 281.1,34.7 282.0,34.4 283.0,34.2 284.0,34.0 285.4,33.8 287.1,33.6 288.7,33.4 290.2,33.4 291.4,33.3 291.8,33.3 292.1,33.3 292.4,33.3 292.7,33.3 293.0,33.3" stroke="#000" stroke-width="1.3"/>
<path d="M122.0,26.0 123.8,30.0 125.6,34.0 127.4,38.0 129.2,42.0 131.0,46.0 132.8,50.0 134.6,54.0 136.4,58.1 138.2,62.1 140.0,66.0 141.7,69.7 143.3,73.5 144.9,77.2 146.5,80.8 148.0,84.0 149.1,86.2 150.1,88.2 151.1,90.2 152.0,92.1 153.0,94.0 153.9,95.9 154.8,97.7 155.7,99.5 156.6,101.3 157.5,103.0 158.3,104.5 159.1,105.9 159.9,107.3 160.7,108.6 161.5,110.0 162.3,111.3 163.1,112.6 163.9,113.9 164.7,115.2 165.5,116.5 166.4,117.8 167.2,119.1 168.2,120.4 169.1,121.6 170.0,122.8 170.9,123.9 171.8,124.9 172.7,125.9 173.6,126.9 174.5,127.8 175.4,128.6 176.3,129.4 177.2,130.2 178.1,130.9 179.0,131.5 179.9,132.0 180.8,132.5 181.7,132.9 182.6,133.3 183.5,133.6 184.3,133.8 185.1,134.0 185.9,134.2 186.8,134.3 187.8,134.4 190.3,134.6 193.3,134.9 196.6,135.0 199.7,135.1 202.5,135.1 204.2,135.0 205.7,134.9 207.2,134.7 208.6,134.5 210.0,134.3 211.3,134.2 212.7,134.1 214.0,134.0 215.3,133.8 216.6,133.6 217.9,133.3 219.3,133.0 220.6,132.6 221.9,132.1 223.2,131.6 224.3,131.0 225.5,130.4 226.5,129.7 227.6,129.0 228.5,128.3 229.2,127.7 229.9,127.1 230.6,126.5 231.2,125.8 231.8,125.0 232.6,123.9 233.3,122.6 234.1,121.2 234.8,119.8 235.5,118.5 236.2,117.2 236.9,115.9 237.6,114.6 238.3,113.3 239.0,112.0 239.7,110.8 240.3,109.6 241.0,108.4 241.6,107.2 242.3,106.0 242.9,104.8 243.6,103.7 244.2,102.6 244.8,101.4 245.5,100.0 246.5,97.8 247.5,95.3 248.5,92.7 249.6,90.1 250.6,87.5 251.7,85.0 252.7,82.5 253.8,80.0 254.8,77.5 255.9,75.0 256.9,72.6 257.9,70.1 259.0,67.7 260.0,65.2 261.0,62.8 262.1,60.3 263.1,57.8 264.2,55.4 265.3,52.9 266.3,50.5 267.2,48.3 268.0,46.2 268.8,44.0 269.7,42.0 270.5,40.0 271.2,38.2 271.9,36.5 272.6,34.8 273.4,33.3 274.3,32.1 275.0,31.5 275.7,31.1 276.5,30.7 277.2,30.5 278.0,30.2 278.8,30.0 279.6,29.8 280.3,29.6 281.2,29.5 282.0,29.4 283.0,29.3 283.9,29.2 284.9,29.1 286.0,29.0 287.0,28.9 288.2,28.8 289.4,28.8 290.6,28.7 291.8,28.7 293.0,28.6" stroke="#000" stroke-width="1.3"/>
<path d="M144.0,26.0 145.2,26.5 146.3,27.0 147.4,27.6 148.6,28.1 149.9,28.7 151.6,29.5 153.4,30.4 155.3,31.4 157.2,32.3 159.2,33.3 161.5,34.4 163.8,35.4 166.2,36.5 168.6,37.6 170.9,38.6 172.8,39.5 174.7,40.4 176.6,41.3 178.4,42.1 180.2,42.7 181.7,43.1 183.3,43.5 184.8,43.8 186.3,44.0 187.8,44.1 189.3,44.1 190.9,44.1 192.4,44.0 193.9,43.7 195.4,43.3 196.9,42.6 198.3,41.7 199.7,40.7 201.1,39.6 202.4,38.5 203.8,37.4 205.1,36.1 206.4,34.9 207.7,33.6 209.0,32.5 210.2,31.5 211.4,30.5 212.7,29.6 213.9,28.7 215.0,28.0 215.8,27.5 216.6,27.1 217.4,26.7 218.2,26.4 219.0,26.0" stroke="#000" stroke-width="1.3"/>
<path d="M165.0,26.2 166.0,26.7 167.0,27.1 168.0,27.6 169.0,28.0 170.0,28.4 171.0,28.8 172.0,29.1 173.0,29.4 174.0,29.7 175.0,29.9 176.2,30.1 177.4,30.3 178.6,30.5 179.8,30.6 181.0,30.7 182.0,30.8 183.0,30.8 184.0,30.9 185.0,30.9 186.0,31.0" stroke="#000" stroke-width="0.9"/>
<path d="M250.0,27.0 251.2,26.9 252.4,26.8 253.6,26.7 254.8,26.6 256.0,26.6 257.4,26.6 258.8,26.6 260.2,26.7 261.6,26.7 263.0,26.8" stroke="#000" stroke-width="1.3"/>
<path d="M166.0,26.3 167.2,26.6 168.4,26.8 169.5,27.1 170.7,27.3 172.0,27.6 173.5,27.9 175.1,28.3 176.7,28.6 178.4,28.9 180.0,29.2 181.6,29.4 183.1,29.6 184.7,29.8 186.3,29.9 187.8,29.8 189.4,29.5 190.9,29.1 192.5,28.6 194.0,28.0 195.4,27.6 196.4,27.3 197.3,27.1 198.2,26.8 199.1,26.6 200.0,26.3" stroke="#000" stroke-width="1.3"/>
</g>
<line x1="187.8" y1="26.0" x2="187.8" y2="259.8" stroke="#555" stroke-width="0.8"/>
<rect x="58.3" y="26.0" width="234.2" height="233.8" fill="none" stroke="#222" stroke-width="1.5"/>
<text x="309.00" y="47.30" font-size="14" text-anchor="start" font-weight="normal" fill="#111" font-family="'Liberation Serif', serif" style="" >Ω</text>
<text x="320.20" y="50.80" font-size="11" text-anchor="start" font-weight="normal" fill="#111" font-family="'Liberation Serif', serif" style="font-style:italic" >z</text>
<rect x="307.4" y="53.8" width="17.9" height="48.1" fill="#0000fe" stroke="#1c2f4f" stroke-width="1.7"/>
<rect x="308.3" y="54.7" width="16.1" height="22.1" fill="#ee0014"/>
<line x1="307.4" y1="77.5" x2="325.3" y2="77.5" stroke="#1c2f4f" stroke-width="1.7"/>
<path d="M333.8,65.8 H343.5 M338.65,61 V70.6 M333.8,85.2 H343.5" stroke="#111" stroke-width="1.1" fill="none"/>
<g clip-path="url(#clipB)">
<use href="#qbp" transform="translate(421.4 23.6)"/>
<use href="#qbp" transform="translate(615.5 23.6) scale(-1 1)"/>
<use href="#qbn" transform="translate(421.4 260.40000000000003) scale(1 -1)"/>
<use href="#qbn" transform="translate(615.5 260.40000000000003) scale(-1 -1)"/>
</g>
<rect x="421.4" y="23.6" width="194.10000000000002" height="236.79999999999998" fill="none" stroke="#111" stroke-width="1.2"/>
<text x="411.30" y="27.30" font-size="11.5" text-anchor="middle" font-weight="normal" fill="#222" font-family="'Liberation Sans', sans-serif" style="" >Γ</text>
<text x="414.40" y="146.40" font-size="11.5" text-anchor="middle" font-weight="normal" fill="#222" font-family="'Liberation Sans', sans-serif" style="" >Y</text>
<text x="410.50" y="274.60" font-size="11.5" text-anchor="middle" font-weight="normal" fill="#222" font-family="'Liberation Sans', sans-serif" style="" >Γ</text>
<text x="518.40" y="274.60" font-size="11.5" text-anchor="middle" font-weight="normal" fill="#222" font-family="'Liberation Sans', sans-serif" style="" >X</text>
<text x="616.20" y="274.60" font-size="11.5" text-anchor="middle" font-weight="normal" fill="#222" font-family="'Liberation Sans', sans-serif" style="" >Γ</text>
<rect x="627.4" y="21.0" width="12.899999999999977" height="242.2" fill="url(#cb0)" stroke="#111" stroke-width="1.1"/>
<line x1="640.3" y1="21.00" x2="643.0999999999999" y2="21.00" stroke="#111" stroke-width="0.9"/>
<text x="645.70" y="24.90" font-size="10" text-anchor="start" font-weight="normal" fill="#222" font-family="'Liberation Sans', sans-serif" style="" >&gt;50</text>
<line x1="640.3" y1="81.55" x2="643.0999999999999" y2="81.55" stroke="#111" stroke-width="0.9"/>
<text x="645.70" y="85.45" font-size="10" text-anchor="start" font-weight="normal" fill="#222" font-family="'Liberation Sans', sans-serif" style="" >25</text>
<line x1="640.3" y1="142.10" x2="643.0999999999999" y2="142.10" stroke="#111" stroke-width="0.9"/>
<text x="645.70" y="146.00" font-size="10" text-anchor="start" font-weight="normal" fill="#222" font-family="'Liberation Sans', sans-serif" style="" >0</text>
<line x1="640.3" y1="202.65" x2="643.0999999999999" y2="202.65" stroke="#111" stroke-width="0.9"/>
<text x="645.70" y="206.55" font-size="10" text-anchor="start" font-weight="normal" fill="#222" font-family="'Liberation Sans', sans-serif" style="" >-25</text>
<line x1="640.3" y1="263.20" x2="643.0999999999999" y2="263.20" stroke="#111" stroke-width="0.9"/>
<text x="645.70" y="267.10" font-size="10" text-anchor="start" font-weight="normal" fill="#222" font-family="'Liberation Sans', sans-serif" style="" >&lt;-50</text>
<text transform="translate(683.0 142.5) rotate(-90)" font-family="'Liberation Sans', sans-serif" font-size="12.6" fill="#222" text-anchor="middle">-<tspan font-size="13.5">Ω</tspan><tspan font-style="italic" font-size="9.5" dy="2.5">z</tspan><tspan dy="-2.5"> (Å</tspan><tspan font-size="8.5" dy="-4.5">2</tspan><tspan dy="4.5">)</tspan></text>
<g clip-path="url(#clipC)"><use href="#qcs" transform="translate(58.4 338.4)"/><use href="#qc" transform="translate(252.6 338.4) scale(-1 1)"/><use href="#qc" transform="translate(58.4 575.5) scale(1 -1)"/><use href="#qc" transform="translate(252.6 575.5) scale(-1 -1)"/></g>
<rect x="58.4" y="338.4" width="194.2" height="237.10000000000002" fill="none" stroke="#111" stroke-width="1.2"/>
<text x="48.70" y="341.80" font-size="11.5" text-anchor="middle" font-weight="normal" fill="#222" font-family="'Liberation Sans', sans-serif" style="" >Γ</text>
<text x="50.50" y="461.00" font-size="11.5" text-anchor="middle" font-weight="normal" fill="#222" font-family="'Liberation Sans', sans-serif" style="" >Y</text>
<text x="48.50" y="589.50" font-size="11.5" text-anchor="middle" font-weight="normal" fill="#222" font-family="'Liberation Sans', sans-serif" style="" >Γ</text>
<text x="155.50" y="589.50" font-size="11.5" text-anchor="middle" font-weight="normal" fill="#222" font-family="'Liberation Sans', sans-serif" style="" >X</text>
<text x="253.50" y="589.50" font-size="11.5" text-anchor="middle" font-weight="normal" fill="#222" font-family="'Liberation Sans', sans-serif" style="" >Γ</text>
<rect x="264.4" y="335.5" width="13.0" height="242.79999999999995" fill="url(#cb1)" stroke="#111" stroke-width="1.1"/>
<line x1="277.4" y1="335.50" x2="280.2" y2="335.50" stroke="#111" stroke-width="0.9"/>
<text x="282.80" y="339.40" font-size="10" text-anchor="start" font-weight="normal" fill="#222" font-family="'Liberation Sans', sans-serif" style="" >&gt;10</text>
<line x1="277.4" y1="396.20" x2="280.2" y2="396.20" stroke="#111" stroke-width="0.9"/>
<text x="282.80" y="400.10" font-size="10" text-anchor="start" font-weight="normal" fill="#222" font-family="'Liberation Sans', sans-serif" style="" >5</text>
<line x1="277.4" y1="456.90" x2="280.2" y2="456.90" stroke="#111" stroke-width="0.9"/>
<text x="282.80" y="460.80" font-size="10" text-anchor="start" font-weight="normal" fill="#222" font-family="'Liberation Sans', sans-serif" style="" >0</text>
<line x1="277.4" y1="517.60" x2="280.2" y2="517.60" stroke="#111" stroke-width="0.9"/>
<text x="282.80" y="521.50" font-size="10" text-anchor="start" font-weight="normal" fill="#222" font-family="'Liberation Sans', sans-serif" style="" >-5</text>
<line x1="277.4" y1="578.30" x2="280.2" y2="578.30" stroke="#111" stroke-width="0.9"/>
<text x="282.80" y="582.20" font-size="10" text-anchor="start" font-weight="normal" fill="#222" font-family="'Liberation Sans', sans-serif" style="" >&lt;-10</text>
<text transform="translate(318.6 457.0) rotate(-90)" font-family="'Liberation Sans', sans-serif" font-size="12.6" fill="#222" text-anchor="middle">D<tspan font-style="italic" font-size="9.5" dy="2.5">yz</tspan><tspan dy="-2.5"> (Å</tspan><tspan font-size="8.5" dy="-4.5">3</tspan><tspan dy="4.5">)</tspan></text>
<line x1="422.6" y1="577.30" x2="426.6" y2="577.30" stroke="#000" stroke-width="0.9"/>
<line x1="422.6" y1="573.30" x2="425.40000000000003" y2="573.30" stroke="#000" stroke-width="0.9"/>
<line x1="422.6" y1="569.30" x2="425.40000000000003" y2="569.30" stroke="#000" stroke-width="0.9"/>
<line x1="422.6" y1="565.31" x2="425.40000000000003" y2="565.31" stroke="#000" stroke-width="0.9"/>
<line x1="422.6" y1="561.31" x2="425.40000000000003" y2="561.31" stroke="#000" stroke-width="0.9"/>
<line x1="422.6" y1="557.31" x2="425.40000000000003" y2="557.31" stroke="#000" stroke-width="0.9"/>
<line x1="422.6" y1="553.31" x2="425.40000000000003" y2="553.31" stroke="#000" stroke-width="0.9"/>
<line x1="422.6" y1="549.31" x2="425.40000000000003" y2="549.31" stroke="#000" stroke-width="0.9"/>
<line x1="422.6" y1="545.31" x2="425.40000000000003" y2="545.31" stroke="#000" stroke-width="0.9"/>
<line x1="422.6" y1="541.32" x2="425.40000000000003" y2="541.32" stroke="#000" stroke-width="0.9"/>
<line x1="422.6" y1="537.32" x2="426.6" y2="537.32" stroke="#000" stroke-width="0.9"/>
<line x1="422.6" y1="533.32" x2="425.40000000000003" y2="533.32" stroke="#000" stroke-width="0.9"/>
<line x1="422.6" y1="529.32" x2="425.40000000000003" y2="529.32" stroke="#000" stroke-width="0.9"/>
<line x1="422.6" y1="525.32" x2="425.40000000000003" y2="525.32" stroke="#000" stroke-width="0.9"/>
<line x1="422.6" y1="521.32" x2="425.40000000000003" y2="521.32" stroke="#000" stroke-width="0.9"/>
<line x1="422.6" y1="517.33" x2="425.40000000000003" y2="517.33" stroke="#000" stroke-width="0.9"/>
<line x1="422.6" y1="513.33" x2="425.40000000000003" y2="513.33" stroke="#000" stroke-width="0.9"/>
<line x1="422.6" y1="509.33" x2="425.40000000000003" y2="509.33" stroke="#000" stroke-width="0.9"/>
<line x1="422.6" y1="505.33" x2="425.40000000000003" y2="505.33" stroke="#000" stroke-width="0.9"/>
<line x1="422.6" y1="501.33" x2="425.40000000000003" y2="501.33" stroke="#000" stroke-width="0.9"/>
<line x1="422.6" y1="497.33" x2="426.6" y2="497.33" stroke="#000" stroke-width="0.9"/>
<line x1="422.6" y1="493.34" x2="425.40000000000003" y2="493.34" stroke="#000" stroke-width="0.9"/>
<line x1="422.6" y1="489.34" x2="425.40000000000003" y2="489.34" stroke="#000" stroke-width="0.9"/>
<line x1="422.6" y1="485.34" x2="425.40000000000003" y2="485.34" stroke="#000" stroke-width="0.9"/>
<line x1="422.6" y1="481.34" x2="425.40000000000003" y2="481.34" stroke="#000" stroke-width="0.9"/>
<line x1="422.6" y1="477.34" x2="425.40000000000003" y2="477.34" stroke="#000" stroke-width="0.9"/>
<line x1="422.6" y1="473.34" x2="425.40000000000003" y2="473.34" stroke="#000" stroke-width="0.9"/>
<line x1="422.6" y1="469.35" x2="425.40000000000003" y2="469.35" stroke="#000" stroke-width="0.9"/>
<line x1="422.6" y1="465.35" x2="425.40000000000003" y2="465.35" stroke="#000" stroke-width="0.9"/>
<line x1="422.6" y1="461.35" x2="425.40000000000003" y2="461.35" stroke="#000" stroke-width="0.9"/>
<line x1="422.6" y1="457.35" x2="426.6" y2="457.35" stroke="#000" stroke-width="0.9"/>
<line x1="422.6" y1="453.35" x2="425.40000000000003" y2="453.35" stroke="#000" stroke-width="0.9"/>
<line x1="422.6" y1="449.35" x2="425.40000000000003" y2="449.35" stroke="#000" stroke-width="0.9"/>
<line x1="422.6" y1="445.36" x2="425.40000000000003" y2="445.36" stroke="#000" stroke-width="0.9"/>
<line x1="422.6" y1="441.36" x2="425.40000000000003" y2="441.36" stroke="#000" stroke-width="0.9"/>
<line x1="422.6" y1="437.36" x2="425.40000000000003" y2="437.36" stroke="#000" stroke-width="0.9"/>
<line x1="422.6" y1="433.36" x2="425.40000000000003" y2="433.36" stroke="#000" stroke-width="0.9"/>
<line x1="422.6" y1="429.36" x2="425.40000000000003" y2="429.36" stroke="#000" stroke-width="0.9"/>
<line x1="422.6" y1="425.36" x2="425.40000000000003" y2="425.36" stroke="#000" stroke-width="0.9"/>
<line x1="422.6" y1="421.37" x2="425.40000000000003" y2="421.37" stroke="#000" stroke-width="0.9"/>
<line x1="422.6" y1="417.37" x2="426.6" y2="417.37" stroke="#000" stroke-width="0.9"/>
<line x1="422.6" y1="413.37" x2="425.40000000000003" y2="413.37" stroke="#000" stroke-width="0.9"/>
<line x1="422.6" y1="409.37" x2="425.40000000000003" y2="409.37" stroke="#000" stroke-width="0.9"/>
<line x1="422.6" y1="405.37" x2="425.40000000000003" y2="405.37" stroke="#000" stroke-width="0.9"/>
<line x1="422.6" y1="401.37" x2="425.40000000000003" y2="401.37" stroke="#000" stroke-width="0.9"/>
<line x1="422.6" y1="397.38" x2="425.40000000000003" y2="397.38" stroke="#000" stroke-width="0.9"/>
<line x1="422.6" y1="393.38" x2="425.40000000000003" y2="393.38" stroke="#000" stroke-width="0.9"/>
<line x1="422.6" y1="389.38" x2="425.40000000000003" y2="389.38" stroke="#000" stroke-width="0.9"/>
<line x1="422.6" y1="385.38" x2="425.40000000000003" y2="385.38" stroke="#000" stroke-width="0.9"/>
<line x1="422.6" y1="381.38" x2="425.40000000000003" y2="381.38" stroke="#000" stroke-width="0.9"/>
<line x1="422.6" y1="377.38" x2="426.6" y2="377.38" stroke="#000" stroke-width="0.9"/>
<line x1="422.6" y1="373.39" x2="425.40000000000003" y2="373.39" stroke="#000" stroke-width="0.9"/>
<line x1="422.6" y1="369.39" x2="425.40000000000003" y2="369.39" stroke="#000" stroke-width="0.9"/>
<line x1="422.6" y1="365.39" x2="425.40000000000003" y2="365.39" stroke="#000" stroke-width="0.9"/>
<line x1="422.6" y1="361.39" x2="425.40000000000003" y2="361.39" stroke="#000" stroke-width="0.9"/>
<line x1="422.6" y1="357.39" x2="425.40000000000003" y2="357.39" stroke="#000" stroke-width="0.9"/>
<line x1="422.6" y1="353.39" x2="425.40000000000003" y2="353.39" stroke="#000" stroke-width="0.9"/>
<line x1="422.6" y1="349.40" x2="425.40000000000003" y2="349.40" stroke="#000" stroke-width="0.9"/>
<line x1="422.6" y1="345.40" x2="425.40000000000003" y2="345.40" stroke="#000" stroke-width="0.9"/>
<line x1="422.6" y1="341.40" x2="425.40000000000003" y2="341.40" stroke="#000" stroke-width="0.9"/>
<line x1="422.6" y1="337.40" x2="426.6" y2="337.40" stroke="#000" stroke-width="0.9"/>
<line x1="433.40" y1="577.3" x2="433.40" y2="573.3" stroke="#000" stroke-width="0.9"/>
<line x1="444.34" y1="577.3" x2="444.34" y2="574.5" stroke="#000" stroke-width="0.9"/>
<line x1="455.28" y1="577.3" x2="455.28" y2="574.5" stroke="#000" stroke-width="0.9"/>
<line x1="466.22" y1="577.3" x2="466.22" y2="574.5" stroke="#000" stroke-width="0.9"/>
<line x1="477.16" y1="577.3" x2="477.16" y2="574.5" stroke="#000" stroke-width="0.9"/>
<line x1="488.10" y1="577.3" x2="488.10" y2="574.5" stroke="#000" stroke-width="0.9"/>
<line x1="499.04" y1="577.3" x2="499.04" y2="574.5" stroke="#000" stroke-width="0.9"/>
<line x1="509.98" y1="577.3" x2="509.98" y2="574.5" stroke="#000" stroke-width="0.9"/>
<line x1="520.92" y1="577.3" x2="520.92" y2="574.5" stroke="#000" stroke-width="0.9"/>
<line x1="531.86" y1="577.3" x2="531.86" y2="574.5" stroke="#000" stroke-width="0.9"/>
<line x1="542.80" y1="577.3" x2="542.80" y2="573.3" stroke="#000" stroke-width="0.9"/>
<line x1="553.74" y1="577.3" x2="553.74" y2="574.5" stroke="#000" stroke-width="0.9"/>
<line x1="564.68" y1="577.3" x2="564.68" y2="574.5" stroke="#000" stroke-width="0.9"/>
<line x1="575.62" y1="577.3" x2="575.62" y2="574.5" stroke="#000" stroke-width="0.9"/>
<line x1="586.56" y1="577.3" x2="586.56" y2="574.5" stroke="#000" stroke-width="0.9"/>
<line x1="597.50" y1="577.3" x2="597.50" y2="574.5" stroke="#000" stroke-width="0.9"/>
<line x1="608.44" y1="577.3" x2="608.44" y2="574.5" stroke="#000" stroke-width="0.9"/>
<line x1="619.38" y1="577.3" x2="619.38" y2="574.5" stroke="#000" stroke-width="0.9"/>
<line x1="630.32" y1="577.3" x2="630.32" y2="574.5" stroke="#000" stroke-width="0.9"/>
<line x1="641.26" y1="577.3" x2="641.26" y2="574.5" stroke="#000" stroke-width="0.9"/>
<line x1="652.20" y1="577.3" x2="652.20" y2="573.3" stroke="#000" stroke-width="0.9"/>
<text x="419.80" y="340.90" font-size="10" text-anchor="end" font-weight="normal" fill="#222" font-family="'Liberation Sans', sans-serif" style="" >6</text>
<text x="419.80" y="380.88" font-size="10" text-anchor="end" font-weight="normal" fill="#222" font-family="'Liberation Sans', sans-serif" style="" >4</text>
<text x="419.80" y="420.87" font-size="10" text-anchor="end" font-weight="normal" fill="#222" font-family="'Liberation Sans', sans-serif" style="" >2</text>
<text x="419.80" y="460.85" font-size="10" text-anchor="end" font-weight="normal" fill="#222" font-family="'Liberation Sans', sans-serif" style="" >0</text>
<text x="419.80" y="500.83" font-size="10" text-anchor="end" font-weight="normal" fill="#222" font-family="'Liberation Sans', sans-serif" style="" >−2</text>
<text x="419.80" y="540.82" font-size="10" text-anchor="end" font-weight="normal" fill="#222" font-family="'Liberation Sans', sans-serif" style="" >−4</text>
<text x="419.80" y="580.80" font-size="10" text-anchor="end" font-weight="normal" fill="#222" font-family="'Liberation Sans', sans-serif" style="" >−6</text>
<text x="433.40" y="588.20" font-size="10" text-anchor="middle" font-weight="normal" fill="#222" font-family="'Liberation Sans', sans-serif" style="" >−0.1</text>
<text x="542.80" y="588.20" font-size="10" text-anchor="middle" font-weight="normal" fill="#222" font-family="'Liberation Sans', sans-serif" style="" >0.0</text>
<text x="652.20" y="588.20" font-size="10" text-anchor="middle" font-weight="normal" fill="#222" font-family="'Liberation Sans', sans-serif" style="" >0.1</text>
<text x="543.00" y="602.50" font-size="11.9" text-anchor="middle" font-weight="normal" fill="#222" font-family="'Liberation Sans', sans-serif" style="" >Fermi Energy Shift (eV)</text>
<text x="403.00" y="457.90" font-size="11.9" text-anchor="middle" font-weight="normal" fill="#222" font-family="'Liberation Sans', sans-serif" transform="rotate(-90 403.0 457.9)" style="" >Berry Curvature Dipole (Angstrom)</text>
<g clip-path="url(#clipD)" fill="none" stroke-linejoin="round"><path d="M422.6,457.1 427.1,457.1 431.6,457.1 436.1,457.0 440.6,457.0 445.0,457.0 449.2,457.0 453.4,457.1 457.6,457.1 461.5,457.1 465.0,457.0 467.3,456.9 469.4,456.8 471.3,456.6 473.2,456.4 474.9,456.2 476.0,456.0 477.1,455.8 478.1,455.6 479.0,455.4 480.0,455.2 481.0,455.0 481.9,454.9 482.9,454.7 483.9,454.6 484.8,454.6 485.6,454.6 486.5,454.8 487.3,454.9 488.1,455.1 489.0,455.3 490.1,455.6 491.2,456.0 492.4,456.4 493.6,456.8 494.8,457.1 496.3,457.5 497.9,457.8 499.5,458.2 501.1,458.4 502.7,458.6 504.2,458.6 505.7,458.5 507.3,458.4 508.9,458.2 510.6,458.1 513.1,458.0 515.8,457.9 518.6,457.8 521.6,457.7 524.5,457.6 527.9,457.5 531.4,457.4 535.0,457.2 538.5,457.2 542.0,457.1 545.3,457.1 548.5,457.2 551.7,457.2 554.9,457.3 558.2,457.3 561.8,457.2 565.6,457.1 569.4,457.0 573.0,456.8 576.4,456.7 578.8,456.6 581.1,456.4 583.2,456.3 585.3,456.2 587.3,456.2 588.8,456.3 590.2,456.4 591.6,456.5 593.0,456.7 594.5,456.9 596.4,457.2 598.5,457.5 600.6,457.9 602.7,458.1 604.5,458.2 605.7,458.1 606.8,457.9 607.9,457.7 608.9,457.4 610.0,457.2 611.2,456.9 612.4,456.7 613.7,456.4 615.0,456.1 616.4,455.8 618.7,455.4 621.4,454.9 624.2,454.5 626.8,454.2 629.1,454.2 630.3,454.3 631.4,454.5 632.4,454.7 633.4,455.1 634.5,455.5 635.9,456.2 637.4,457.2 638.9,458.2 640.4,459.2 641.8,460.0 642.9,460.6 644.0,461.1 645.1,461.6 646.2,462.0 647.3,462.2 648.4,462.3 649.4,462.3 650.5,462.2 651.6,462.0 652.7,461.8 654.1,461.5 655.7,461.2 657.3,460.8 658.7,460.4 660.0,460.0 660.7,459.8 661.3,459.6 661.8,459.5 662.3,459.3 662.9,459.1" stroke="#1428f0" stroke-width="2.3"/><path d="M422.6,460.6 424.1,460.8 425.5,461.0 427.0,461.2 428.5,461.3 430.0,461.5 431.8,461.6 433.7,461.8 435.7,461.9 437.6,461.9 439.5,462.0 441.3,462.0 443.0,462.1 444.8,462.1 446.5,462.1 448.3,462.0 450.1,461.9 451.8,461.8 453.6,461.6 455.3,461.4 457.0,461.2 458.6,461.0 460.3,460.8 461.9,460.6 463.5,460.3 465.0,459.8 466.3,459.3 467.5,458.7 468.7,458.0 469.9,457.2 471.0,456.2 472.3,454.8 473.5,453.2 474.7,451.4 475.8,449.5 476.9,447.6 478.0,445.4 479.1,443.0 480.1,440.6 481.0,438.2 481.9,435.8 482.6,433.7 483.2,431.7 483.7,429.7 484.3,427.7 484.8,425.6 485.4,423.3 486.0,420.9 486.6,418.5 487.2,416.0 487.8,413.5 488.4,410.8 489.0,408.0 489.6,405.2 490.2,402.4 490.8,399.6 491.4,396.8 492.0,394.0 492.6,391.3 493.2,388.5 493.8,385.7 494.4,382.9 495.0,380.1 495.5,377.3 496.1,374.6 496.7,372.0 497.2,369.8 497.7,367.7 498.2,365.6 498.8,363.8 499.4,362.3 499.8,361.5 500.3,360.8 500.7,360.2 501.2,359.8 501.7,359.6 502.2,359.8 502.8,360.2 503.4,360.9 503.9,361.7 504.4,362.6 505.1,364.3 505.8,366.3 506.4,368.6 506.9,371.0 507.4,373.4 507.9,376.4 508.4,379.6 508.8,382.9 509.2,386.3 509.6,389.7 510.0,393.5 510.4,397.5 510.8,401.5 511.2,405.5 511.6,409.5 512.0,413.5 512.4,417.5 512.8,421.4 513.2,425.4 513.6,429.4 514.0,433.4 514.4,437.4 514.8,441.4 515.2,445.4 515.6,449.2 516.0,452.5 516.3,455.7 516.7,458.8 517.1,461.9 517.6,465.1 518.2,468.3 518.9,471.5 519.6,474.8 520.3,478.0 521.0,481.3 521.7,484.8 522.4,488.5 523.1,492.1 523.8,495.6 524.5,498.8 525.0,501.0 525.5,503.2 526.0,505.2 526.5,507.0 527.1,508.5 527.5,509.3 527.9,510.1 528.4,510.8 528.9,511.3 529.4,511.5 530.0,511.4 530.6,511.1 531.2,510.6 531.8,510.0 532.4,509.3 533.2,508.2 533.9,506.9 534.5,505.5 535.2,503.9 535.9,502.3 536.9,500.0 537.9,497.5 538.9,494.9 540.0,492.4 541.0,490.0 541.9,488.1 542.8,486.3 543.7,484.6 544.6,482.8 545.5,480.9 546.6,478.5 547.6,475.9 548.7,473.3 549.8,470.7 550.9,468.2 551.9,466.1 553.0,464.1 554.1,462.1 555.2,460.2 556.4,458.2 557.7,456.1 559.1,454.1 560.5,452.1 562.0,450.1 563.6,448.2 565.3,446.4 567.0,444.6 568.9,442.9 570.8,441.3 572.7,440.0 574.5,439.0 576.4,438.1 578.3,437.4 580.1,436.8 581.8,436.4 583.0,436.2 584.0,436.0 585.1,436.0 586.2,436.0 587.3,436.0 588.7,436.1 590.1,436.3 591.5,436.5 593.0,436.7 594.5,436.9 596.2,437.1 598.0,437.3 599.8,437.5 601.7,437.7 603.6,437.8 606.0,437.9 608.6,438.0 611.2,438.1 613.8,438.1 616.4,438.2 619.0,438.2 621.7,438.2 624.4,438.2 626.9,438.3 629.1,438.5 630.3,438.7 631.5,438.9 632.5,439.2 633.5,439.5 634.5,440.0 635.7,440.7 636.8,441.5 637.9,442.4 639.0,443.4 640.0,444.5 641.2,446.0 642.3,447.6 643.3,449.4 644.4,451.1 645.5,452.7 646.6,454.1 647.7,455.5 648.8,456.8 649.8,458.1 650.9,459.1 651.6,459.7 652.3,460.3 653.0,460.8 653.8,461.2 654.5,461.5 655.2,461.8 655.9,461.9 656.7,462.1 657.4,462.1 658.2,462.2 659.1,462.2 660.0,462.1 661.0,462.0 662.0,461.9 662.9,461.8" stroke="#e9361c" stroke-width="2.3"/></g>
<rect x="422.6" y="337.4" width="240.29999999999995" height="239.89999999999998" fill="none" stroke="#222" stroke-width="1.4"/>
<line x1="614" y1="350" x2="636.4" y2="350" stroke="#1428f0" stroke-width="2.3"/>
<line x1="614" y1="364.8" x2="636.4" y2="364.8" stroke="#e9361c" stroke-width="2.3"/>
<text x="643.80" y="354.00" font-size="11" text-anchor="start" font-weight="normal" fill="#222" font-family="'Liberation Sans', sans-serif" style="" >xz</text>
<text x="643.80" y="368.80" font-size="11" text-anchor="start" font-weight="normal" fill="#222" font-family="'Liberation Sans', sans-serif" style="" >yz</text>
</svg>
</body></html>
